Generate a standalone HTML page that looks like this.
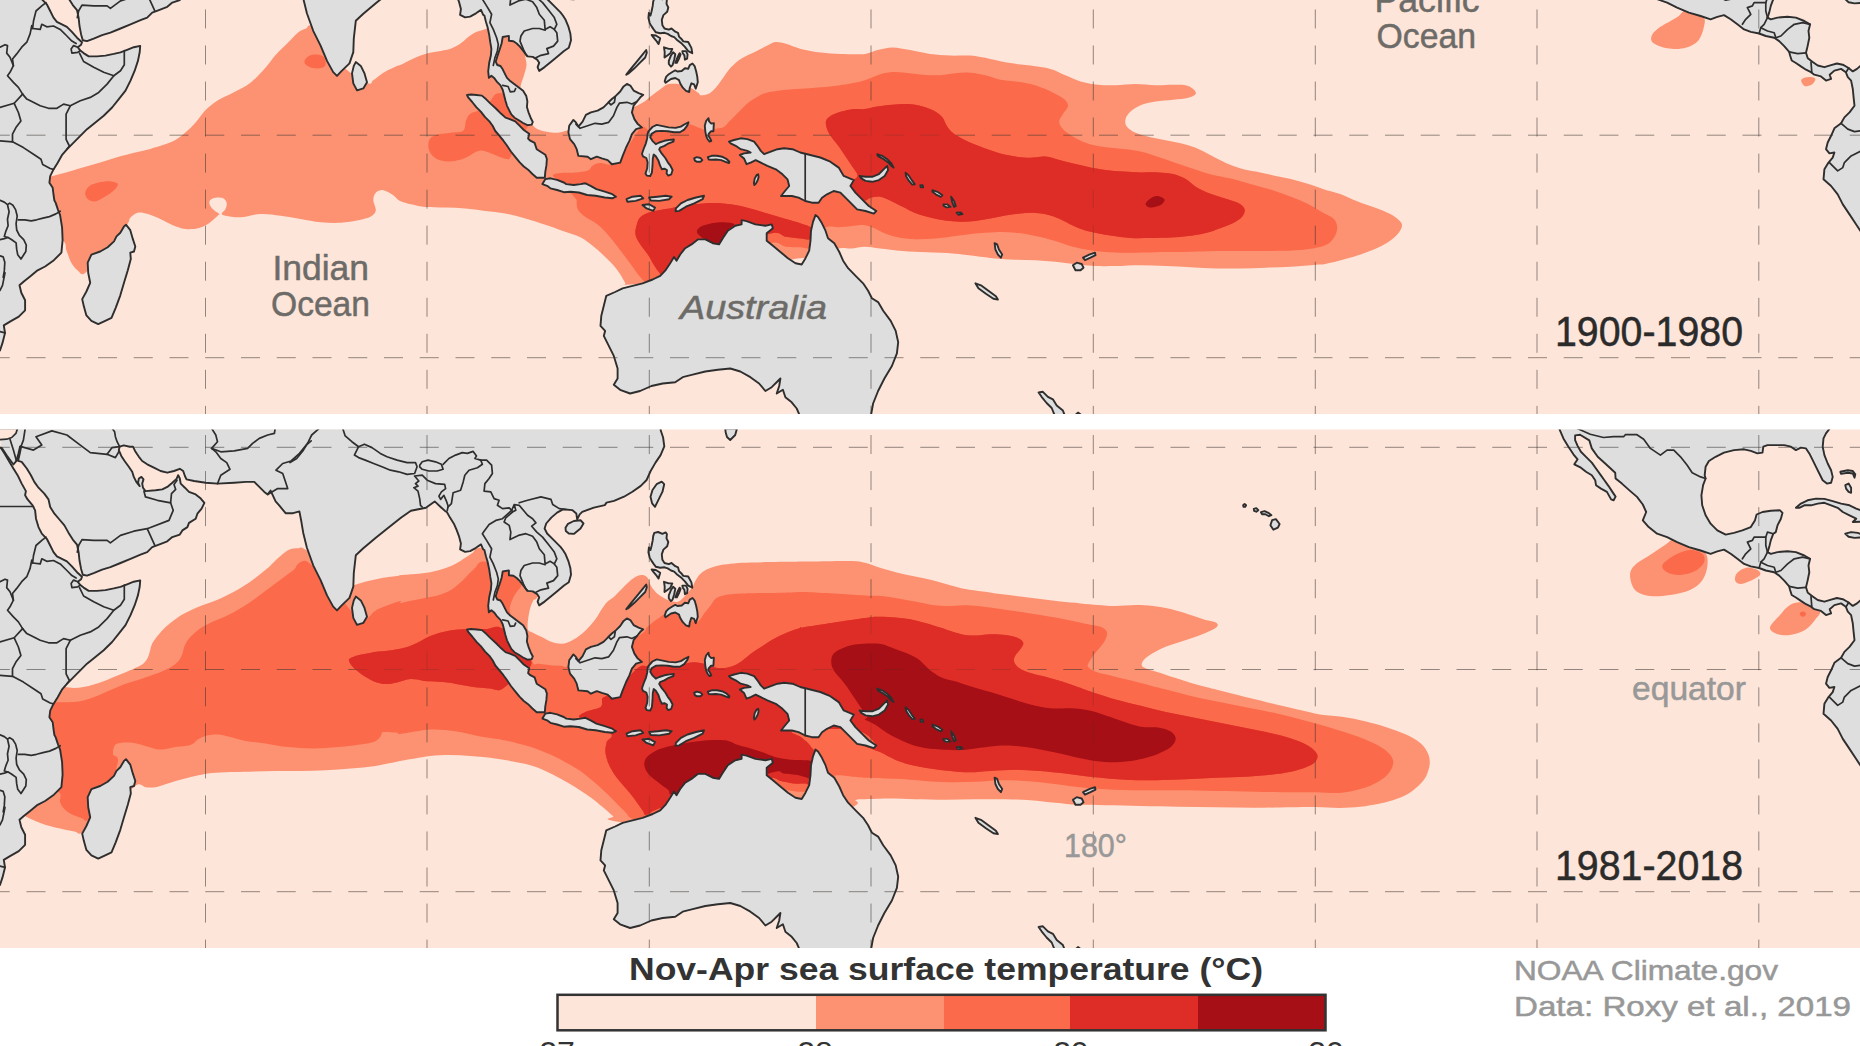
<!DOCTYPE html>
<html><head><meta charset="utf-8">
<style>
html,body{margin:0;padding:0;background:#fff;}
svg{display:block;font-family:"Liberation Sans",sans-serif;}
.lf polygon{fill:#dedede;stroke:#dedede;stroke-width:0.6;}
.sea polygon{fill:#fee5d9;stroke:#2e2e2e;stroke-width:1.7;stroke-linejoin:round;}
.ll polygon,.ll polyline{fill:none;stroke:#2e2e2e;stroke-width:1.9;stroke-linejoin:round;stroke-linecap:round;}
.bd polyline{fill:none;stroke:#2e2e2e;stroke-width:1.7;stroke-linejoin:round;stroke-linecap:round;}
.grid line{stroke:#3a3432;stroke-opacity:0.55;stroke-width:1.0;}
.gh line{stroke-dasharray:19 16.75;stroke-dashoffset:-26.5;}
.gv line{stroke-dasharray:19 17.04;}
.oc{fill:#6d6b68;font-size:35.5px;stroke:#6d6b68;stroke-width:0.5;}
.yr{fill:#2b2b2b;font-size:42px;stroke:#2b2b2b;stroke-width:0.5;}
.gl{fill:#989898;stroke:#989898;stroke-width:0.5;}
</style></head><body>
<svg width="1860" height="1046" viewBox="0 0 1860 1046">
<defs>
<clipPath id="ct"><rect x="0" y="0" width="1860" height="414"/></clipPath>
<clipPath id="cb"><rect x="0" y="429.5" width="1860" height="518.5"/></clipPath>
<clipPath id="lcb">
<polygon points="0.0,884.9 2.5,877.4 5.0,867.4 3.8,859.9 10.0,856.1 18.8,851.1 25.1,844.8 25.1,834.8 21.3,827.3 19.5,819.8 23.8,816.0 30.1,811.0 37.6,804.8 45.1,801.0 53.9,794.7 61.4,787.2 62.6,774.7 62.1,762.2 60.1,749.6 58.1,744.6 55.6,737.1 54.4,735.0 53.5,729.0 52.7,722.3 49.4,717.3 50.2,710.6 53.5,703.9 57.7,697.2 61.9,689.7 66.9,683.8 73.6,677.1 80.3,670.4 87.0,663.7 95.4,657.0 103.7,650.3 112.1,642.0 118.8,633.6 125.5,625.2 130.5,615.2 134.7,605.2 138.0,595.1 139.7,586.8 140.2,580.4 133.8,581.7 127.1,584.3 120.5,586.8 113.8,588.4 105.4,590.1 97.0,590.9 88.7,590.9 83.6,587.6 80.3,585.1 77.8,581.7 81.1,579.2 82.0,576.7 77.0,572.2 71.9,566.4 66.9,561.3 61.9,558.8 56.9,556.3 53.5,552.1 50.2,545.5 46.8,538.8 41.8,533.7 38.5,527.1 36.0,518.7 35.1,510.3 32.6,505.3 27.6,499.4 25.1,495.3 25.9,491.1 21.7,483.6 17.6,475.2 13.4,468.5 9.2,461.5 4.7,453.8 1.0,448.1 -2.0,446.4 -10.0,425.0 -10.0,960.0"/>
<polygon points="1.7,447.8 7.0,455.8 13.4,464.5 16.2,461.1 18.4,453.8 20.1,446.4 21.2,446.4 19.7,453.8 18.1,460.8 21.7,461.8 26.8,468.5 30.9,475.2 34.3,481.9 38.5,487.7 44.3,493.6 48.5,499.4 50.2,507.0 54.4,513.7 59.4,519.5 64.4,525.4 68.6,532.9 72.8,539.6 77.0,544.6 78.6,552.1 79.5,560.5 81.1,568.9 82.8,574.7 87.0,575.6 93.7,573.1 102.1,569.7 110.4,567.2 120.5,563.0 130.5,558.8 140.5,554.7 147.2,552.1 152.2,547.1 158.9,544.6 167.3,541.3 172.3,537.1 179.8,534.6 182.4,530.4 187.4,527.1 189.0,522.9 195.7,518.7 197.4,513.7 201.6,508.6 204.4,502.8 200.8,498.6 195.7,494.4 189.0,491.9 184.9,487.7 180.7,483.6 179.8,478.5 178.2,475.2 176.5,478.9 172.3,482.7 167.3,486.9 162.3,489.4 155.6,490.2 145.5,491.1 143.0,487.7 142.2,483.6 143.5,479.4 141.4,476.9 138.9,478.5 138.0,482.7 139.7,486.1 136.3,481.9 133.8,476.9 132.2,471.8 128.8,466.8 124.6,461.0 121.3,455.9 118.8,450.1 119.6,446.7 123.8,445.4 129.7,446.7 133.0,446.7 135.5,451.8 138.9,456.8 142.2,461.0 147.2,464.3 153.9,467.7 160.6,471.0 167.3,472.7 174.0,471.0 179.8,468.8 183.2,471.0 184.9,476.0 186.5,479.4 194.1,481.0 205.8,482.7 217.5,483.6 234.2,482.7 245.9,481.9 254.3,481.9 259.3,486.9 264.3,491.9 267.7,494.4 270.6,490.6 275.6,501.4 279.4,505.7 285.6,513.2 293.1,513.2 299.4,511.4 301.1,520.2 303.2,532.7 306.9,547.8 313.2,565.3 320.7,580.3 327.0,595.4 333.2,606.6 337.0,610.4 341.2,605.9 349.5,597.9 353.3,586.6 353.8,572.8 355.8,555.3 363.3,548.3 375.8,537.7 388.3,527.7 400.9,517.7 410.9,510.7 425.9,507.7 434.7,501.4 440.9,507.2 445.5,511.4 446.7,511.8 450.0,517.6 454.2,524.3 456.7,530.2 459.2,536.9 460.9,543.6 460.1,549.4 465.1,551.9 470.1,551.1 476.0,547.8 481.0,544.4 483.2,549.4 484.4,550.0 486.0,556.5 487.6,561.8 489.2,569.4 490.3,576.9 491.4,583.3 490.9,589.8 489.2,597.3 488.2,605.9 488.9,612.4 491.4,610.2 494.1,612.4 497.3,616.7 500.5,619.9 502.7,624.2 503.8,628.5 505.4,634.9 507.0,640.3 509.1,644.6 511.3,648.9 514.5,652.2 518.8,654.8 523.1,657.5 527.4,659.7 531.7,659.1 532.8,656.5 530.6,652.2 528.5,646.8 526.9,641.4 527.4,636.0 526.3,630.6 523.1,625.3 518.8,622.0 514.5,618.8 510.2,615.6 507.0,612.4 504.8,608.1 502.7,603.8 500.5,600.5 497.3,599.5 495.7,596.2 497.3,590.9 499.5,584.4 501.6,578.0 502.7,571.5 508.9,570.4 508.9,575.3 513.4,575.8 516.7,578.0 519.9,581.2 524.2,586.6 527.4,590.9 532.8,591.4 537.1,594.1 539.2,597.3 537.6,601.6 539.2,605.4 544.6,601.6 551.1,596.2 557.5,590.9 564.0,585.5 568.8,582.3 571.0,574.7 570.4,568.3 568.3,560.8 565.6,554.3 562.9,550.0 560.5,546.9 553.8,540.2 547.1,533.5 544.6,528.5 546.2,523.5 551.3,517.6 557.1,512.6 563.0,509.3 572.2,510.1 576.3,513.5 577.2,519.3 579.7,514.3 582.2,511.8 593.9,507.6 604.8,505.1 606.5,502.6 614.0,500.9 624.0,496.7 632.4,491.7 640.8,485.9 646.6,480.0 650.5,471.3 655.5,462.6 660.6,455.1 664.3,446.3 663.1,437.5 660.6,430.0 662.6,422.5 0.0,420.0"/>
<polygon points="355.8,596.6 360.8,600.4 364.5,607.9 367.0,616.7 363.3,622.9 357.0,624.9 353.3,617.9 352.0,607.9 353.8,600.4"/>
<polygon points="126.0,759.2 130.3,764.7 132.8,773.4 135.3,781.0 134.0,786.0 130.3,787.2 130.8,793.5 127.8,804.8 124.0,817.3 120.3,829.8 115.7,842.3 111.5,852.4 105.2,855.4 98.2,858.6 91.4,855.4 86.4,849.9 83.9,841.1 82.2,833.6 86.4,826.0 90.2,817.3 88.2,807.3 87.7,797.2 91.4,789.2 100.2,786.0 107.7,781.7 114.0,775.9 116.5,770.9 120.3,767.2 124.0,760.9"/>
<polygon points="565.5,527.7 568.0,523.8 573.8,521.0 580.5,520.2 583.5,523.5 580.5,528.5 573.8,533.9 568.8,533.5 565.8,531.0"/>
<polygon points="650.5,496.7 652.5,490.0 656.6,484.2 661.7,481.7 664.2,484.2 662.5,491.7 658.3,500.1 655.0,506.8 652.1,503.4"/>
<polygon points="654.3,532.9 658.1,532.0 662.4,533.8 665.6,532.4 666.9,534.0 666.5,538.3 668.3,542.0 667.2,546.3 663.4,549.6 661.8,554.4 662.4,559.8 664.5,563.0 668.8,564.1 671.5,563.0 675.3,566.2 678.0,567.3 679.0,571.1 681.2,573.2 683.3,575.9 688.2,576.5 691.4,582.4 692.3,587.7 688.2,585.6 684.9,581.3 681.7,578.1 677.4,574.8 674.2,571.6 671.0,570.5 667.7,568.4 664.5,567.3 660.2,567.8 655.9,566.8 653.8,564.1 651.6,560.9 649.7,557.6 648.4,552.3 648.9,547.4 650.5,550.1 651.6,545.8 652.7,540.4 653.2,536.1"/>
<polygon points="651.6,569.5 655.9,570.0 660.2,572.7 658.6,578.6 655.9,574.8 653.2,571.6"/>
<polygon points="664.0,581.8 668.8,583.4 672.3,583.4 670.4,587.7 666.7,590.4 664.5,592.0 664.7,586.7"/>
<polygon points="668.8,595.3 671.0,589.9 673.1,586.7 675.3,588.8 674.2,594.2 672.6,599.6 671.0,601.2 668.8,598.5"/>
<polygon points="675.3,597.4 677.4,592.0 679.6,587.7 680.6,588.8 679.0,593.1 676.9,597.4"/>
<polygon points="682.3,585.6 686.0,585.6 687.6,588.8 687.1,593.1 684.9,594.2 684.4,589.9 682.8,587.7"/>
<polygon points="664.7,615.7 666.1,611.4 668.8,608.7 673.1,606.0 675.3,604.9 677.4,606.0 681.7,605.5 684.9,602.8 688.2,603.3 689.8,599.6 692.5,598.0 694.6,600.6 696.2,606.0 697.3,611.4 697.8,616.8 695.7,623.2 694.1,618.9 691.4,617.8 689.8,622.2 689.2,626.5 686.0,625.4 682.8,622.2 680.1,617.8 679.0,614.6 675.3,612.5 671.0,613.5 667.7,615.7 665.6,617.3"/>
<polygon points="626.3,609.2 631.2,602.8 636.6,596.3 641.9,589.9 646.2,584.5 646.8,587.2 645.2,592.0 639.8,597.4 634.4,602.8 629.0,607.6"/>
<polygon points="542.4,718.6 545.4,713.6 550.4,712.8 557.1,714.4 563.8,717.0 566.3,718.6 573.8,719.5 580.5,718.6 585.5,717.8 590.6,720.3 596.4,723.6 604.8,726.2 612.3,728.7 616.0,731.2 612.3,732.8 604.8,732.0 595.6,730.3 587.2,729.5 578.9,727.0 570.5,726.2 563.8,726.7 557.1,724.5 550.4,722.8 547.1,720.3"/>
<polygon points="626.5,733.7 632.4,731.2 640.8,730.3 643.3,732.8 635.7,735.4 627.4,736.2"/>
<polygon points="649.1,732.0 657.5,731.2 665.8,730.3 671.7,731.2 669.2,733.7 659.2,735.4 650.8,735.0"/>
<polygon points="642.4,739.5 649.1,738.7 655.0,742.1 653.3,745.4 646.6,742.9"/>
<polygon points="675.9,742.9 680.9,737.9 687.6,734.5 696.0,732.0 704.0,730.3 702.7,733.7 694.3,737.9 685.9,741.2 679.2,745.4 675.6,745.7"/>
<polygon points="800.5,951.8 796.7,943.0 791.7,936.8 785.4,931.8 782.9,924.3 776.7,928.0 779.2,920.5 780.4,913.0 777.9,915.5 771.7,921.7 765.4,925.5 759.1,918.0 750.4,911.7 740.3,906.0 730.3,903.0 717.8,904.2 705.3,906.0 692.7,909.2 682.7,911.7 675.2,916.7 662.7,918.0 651.4,920.5 640.1,925.5 630.1,928.0 620.1,924.3 613.8,919.2 617.6,913.0 617.6,903.0 613.8,890.4 608.8,880.4 603.8,870.4 605.1,865.4 600.5,860.4 601.3,850.3 603.8,840.3 606.3,830.3 615.1,826.5 622.6,822.8 632.6,820.3 642.6,817.8 652.7,814.0 660.2,810.3 665.2,805.2 670.2,797.7 674.0,791.5 676.5,795.2 680.2,789.0 685.2,782.7 691.5,778.9 697.8,773.9 705.3,773.9 712.8,777.7 719.0,778.9 722.8,772.7 727.8,765.2 735.3,760.2 741.6,758.9 741.6,754.6 746.6,755.6 755.4,758.9 765.4,760.2 771.7,758.9 772.9,762.7 766.7,767.7 766.7,775.2 772.9,780.2 780.4,786.5 787.9,792.7 795.5,797.7 801.7,799.0 805.5,792.7 809.2,785.2 810.5,775.2 811.0,765.2 813.0,756.4 815.5,749.6 818.0,751.4 821.8,757.6 825.5,765.2 828.0,772.7 834.3,777.7 839.3,786.5 843.1,795.2 848.1,802.7 855.6,810.3 863.1,817.8 868.1,825.3 871.9,832.8 878.1,836.6 883.2,845.3 890.7,855.4 895.7,865.4 898.2,876.7 896.9,887.9 891.9,900.5 884.4,913.0 878.1,925.5 873.1,938.0 870.6,951.8"/>
<polygon points="975.4,817.8 980.9,819.8 988.4,825.3 995.9,830.8 997.9,834.1 993.4,833.3 985.9,828.3 978.4,822.8"/>
<polygon points="994.6,777.7 997.1,778.9 998.9,784.0 1002.2,789.0 1000.9,792.2 997.9,789.0 995.4,784.0"/>
<polygon points="859.6,710.4 865.5,711.3 872.2,711.3 878.9,708.7 883.9,703.7 887.2,700.4 888.1,704.6 884.7,710.4 878.9,714.6 872.2,716.3 865.5,715.4 861.3,712.9"/>
<polygon points="877.2,688.7 882.2,690.3 887.2,693.7 891.4,697.9 893.6,702.1 891.4,700.4 887.2,696.2 882.2,692.8 878.0,690.7"/>
<polygon points="905.6,707.1 909.0,710.4 912.3,715.4 914.8,718.8 912.3,719.1 909.0,715.4 906.0,710.4"/>
<polygon points="920.3,719.6 922.7,719.6 923.2,721.8 920.7,721.8"/>
<polygon points="932.4,724.6 937.4,726.3 942.4,729.7 940.8,731.3 935.7,728.8 932.4,726.3"/>
<polygon points="951.1,731.3 954.1,735.5 955.8,740.5 954.1,741.4 952.1,736.3"/>
<polygon points="943.3,738.9 947.4,738.9 950.5,741.4 946.6,741.9 943.8,740.5"/>
<polygon points="956.6,747.2 960.8,746.9 962.5,748.6 958.3,749.2"/>
<polygon points="467.0,629.5 471.1,629.0 476.5,629.5 481.9,630.1 486.2,633.8 490.5,638.1 495.9,643.0 501.2,648.3 505.5,652.1 509.8,653.7 515.2,655.9 519.5,660.2 523.8,664.5 529.2,668.2 528.1,673.1 530.3,675.2 534.6,677.4 536.7,683.8 541.0,686.5 545.3,689.2 546.9,693.5 546.4,699.9 545.3,706.4 544.8,712.3 536.7,712.3 532.4,708.5 528.1,704.2 523.8,701.0 519.5,696.7 515.2,691.3 510.9,686.0 506.6,679.5 503.4,675.2 499.1,669.8 495.3,665.5 492.6,660.2 489.4,655.9 485.1,651.6 480.8,646.2 476.5,641.9 472.2,636.5 468.4,632.2"/>
<polygon points="626.9,618.4 630.3,620.1 633.6,625.1 638.6,627.6 643.3,629.3 640.3,631.8 637.0,636.0 633.6,640.2 631.9,646.9 634.4,653.6 637.8,658.6 642.0,661.9 636.1,663.6 631.9,668.6 629.4,675.3 626.1,682.0 622.7,690.4 620.2,697.1 611.9,698.7 607.7,694.6 601.8,692.9 596.8,691.2 590.9,693.7 587.6,691.2 578.4,690.4 576.7,683.7 574.2,678.7 570.0,673.6 568.4,667.0 569.2,660.3 573.4,654.4 575.9,656.9 578.4,661.1 582.6,656.1 585.9,649.4 590.9,646.9 597.6,645.2 603.5,641.9 608.5,636.8 611.9,633.5 616.0,630.2 620.2,626.0 623.6,620.9"/>
<polygon points="729.0,676.2 734.0,674.5 740.7,672.8 747.4,673.6 754.1,676.2 757.4,680.3 760.8,685.4 764.1,688.7 770.8,686.2 777.5,683.7 784.2,682.8 792.5,683.7 800.2,687.0 810.3,689.5 820.3,692.0 830.3,696.2 838.7,702.1 843.7,710.4 853.8,714.6 850.4,720.5 855.4,727.1 862.1,733.8 868.8,740.5 876.3,745.5 873.8,748.1 865.5,745.5 857.1,743.9 850.4,737.2 845.4,732.2 840.4,727.1 833.7,725.5 827.0,728.8 822.0,732.2 818.6,737.2 811.9,737.2 805.2,735.5 798.6,732.2 791.9,730.5 785.2,730.5 781.0,730.5 785.0,725.5 789.2,720.5 787.5,713.8 782.5,708.8 775.8,703.8 767.4,700.4 760.8,697.1 755.7,694.6 750.7,697.1 746.5,698.7 744.0,692.9 739.8,689.5 744.0,687.9 750.7,687.0 747.4,685.4 740.7,683.7 735.7,680.3 730.6,677.8"/>
<polygon points="1558.4,426.7 1563.4,438.4 1568.4,446.7 1573.4,454.3 1577.6,459.3 1574.3,464.3 1580.9,467.7 1586.0,471.8 1591.8,475.2 1595.2,480.2 1596.0,485.2 1601.0,488.6 1606.9,491.9 1611.1,499.4 1613.6,500.3 1615.6,496.6 1611.9,491.1 1608.6,486.1 1604.4,480.2 1600.2,474.4 1596.0,468.5 1591.8,462.6 1586.0,456.8 1580.9,451.8 1577.6,445.9 1575.1,440.1 1575.1,435.4 1580.1,434.7 1589.3,440.4 1591.8,448.4 1597.7,456.8 1605.2,463.5 1615.2,472.7 1615.6,478.5 1621.9,483.6 1630.3,491.1 1637.0,496.9 1642.8,504.5 1646.2,512.0 1642.8,520.4 1648.7,527.1 1657.1,533.7 1667.1,537.1 1677.1,542.1 1688.9,547.1 1700.6,550.5 1710.6,553.8 1717.3,551.3 1724.0,549.6 1730.7,553.8 1737.4,558.8 1744.1,563.9 1750.8,566.4 1759.1,568.0 1765.8,570.5 1774.2,572.2 1779.2,575.6 1784.2,580.6 1789.2,586.4 1790.1,590.0 1791.7,595.0 1795.9,597.5 1800.9,600.9 1806.0,604.2 1811.0,606.7 1814.3,609.2 1821.0,610.9 1826.0,615.1 1831.1,613.4 1829.7,609.2 1834.4,605.1 1841.1,603.4 1845.8,606.7 1847.8,611.7 1851.1,615.1 1852.8,623.5 1853.6,631.8 1854.5,640.2 1849.5,646.9 1844.4,651.9 1841.1,657.8 1834.4,662.8 1831.1,670.3 1827.7,677.0 1826.0,683.7 1829.4,687.9 1834.4,687.0 1832.7,692.1 1828.5,697.1 1824.4,703.8 1823.5,713.8 1831.1,720.5 1837.7,728.9 1842.8,738.9 1849.5,748.9 1856.2,759.0 1861.2,766.7 1880.0,770.0 1862.8,598.4 1857.0,603.4 1852.8,605.9 1848.6,602.5 1842.8,599.2 1836.9,598.0 1831.1,599.7 1824.4,601.7 1817.7,600.0 1812.7,596.4 1808.5,593.3 1807.6,592.3 1806.0,587.3 1807.6,580.6 1809.3,572.2 1808.5,565.5 1810.1,558.8 1804.3,555.5 1795.9,552.1 1787.6,551.3 1777.5,552.1 1770.8,553.8 1767.5,552.1 1769.2,547.1 1770.8,540.4 1773.3,533.7 1775.8,532.1 1777.5,525.4 1780.9,518.7 1782.5,512.8 1780.0,510.3 1770.8,510.7 1762.5,512.0 1756.6,514.5 1754.9,520.4 1750.8,527.1 1742.4,530.4 1734.0,532.9 1725.7,534.6 1717.3,530.4 1710.6,523.7 1705.6,515.3 1702.2,505.3 1701.4,495.3 1703.1,485.2 1705.6,478.5 1704.7,475.2 1705.6,466.8 1708.9,461.0 1715.6,456.8 1724.0,452.6 1734.0,450.1 1744.1,449.3 1750.8,450.9 1757.4,453.4 1762.5,452.6 1763.3,446.7 1767.5,445.1 1775.8,445.1 1784.2,445.1 1790.9,446.7 1795.9,450.1 1800.9,447.6 1806.0,448.4 1809.3,453.4 1812.7,460.1 1816.0,466.8 1819.3,473.5 1822.7,480.2 1826.9,483.6 1831.1,482.7 1832.7,476.9 1831.1,470.2 1827.7,463.5 1824.4,455.1 1822.7,446.7 1823.5,438.4 1826.0,433.4 1831.1,426.7"/>
<polygon points="1795.9,507.8 1800.9,503.6 1807.6,500.3 1816.0,498.6 1824.4,498.9 1832.7,501.1 1841.1,503.6 1849.5,505.3 1856.2,508.6 1862.8,511.2 1862.8,521.7 1852.8,522.0 1856.2,518.7 1849.5,515.3 1842.8,512.0 1837.7,507.8 1831.1,505.3 1824.4,502.8 1817.7,503.6 1811.0,505.3 1804.3,505.3 1799.3,507.8"/>
<polygon points="1845.3,533.7 1851.1,532.1 1857.8,532.9 1862.8,534.6 1862.8,537.4 1854.5,537.9 1848.6,536.8"/>
<polygon points="1840.3,471.8 1847.8,470.2 1852.8,471.0 1855.3,474.4 1854.5,477.7 1852.8,473.5 1847.8,472.7 1841.1,473.9"/>
<polygon points="1845.3,485.2 1848.6,483.6 1851.1,487.7 1851.1,492.8 1848.6,491.9 1846.1,488.6"/>
<polygon points="725.2,428.5 737.0,428.5 735.2,435.0 730.2,440.0 727.0,437.0 725.7,432.5"/>
<polygon points="1243.1,505.2 1244.6,503.9 1246.1,505.2 1245.1,506.9 1243.6,506.9"/>
<polygon points="1253.8,508.9 1256.3,508.2 1258.3,510.2 1256.3,511.7 1254.1,510.9"/>
<polygon points="1260.9,512.2 1264.6,511.2 1268.9,513.2 1271.4,515.2 1268.9,516.2 1265.4,514.2 1262.1,514.2"/>
<polygon points="1270.4,525.2 1272.1,520.2 1275.9,519.2 1279.6,524.0 1277.9,527.7 1273.4,529.7"/>
<polygon points="1072.9,799.7 1076.7,797.2 1081.7,798.5 1083.5,802.2 1080.5,804.8 1075.5,804.8"/>
<polygon points="1083.0,792.2 1089.2,789.2 1095.0,787.2 1095.5,789.7 1090.5,792.2 1085.0,794.7"/>
<polygon points="1038.6,927.0 1042.9,926.3 1047.9,931.3 1052.9,933.8 1056.7,940.0 1062.9,945.1 1065.4,951.6 1055.4,951.6 1051.7,942.5 1046.6,937.5 1041.6,931.3"/>
<polygon points="1072.9,951.6 1078.0,947.1 1084.2,951.6"/>
<polygon points="648.5,665.8 652.4,661.5 656.7,659.4 662.7,660.6 668.7,661.9 675.6,662.4 680.8,661.1 685.1,658.5 688.5,656.8 687.2,660.2 684.2,664.1 679.9,666.7 673.9,666.7 667.8,665.8 661.8,665.4 655.8,665.8 651.5,668.4 650.2,671.8 652.4,675.3 655.8,678.7 659.2,677.0 664.4,675.3 669.6,674.4 673.9,674.0 673.4,676.1 668.7,677.8 664.4,680.4 660.1,682.2 659.2,683.9 661.8,688.2 665.3,692.5 667.8,696.8 670.4,700.2 672.6,704.5 671.3,708.8 668.3,710.1 666.6,708.0 667.0,704.5 664.4,703.2 661.8,703.7 660.1,700.2 658.4,695.1 655.8,690.8 653.7,689.0 652.8,693.3 652.5,700.2 651.9,707.1 650.2,710.5 646.8,710.1 645.5,708.0 647.2,702.8 647.6,696.8 646.3,692.5 642.9,690.8 642.0,688.2 643.8,683.0 645.9,677.8 647.2,672.7 647.6,668.4"/>
<polygon points="704.8,660.2 706.1,655.5 708.5,652.7 709.1,655.9 711.3,658.1 713.9,657.6 713.6,662.4 713.4,665.8 710.9,665.8 708.7,668.4 708.3,670.1 710.0,672.7 711.3,675.3 709.6,676.1 707.4,673.5 706.1,670.1 705.3,665.8"/>
<polygon points="694.1,692.9 696.7,691.6 700.5,692.5 702.3,694.6 700.5,696.3 697.1,696.3 694.9,695.1"/>
<polygon points="707.8,691.6 711.7,690.3 716.9,690.3 722.0,691.2 726.3,693.3 729.4,696.3 728.9,697.6 725.5,696.3 721.2,694.6 716.0,694.0 711.7,694.2 708.7,694.0"/>
<polygon points="753.9,717.4 754.7,713.1 756.5,709.7 758.2,708.8 758.6,711.4 757.7,714.8 756.0,717.8 754.3,719.6"/>
</clipPath>
<clipPath id="lct" transform="translate(0,-534.5)">
<polygon points="0.0,884.9 2.5,877.4 5.0,867.4 3.8,859.9 10.0,856.1 18.8,851.1 25.1,844.8 25.1,834.8 21.3,827.3 19.5,819.8 23.8,816.0 30.1,811.0 37.6,804.8 45.1,801.0 53.9,794.7 61.4,787.2 62.6,774.7 62.1,762.2 60.1,749.6 58.1,744.6 55.6,737.1 54.4,735.0 53.5,729.0 52.7,722.3 49.4,717.3 50.2,710.6 53.5,703.9 57.7,697.2 61.9,689.7 66.9,683.8 73.6,677.1 80.3,670.4 87.0,663.7 95.4,657.0 103.7,650.3 112.1,642.0 118.8,633.6 125.5,625.2 130.5,615.2 134.7,605.2 138.0,595.1 139.7,586.8 140.2,580.4 133.8,581.7 127.1,584.3 120.5,586.8 113.8,588.4 105.4,590.1 97.0,590.9 88.7,590.9 83.6,587.6 80.3,585.1 77.8,581.7 81.1,579.2 82.0,576.7 77.0,572.2 71.9,566.4 66.9,561.3 61.9,558.8 56.9,556.3 53.5,552.1 50.2,545.5 46.8,538.8 41.8,533.7 38.5,527.1 36.0,518.7 35.1,510.3 32.6,505.3 27.6,499.4 25.1,495.3 25.9,491.1 21.7,483.6 17.6,475.2 13.4,468.5 9.2,461.5 4.7,453.8 1.0,448.1 -2.0,446.4 -10.0,425.0 -10.0,960.0"/>
<polygon points="1.7,447.8 7.0,455.8 13.4,464.5 16.2,461.1 18.4,453.8 20.1,446.4 21.2,446.4 19.7,453.8 18.1,460.8 21.7,461.8 26.8,468.5 30.9,475.2 34.3,481.9 38.5,487.7 44.3,493.6 48.5,499.4 50.2,507.0 54.4,513.7 59.4,519.5 64.4,525.4 68.6,532.9 72.8,539.6 77.0,544.6 78.6,552.1 79.5,560.5 81.1,568.9 82.8,574.7 87.0,575.6 93.7,573.1 102.1,569.7 110.4,567.2 120.5,563.0 130.5,558.8 140.5,554.7 147.2,552.1 152.2,547.1 158.9,544.6 167.3,541.3 172.3,537.1 179.8,534.6 182.4,530.4 187.4,527.1 189.0,522.9 195.7,518.7 197.4,513.7 201.6,508.6 204.4,502.8 200.8,498.6 195.7,494.4 189.0,491.9 184.9,487.7 180.7,483.6 179.8,478.5 178.2,475.2 176.5,478.9 172.3,482.7 167.3,486.9 162.3,489.4 155.6,490.2 145.5,491.1 143.0,487.7 142.2,483.6 143.5,479.4 141.4,476.9 138.9,478.5 138.0,482.7 139.7,486.1 136.3,481.9 133.8,476.9 132.2,471.8 128.8,466.8 124.6,461.0 121.3,455.9 118.8,450.1 119.6,446.7 123.8,445.4 129.7,446.7 133.0,446.7 135.5,451.8 138.9,456.8 142.2,461.0 147.2,464.3 153.9,467.7 160.6,471.0 167.3,472.7 174.0,471.0 179.8,468.8 183.2,471.0 184.9,476.0 186.5,479.4 194.1,481.0 205.8,482.7 217.5,483.6 234.2,482.7 245.9,481.9 254.3,481.9 259.3,486.9 264.3,491.9 267.7,494.4 270.6,490.6 275.6,501.4 279.4,505.7 285.6,513.2 293.1,513.2 299.4,511.4 301.1,520.2 303.2,532.7 306.9,547.8 313.2,565.3 320.7,580.3 327.0,595.4 333.2,606.6 337.0,610.4 341.2,605.9 349.5,597.9 353.3,586.6 353.8,572.8 355.8,555.3 363.3,548.3 375.8,537.7 388.3,527.7 400.9,517.7 410.9,510.7 425.9,507.7 434.7,501.4 440.9,507.2 445.5,511.4 446.7,511.8 450.0,517.6 454.2,524.3 456.7,530.2 459.2,536.9 460.9,543.6 460.1,549.4 465.1,551.9 470.1,551.1 476.0,547.8 481.0,544.4 483.2,549.4 484.4,550.0 486.0,556.5 487.6,561.8 489.2,569.4 490.3,576.9 491.4,583.3 490.9,589.8 489.2,597.3 488.2,605.9 488.9,612.4 491.4,610.2 494.1,612.4 497.3,616.7 500.5,619.9 502.7,624.2 503.8,628.5 505.4,634.9 507.0,640.3 509.1,644.6 511.3,648.9 514.5,652.2 518.8,654.8 523.1,657.5 527.4,659.7 531.7,659.1 532.8,656.5 530.6,652.2 528.5,646.8 526.9,641.4 527.4,636.0 526.3,630.6 523.1,625.3 518.8,622.0 514.5,618.8 510.2,615.6 507.0,612.4 504.8,608.1 502.7,603.8 500.5,600.5 497.3,599.5 495.7,596.2 497.3,590.9 499.5,584.4 501.6,578.0 502.7,571.5 508.9,570.4 508.9,575.3 513.4,575.8 516.7,578.0 519.9,581.2 524.2,586.6 527.4,590.9 532.8,591.4 537.1,594.1 539.2,597.3 537.6,601.6 539.2,605.4 544.6,601.6 551.1,596.2 557.5,590.9 564.0,585.5 568.8,582.3 571.0,574.7 570.4,568.3 568.3,560.8 565.6,554.3 562.9,550.0 560.5,546.9 553.8,540.2 547.1,533.5 544.6,528.5 546.2,523.5 551.3,517.6 557.1,512.6 563.0,509.3 572.2,510.1 576.3,513.5 577.2,519.3 579.7,514.3 582.2,511.8 593.9,507.6 604.8,505.1 606.5,502.6 614.0,500.9 624.0,496.7 632.4,491.7 640.8,485.9 646.6,480.0 650.5,471.3 655.5,462.6 660.6,455.1 664.3,446.3 663.1,437.5 660.6,430.0 662.6,422.5 0.0,420.0"/>
<polygon points="355.8,596.6 360.8,600.4 364.5,607.9 367.0,616.7 363.3,622.9 357.0,624.9 353.3,617.9 352.0,607.9 353.8,600.4"/>
<polygon points="126.0,759.2 130.3,764.7 132.8,773.4 135.3,781.0 134.0,786.0 130.3,787.2 130.8,793.5 127.8,804.8 124.0,817.3 120.3,829.8 115.7,842.3 111.5,852.4 105.2,855.4 98.2,858.6 91.4,855.4 86.4,849.9 83.9,841.1 82.2,833.6 86.4,826.0 90.2,817.3 88.2,807.3 87.7,797.2 91.4,789.2 100.2,786.0 107.7,781.7 114.0,775.9 116.5,770.9 120.3,767.2 124.0,760.9"/>
<polygon points="565.5,527.7 568.0,523.8 573.8,521.0 580.5,520.2 583.5,523.5 580.5,528.5 573.8,533.9 568.8,533.5 565.8,531.0"/>
<polygon points="650.5,496.7 652.5,490.0 656.6,484.2 661.7,481.7 664.2,484.2 662.5,491.7 658.3,500.1 655.0,506.8 652.1,503.4"/>
<polygon points="654.3,532.9 658.1,532.0 662.4,533.8 665.6,532.4 666.9,534.0 666.5,538.3 668.3,542.0 667.2,546.3 663.4,549.6 661.8,554.4 662.4,559.8 664.5,563.0 668.8,564.1 671.5,563.0 675.3,566.2 678.0,567.3 679.0,571.1 681.2,573.2 683.3,575.9 688.2,576.5 691.4,582.4 692.3,587.7 688.2,585.6 684.9,581.3 681.7,578.1 677.4,574.8 674.2,571.6 671.0,570.5 667.7,568.4 664.5,567.3 660.2,567.8 655.9,566.8 653.8,564.1 651.6,560.9 649.7,557.6 648.4,552.3 648.9,547.4 650.5,550.1 651.6,545.8 652.7,540.4 653.2,536.1"/>
<polygon points="651.6,569.5 655.9,570.0 660.2,572.7 658.6,578.6 655.9,574.8 653.2,571.6"/>
<polygon points="664.0,581.8 668.8,583.4 672.3,583.4 670.4,587.7 666.7,590.4 664.5,592.0 664.7,586.7"/>
<polygon points="668.8,595.3 671.0,589.9 673.1,586.7 675.3,588.8 674.2,594.2 672.6,599.6 671.0,601.2 668.8,598.5"/>
<polygon points="675.3,597.4 677.4,592.0 679.6,587.7 680.6,588.8 679.0,593.1 676.9,597.4"/>
<polygon points="682.3,585.6 686.0,585.6 687.6,588.8 687.1,593.1 684.9,594.2 684.4,589.9 682.8,587.7"/>
<polygon points="664.7,615.7 666.1,611.4 668.8,608.7 673.1,606.0 675.3,604.9 677.4,606.0 681.7,605.5 684.9,602.8 688.2,603.3 689.8,599.6 692.5,598.0 694.6,600.6 696.2,606.0 697.3,611.4 697.8,616.8 695.7,623.2 694.1,618.9 691.4,617.8 689.8,622.2 689.2,626.5 686.0,625.4 682.8,622.2 680.1,617.8 679.0,614.6 675.3,612.5 671.0,613.5 667.7,615.7 665.6,617.3"/>
<polygon points="626.3,609.2 631.2,602.8 636.6,596.3 641.9,589.9 646.2,584.5 646.8,587.2 645.2,592.0 639.8,597.4 634.4,602.8 629.0,607.6"/>
<polygon points="542.4,718.6 545.4,713.6 550.4,712.8 557.1,714.4 563.8,717.0 566.3,718.6 573.8,719.5 580.5,718.6 585.5,717.8 590.6,720.3 596.4,723.6 604.8,726.2 612.3,728.7 616.0,731.2 612.3,732.8 604.8,732.0 595.6,730.3 587.2,729.5 578.9,727.0 570.5,726.2 563.8,726.7 557.1,724.5 550.4,722.8 547.1,720.3"/>
<polygon points="626.5,733.7 632.4,731.2 640.8,730.3 643.3,732.8 635.7,735.4 627.4,736.2"/>
<polygon points="649.1,732.0 657.5,731.2 665.8,730.3 671.7,731.2 669.2,733.7 659.2,735.4 650.8,735.0"/>
<polygon points="642.4,739.5 649.1,738.7 655.0,742.1 653.3,745.4 646.6,742.9"/>
<polygon points="675.9,742.9 680.9,737.9 687.6,734.5 696.0,732.0 704.0,730.3 702.7,733.7 694.3,737.9 685.9,741.2 679.2,745.4 675.6,745.7"/>
<polygon points="800.5,951.8 796.7,943.0 791.7,936.8 785.4,931.8 782.9,924.3 776.7,928.0 779.2,920.5 780.4,913.0 777.9,915.5 771.7,921.7 765.4,925.5 759.1,918.0 750.4,911.7 740.3,906.0 730.3,903.0 717.8,904.2 705.3,906.0 692.7,909.2 682.7,911.7 675.2,916.7 662.7,918.0 651.4,920.5 640.1,925.5 630.1,928.0 620.1,924.3 613.8,919.2 617.6,913.0 617.6,903.0 613.8,890.4 608.8,880.4 603.8,870.4 605.1,865.4 600.5,860.4 601.3,850.3 603.8,840.3 606.3,830.3 615.1,826.5 622.6,822.8 632.6,820.3 642.6,817.8 652.7,814.0 660.2,810.3 665.2,805.2 670.2,797.7 674.0,791.5 676.5,795.2 680.2,789.0 685.2,782.7 691.5,778.9 697.8,773.9 705.3,773.9 712.8,777.7 719.0,778.9 722.8,772.7 727.8,765.2 735.3,760.2 741.6,758.9 741.6,754.6 746.6,755.6 755.4,758.9 765.4,760.2 771.7,758.9 772.9,762.7 766.7,767.7 766.7,775.2 772.9,780.2 780.4,786.5 787.9,792.7 795.5,797.7 801.7,799.0 805.5,792.7 809.2,785.2 810.5,775.2 811.0,765.2 813.0,756.4 815.5,749.6 818.0,751.4 821.8,757.6 825.5,765.2 828.0,772.7 834.3,777.7 839.3,786.5 843.1,795.2 848.1,802.7 855.6,810.3 863.1,817.8 868.1,825.3 871.9,832.8 878.1,836.6 883.2,845.3 890.7,855.4 895.7,865.4 898.2,876.7 896.9,887.9 891.9,900.5 884.4,913.0 878.1,925.5 873.1,938.0 870.6,951.8"/>
<polygon points="975.4,817.8 980.9,819.8 988.4,825.3 995.9,830.8 997.9,834.1 993.4,833.3 985.9,828.3 978.4,822.8"/>
<polygon points="994.6,777.7 997.1,778.9 998.9,784.0 1002.2,789.0 1000.9,792.2 997.9,789.0 995.4,784.0"/>
<polygon points="859.6,710.4 865.5,711.3 872.2,711.3 878.9,708.7 883.9,703.7 887.2,700.4 888.1,704.6 884.7,710.4 878.9,714.6 872.2,716.3 865.5,715.4 861.3,712.9"/>
<polygon points="877.2,688.7 882.2,690.3 887.2,693.7 891.4,697.9 893.6,702.1 891.4,700.4 887.2,696.2 882.2,692.8 878.0,690.7"/>
<polygon points="905.6,707.1 909.0,710.4 912.3,715.4 914.8,718.8 912.3,719.1 909.0,715.4 906.0,710.4"/>
<polygon points="920.3,719.6 922.7,719.6 923.2,721.8 920.7,721.8"/>
<polygon points="932.4,724.6 937.4,726.3 942.4,729.7 940.8,731.3 935.7,728.8 932.4,726.3"/>
<polygon points="951.1,731.3 954.1,735.5 955.8,740.5 954.1,741.4 952.1,736.3"/>
<polygon points="943.3,738.9 947.4,738.9 950.5,741.4 946.6,741.9 943.8,740.5"/>
<polygon points="956.6,747.2 960.8,746.9 962.5,748.6 958.3,749.2"/>
<polygon points="467.0,629.5 471.1,629.0 476.5,629.5 481.9,630.1 486.2,633.8 490.5,638.1 495.9,643.0 501.2,648.3 505.5,652.1 509.8,653.7 515.2,655.9 519.5,660.2 523.8,664.5 529.2,668.2 528.1,673.1 530.3,675.2 534.6,677.4 536.7,683.8 541.0,686.5 545.3,689.2 546.9,693.5 546.4,699.9 545.3,706.4 544.8,712.3 536.7,712.3 532.4,708.5 528.1,704.2 523.8,701.0 519.5,696.7 515.2,691.3 510.9,686.0 506.6,679.5 503.4,675.2 499.1,669.8 495.3,665.5 492.6,660.2 489.4,655.9 485.1,651.6 480.8,646.2 476.5,641.9 472.2,636.5 468.4,632.2"/>
<polygon points="626.9,618.4 630.3,620.1 633.6,625.1 638.6,627.6 643.3,629.3 640.3,631.8 637.0,636.0 633.6,640.2 631.9,646.9 634.4,653.6 637.8,658.6 642.0,661.9 636.1,663.6 631.9,668.6 629.4,675.3 626.1,682.0 622.7,690.4 620.2,697.1 611.9,698.7 607.7,694.6 601.8,692.9 596.8,691.2 590.9,693.7 587.6,691.2 578.4,690.4 576.7,683.7 574.2,678.7 570.0,673.6 568.4,667.0 569.2,660.3 573.4,654.4 575.9,656.9 578.4,661.1 582.6,656.1 585.9,649.4 590.9,646.9 597.6,645.2 603.5,641.9 608.5,636.8 611.9,633.5 616.0,630.2 620.2,626.0 623.6,620.9"/>
<polygon points="729.0,676.2 734.0,674.5 740.7,672.8 747.4,673.6 754.1,676.2 757.4,680.3 760.8,685.4 764.1,688.7 770.8,686.2 777.5,683.7 784.2,682.8 792.5,683.7 800.2,687.0 810.3,689.5 820.3,692.0 830.3,696.2 838.7,702.1 843.7,710.4 853.8,714.6 850.4,720.5 855.4,727.1 862.1,733.8 868.8,740.5 876.3,745.5 873.8,748.1 865.5,745.5 857.1,743.9 850.4,737.2 845.4,732.2 840.4,727.1 833.7,725.5 827.0,728.8 822.0,732.2 818.6,737.2 811.9,737.2 805.2,735.5 798.6,732.2 791.9,730.5 785.2,730.5 781.0,730.5 785.0,725.5 789.2,720.5 787.5,713.8 782.5,708.8 775.8,703.8 767.4,700.4 760.8,697.1 755.7,694.6 750.7,697.1 746.5,698.7 744.0,692.9 739.8,689.5 744.0,687.9 750.7,687.0 747.4,685.4 740.7,683.7 735.7,680.3 730.6,677.8"/>
<polygon points="1558.4,426.7 1563.4,438.4 1568.4,446.7 1573.4,454.3 1577.6,459.3 1574.3,464.3 1580.9,467.7 1586.0,471.8 1591.8,475.2 1595.2,480.2 1596.0,485.2 1601.0,488.6 1606.9,491.9 1611.1,499.4 1613.6,500.3 1615.6,496.6 1611.9,491.1 1608.6,486.1 1604.4,480.2 1600.2,474.4 1596.0,468.5 1591.8,462.6 1586.0,456.8 1580.9,451.8 1577.6,445.9 1575.1,440.1 1575.1,435.4 1580.1,434.7 1589.3,440.4 1591.8,448.4 1597.7,456.8 1605.2,463.5 1615.2,472.7 1615.6,478.5 1621.9,483.6 1630.3,491.1 1637.0,496.9 1642.8,504.5 1646.2,512.0 1642.8,520.4 1648.7,527.1 1657.1,533.7 1667.1,537.1 1677.1,542.1 1688.9,547.1 1700.6,550.5 1710.6,553.8 1717.3,551.3 1724.0,549.6 1730.7,553.8 1737.4,558.8 1744.1,563.9 1750.8,566.4 1759.1,568.0 1765.8,570.5 1774.2,572.2 1779.2,575.6 1784.2,580.6 1789.2,586.4 1790.1,590.0 1791.7,595.0 1795.9,597.5 1800.9,600.9 1806.0,604.2 1811.0,606.7 1814.3,609.2 1821.0,610.9 1826.0,615.1 1831.1,613.4 1829.7,609.2 1834.4,605.1 1841.1,603.4 1845.8,606.7 1847.8,611.7 1851.1,615.1 1852.8,623.5 1853.6,631.8 1854.5,640.2 1849.5,646.9 1844.4,651.9 1841.1,657.8 1834.4,662.8 1831.1,670.3 1827.7,677.0 1826.0,683.7 1829.4,687.9 1834.4,687.0 1832.7,692.1 1828.5,697.1 1824.4,703.8 1823.5,713.8 1831.1,720.5 1837.7,728.9 1842.8,738.9 1849.5,748.9 1856.2,759.0 1861.2,766.7 1880.0,770.0 1862.8,598.4 1857.0,603.4 1852.8,605.9 1848.6,602.5 1842.8,599.2 1836.9,598.0 1831.1,599.7 1824.4,601.7 1817.7,600.0 1812.7,596.4 1808.5,593.3 1807.6,592.3 1806.0,587.3 1807.6,580.6 1809.3,572.2 1808.5,565.5 1810.1,558.8 1804.3,555.5 1795.9,552.1 1787.6,551.3 1777.5,552.1 1770.8,553.8 1767.5,552.1 1769.2,547.1 1770.8,540.4 1773.3,533.7 1775.8,532.1 1777.5,525.4 1780.9,518.7 1782.5,512.8 1780.0,510.3 1770.8,510.7 1762.5,512.0 1756.6,514.5 1754.9,520.4 1750.8,527.1 1742.4,530.4 1734.0,532.9 1725.7,534.6 1717.3,530.4 1710.6,523.7 1705.6,515.3 1702.2,505.3 1701.4,495.3 1703.1,485.2 1705.6,478.5 1704.7,475.2 1705.6,466.8 1708.9,461.0 1715.6,456.8 1724.0,452.6 1734.0,450.1 1744.1,449.3 1750.8,450.9 1757.4,453.4 1762.5,452.6 1763.3,446.7 1767.5,445.1 1775.8,445.1 1784.2,445.1 1790.9,446.7 1795.9,450.1 1800.9,447.6 1806.0,448.4 1809.3,453.4 1812.7,460.1 1816.0,466.8 1819.3,473.5 1822.7,480.2 1826.9,483.6 1831.1,482.7 1832.7,476.9 1831.1,470.2 1827.7,463.5 1824.4,455.1 1822.7,446.7 1823.5,438.4 1826.0,433.4 1831.1,426.7"/>
<polygon points="1795.9,507.8 1800.9,503.6 1807.6,500.3 1816.0,498.6 1824.4,498.9 1832.7,501.1 1841.1,503.6 1849.5,505.3 1856.2,508.6 1862.8,511.2 1862.8,521.7 1852.8,522.0 1856.2,518.7 1849.5,515.3 1842.8,512.0 1837.7,507.8 1831.1,505.3 1824.4,502.8 1817.7,503.6 1811.0,505.3 1804.3,505.3 1799.3,507.8"/>
<polygon points="1845.3,533.7 1851.1,532.1 1857.8,532.9 1862.8,534.6 1862.8,537.4 1854.5,537.9 1848.6,536.8"/>
<polygon points="1840.3,471.8 1847.8,470.2 1852.8,471.0 1855.3,474.4 1854.5,477.7 1852.8,473.5 1847.8,472.7 1841.1,473.9"/>
<polygon points="1845.3,485.2 1848.6,483.6 1851.1,487.7 1851.1,492.8 1848.6,491.9 1846.1,488.6"/>
<polygon points="725.2,428.5 737.0,428.5 735.2,435.0 730.2,440.0 727.0,437.0 725.7,432.5"/>
<polygon points="1243.1,505.2 1244.6,503.9 1246.1,505.2 1245.1,506.9 1243.6,506.9"/>
<polygon points="1253.8,508.9 1256.3,508.2 1258.3,510.2 1256.3,511.7 1254.1,510.9"/>
<polygon points="1260.9,512.2 1264.6,511.2 1268.9,513.2 1271.4,515.2 1268.9,516.2 1265.4,514.2 1262.1,514.2"/>
<polygon points="1270.4,525.2 1272.1,520.2 1275.9,519.2 1279.6,524.0 1277.9,527.7 1273.4,529.7"/>
<polygon points="1072.9,799.7 1076.7,797.2 1081.7,798.5 1083.5,802.2 1080.5,804.8 1075.5,804.8"/>
<polygon points="1083.0,792.2 1089.2,789.2 1095.0,787.2 1095.5,789.7 1090.5,792.2 1085.0,794.7"/>
<polygon points="1038.6,927.0 1042.9,926.3 1047.9,931.3 1052.9,933.8 1056.7,940.0 1062.9,945.1 1065.4,951.6 1055.4,951.6 1051.7,942.5 1046.6,937.5 1041.6,931.3"/>
<polygon points="1072.9,951.6 1078.0,947.1 1084.2,951.6"/>
<polygon points="648.5,665.8 652.4,661.5 656.7,659.4 662.7,660.6 668.7,661.9 675.6,662.4 680.8,661.1 685.1,658.5 688.5,656.8 687.2,660.2 684.2,664.1 679.9,666.7 673.9,666.7 667.8,665.8 661.8,665.4 655.8,665.8 651.5,668.4 650.2,671.8 652.4,675.3 655.8,678.7 659.2,677.0 664.4,675.3 669.6,674.4 673.9,674.0 673.4,676.1 668.7,677.8 664.4,680.4 660.1,682.2 659.2,683.9 661.8,688.2 665.3,692.5 667.8,696.8 670.4,700.2 672.6,704.5 671.3,708.8 668.3,710.1 666.6,708.0 667.0,704.5 664.4,703.2 661.8,703.7 660.1,700.2 658.4,695.1 655.8,690.8 653.7,689.0 652.8,693.3 652.5,700.2 651.9,707.1 650.2,710.5 646.8,710.1 645.5,708.0 647.2,702.8 647.6,696.8 646.3,692.5 642.9,690.8 642.0,688.2 643.8,683.0 645.9,677.8 647.2,672.7 647.6,668.4"/>
<polygon points="704.8,660.2 706.1,655.5 708.5,652.7 709.1,655.9 711.3,658.1 713.9,657.6 713.6,662.4 713.4,665.8 710.9,665.8 708.7,668.4 708.3,670.1 710.0,672.7 711.3,675.3 709.6,676.1 707.4,673.5 706.1,670.1 705.3,665.8"/>
<polygon points="694.1,692.9 696.7,691.6 700.5,692.5 702.3,694.6 700.5,696.3 697.1,696.3 694.9,695.1"/>
<polygon points="707.8,691.6 711.7,690.3 716.9,690.3 722.0,691.2 726.3,693.3 729.4,696.3 728.9,697.6 725.5,696.3 721.2,694.6 716.0,694.0 711.7,694.2 708.7,694.0"/>
<polygon points="753.9,717.4 754.7,713.1 756.5,709.7 758.2,708.8 758.6,711.4 757.7,714.8 756.0,717.8 754.3,719.6"/>
</clipPath>
<g id="land">
<g class="lf">
<polygon points="0.0,884.9 2.5,877.4 5.0,867.4 3.8,859.9 10.0,856.1 18.8,851.1 25.1,844.8 25.1,834.8 21.3,827.3 19.5,819.8 23.8,816.0 30.1,811.0 37.6,804.8 45.1,801.0 53.9,794.7 61.4,787.2 62.6,774.7 62.1,762.2 60.1,749.6 58.1,744.6 55.6,737.1 54.4,735.0 53.5,729.0 52.7,722.3 49.4,717.3 50.2,710.6 53.5,703.9 57.7,697.2 61.9,689.7 66.9,683.8 73.6,677.1 80.3,670.4 87.0,663.7 95.4,657.0 103.7,650.3 112.1,642.0 118.8,633.6 125.5,625.2 130.5,615.2 134.7,605.2 138.0,595.1 139.7,586.8 140.2,580.4 133.8,581.7 127.1,584.3 120.5,586.8 113.8,588.4 105.4,590.1 97.0,590.9 88.7,590.9 83.6,587.6 80.3,585.1 77.8,581.7 81.1,579.2 82.0,576.7 77.0,572.2 71.9,566.4 66.9,561.3 61.9,558.8 56.9,556.3 53.5,552.1 50.2,545.5 46.8,538.8 41.8,533.7 38.5,527.1 36.0,518.7 35.1,510.3 32.6,505.3 27.6,499.4 25.1,495.3 25.9,491.1 21.7,483.6 17.6,475.2 13.4,468.5 9.2,461.5 4.7,453.8 1.0,448.1 -2.0,446.4 -10.0,425.0 -10.0,960.0"/>
<polygon points="1.7,447.8 7.0,455.8 13.4,464.5 16.2,461.1 18.4,453.8 20.1,446.4 21.2,446.4 19.7,453.8 18.1,460.8 21.7,461.8 26.8,468.5 30.9,475.2 34.3,481.9 38.5,487.7 44.3,493.6 48.5,499.4 50.2,507.0 54.4,513.7 59.4,519.5 64.4,525.4 68.6,532.9 72.8,539.6 77.0,544.6 78.6,552.1 79.5,560.5 81.1,568.9 82.8,574.7 87.0,575.6 93.7,573.1 102.1,569.7 110.4,567.2 120.5,563.0 130.5,558.8 140.5,554.7 147.2,552.1 152.2,547.1 158.9,544.6 167.3,541.3 172.3,537.1 179.8,534.6 182.4,530.4 187.4,527.1 189.0,522.9 195.7,518.7 197.4,513.7 201.6,508.6 204.4,502.8 200.8,498.6 195.7,494.4 189.0,491.9 184.9,487.7 180.7,483.6 179.8,478.5 178.2,475.2 176.5,478.9 172.3,482.7 167.3,486.9 162.3,489.4 155.6,490.2 145.5,491.1 143.0,487.7 142.2,483.6 143.5,479.4 141.4,476.9 138.9,478.5 138.0,482.7 139.7,486.1 136.3,481.9 133.8,476.9 132.2,471.8 128.8,466.8 124.6,461.0 121.3,455.9 118.8,450.1 119.6,446.7 123.8,445.4 129.7,446.7 133.0,446.7 135.5,451.8 138.9,456.8 142.2,461.0 147.2,464.3 153.9,467.7 160.6,471.0 167.3,472.7 174.0,471.0 179.8,468.8 183.2,471.0 184.9,476.0 186.5,479.4 194.1,481.0 205.8,482.7 217.5,483.6 234.2,482.7 245.9,481.9 254.3,481.9 259.3,486.9 264.3,491.9 267.7,494.4 270.6,490.6 275.6,501.4 279.4,505.7 285.6,513.2 293.1,513.2 299.4,511.4 301.1,520.2 303.2,532.7 306.9,547.8 313.2,565.3 320.7,580.3 327.0,595.4 333.2,606.6 337.0,610.4 341.2,605.9 349.5,597.9 353.3,586.6 353.8,572.8 355.8,555.3 363.3,548.3 375.8,537.7 388.3,527.7 400.9,517.7 410.9,510.7 425.9,507.7 434.7,501.4 440.9,507.2 445.5,511.4 446.7,511.8 450.0,517.6 454.2,524.3 456.7,530.2 459.2,536.9 460.9,543.6 460.1,549.4 465.1,551.9 470.1,551.1 476.0,547.8 481.0,544.4 483.2,549.4 484.4,550.0 486.0,556.5 487.6,561.8 489.2,569.4 490.3,576.9 491.4,583.3 490.9,589.8 489.2,597.3 488.2,605.9 488.9,612.4 491.4,610.2 494.1,612.4 497.3,616.7 500.5,619.9 502.7,624.2 503.8,628.5 505.4,634.9 507.0,640.3 509.1,644.6 511.3,648.9 514.5,652.2 518.8,654.8 523.1,657.5 527.4,659.7 531.7,659.1 532.8,656.5 530.6,652.2 528.5,646.8 526.9,641.4 527.4,636.0 526.3,630.6 523.1,625.3 518.8,622.0 514.5,618.8 510.2,615.6 507.0,612.4 504.8,608.1 502.7,603.8 500.5,600.5 497.3,599.5 495.7,596.2 497.3,590.9 499.5,584.4 501.6,578.0 502.7,571.5 508.9,570.4 508.9,575.3 513.4,575.8 516.7,578.0 519.9,581.2 524.2,586.6 527.4,590.9 532.8,591.4 537.1,594.1 539.2,597.3 537.6,601.6 539.2,605.4 544.6,601.6 551.1,596.2 557.5,590.9 564.0,585.5 568.8,582.3 571.0,574.7 570.4,568.3 568.3,560.8 565.6,554.3 562.9,550.0 560.5,546.9 553.8,540.2 547.1,533.5 544.6,528.5 546.2,523.5 551.3,517.6 557.1,512.6 563.0,509.3 572.2,510.1 576.3,513.5 577.2,519.3 579.7,514.3 582.2,511.8 593.9,507.6 604.8,505.1 606.5,502.6 614.0,500.9 624.0,496.7 632.4,491.7 640.8,485.9 646.6,480.0 650.5,471.3 655.5,462.6 660.6,455.1 664.3,446.3 663.1,437.5 660.6,430.0 662.6,422.5 0.0,420.0"/>
<polygon points="355.8,596.6 360.8,600.4 364.5,607.9 367.0,616.7 363.3,622.9 357.0,624.9 353.3,617.9 352.0,607.9 353.8,600.4"/>
<polygon points="126.0,759.2 130.3,764.7 132.8,773.4 135.3,781.0 134.0,786.0 130.3,787.2 130.8,793.5 127.8,804.8 124.0,817.3 120.3,829.8 115.7,842.3 111.5,852.4 105.2,855.4 98.2,858.6 91.4,855.4 86.4,849.9 83.9,841.1 82.2,833.6 86.4,826.0 90.2,817.3 88.2,807.3 87.7,797.2 91.4,789.2 100.2,786.0 107.7,781.7 114.0,775.9 116.5,770.9 120.3,767.2 124.0,760.9"/>
<polygon points="565.5,527.7 568.0,523.8 573.8,521.0 580.5,520.2 583.5,523.5 580.5,528.5 573.8,533.9 568.8,533.5 565.8,531.0"/>
<polygon points="650.5,496.7 652.5,490.0 656.6,484.2 661.7,481.7 664.2,484.2 662.5,491.7 658.3,500.1 655.0,506.8 652.1,503.4"/>
<polygon points="654.3,532.9 658.1,532.0 662.4,533.8 665.6,532.4 666.9,534.0 666.5,538.3 668.3,542.0 667.2,546.3 663.4,549.6 661.8,554.4 662.4,559.8 664.5,563.0 668.8,564.1 671.5,563.0 675.3,566.2 678.0,567.3 679.0,571.1 681.2,573.2 683.3,575.9 688.2,576.5 691.4,582.4 692.3,587.7 688.2,585.6 684.9,581.3 681.7,578.1 677.4,574.8 674.2,571.6 671.0,570.5 667.7,568.4 664.5,567.3 660.2,567.8 655.9,566.8 653.8,564.1 651.6,560.9 649.7,557.6 648.4,552.3 648.9,547.4 650.5,550.1 651.6,545.8 652.7,540.4 653.2,536.1"/>
<polygon points="651.6,569.5 655.9,570.0 660.2,572.7 658.6,578.6 655.9,574.8 653.2,571.6"/>
<polygon points="664.0,581.8 668.8,583.4 672.3,583.4 670.4,587.7 666.7,590.4 664.5,592.0 664.7,586.7"/>
<polygon points="668.8,595.3 671.0,589.9 673.1,586.7 675.3,588.8 674.2,594.2 672.6,599.6 671.0,601.2 668.8,598.5"/>
<polygon points="675.3,597.4 677.4,592.0 679.6,587.7 680.6,588.8 679.0,593.1 676.9,597.4"/>
<polygon points="682.3,585.6 686.0,585.6 687.6,588.8 687.1,593.1 684.9,594.2 684.4,589.9 682.8,587.7"/>
<polygon points="664.7,615.7 666.1,611.4 668.8,608.7 673.1,606.0 675.3,604.9 677.4,606.0 681.7,605.5 684.9,602.8 688.2,603.3 689.8,599.6 692.5,598.0 694.6,600.6 696.2,606.0 697.3,611.4 697.8,616.8 695.7,623.2 694.1,618.9 691.4,617.8 689.8,622.2 689.2,626.5 686.0,625.4 682.8,622.2 680.1,617.8 679.0,614.6 675.3,612.5 671.0,613.5 667.7,615.7 665.6,617.3"/>
<polygon points="626.3,609.2 631.2,602.8 636.6,596.3 641.9,589.9 646.2,584.5 646.8,587.2 645.2,592.0 639.8,597.4 634.4,602.8 629.0,607.6"/>
<polygon points="542.4,718.6 545.4,713.6 550.4,712.8 557.1,714.4 563.8,717.0 566.3,718.6 573.8,719.5 580.5,718.6 585.5,717.8 590.6,720.3 596.4,723.6 604.8,726.2 612.3,728.7 616.0,731.2 612.3,732.8 604.8,732.0 595.6,730.3 587.2,729.5 578.9,727.0 570.5,726.2 563.8,726.7 557.1,724.5 550.4,722.8 547.1,720.3"/>
<polygon points="626.5,733.7 632.4,731.2 640.8,730.3 643.3,732.8 635.7,735.4 627.4,736.2"/>
<polygon points="649.1,732.0 657.5,731.2 665.8,730.3 671.7,731.2 669.2,733.7 659.2,735.4 650.8,735.0"/>
<polygon points="642.4,739.5 649.1,738.7 655.0,742.1 653.3,745.4 646.6,742.9"/>
<polygon points="675.9,742.9 680.9,737.9 687.6,734.5 696.0,732.0 704.0,730.3 702.7,733.7 694.3,737.9 685.9,741.2 679.2,745.4 675.6,745.7"/>
<polygon points="800.5,951.8 796.7,943.0 791.7,936.8 785.4,931.8 782.9,924.3 776.7,928.0 779.2,920.5 780.4,913.0 777.9,915.5 771.7,921.7 765.4,925.5 759.1,918.0 750.4,911.7 740.3,906.0 730.3,903.0 717.8,904.2 705.3,906.0 692.7,909.2 682.7,911.7 675.2,916.7 662.7,918.0 651.4,920.5 640.1,925.5 630.1,928.0 620.1,924.3 613.8,919.2 617.6,913.0 617.6,903.0 613.8,890.4 608.8,880.4 603.8,870.4 605.1,865.4 600.5,860.4 601.3,850.3 603.8,840.3 606.3,830.3 615.1,826.5 622.6,822.8 632.6,820.3 642.6,817.8 652.7,814.0 660.2,810.3 665.2,805.2 670.2,797.7 674.0,791.5 676.5,795.2 680.2,789.0 685.2,782.7 691.5,778.9 697.8,773.9 705.3,773.9 712.8,777.7 719.0,778.9 722.8,772.7 727.8,765.2 735.3,760.2 741.6,758.9 741.6,754.6 746.6,755.6 755.4,758.9 765.4,760.2 771.7,758.9 772.9,762.7 766.7,767.7 766.7,775.2 772.9,780.2 780.4,786.5 787.9,792.7 795.5,797.7 801.7,799.0 805.5,792.7 809.2,785.2 810.5,775.2 811.0,765.2 813.0,756.4 815.5,749.6 818.0,751.4 821.8,757.6 825.5,765.2 828.0,772.7 834.3,777.7 839.3,786.5 843.1,795.2 848.1,802.7 855.6,810.3 863.1,817.8 868.1,825.3 871.9,832.8 878.1,836.6 883.2,845.3 890.7,855.4 895.7,865.4 898.2,876.7 896.9,887.9 891.9,900.5 884.4,913.0 878.1,925.5 873.1,938.0 870.6,951.8"/>
<polygon points="975.4,817.8 980.9,819.8 988.4,825.3 995.9,830.8 997.9,834.1 993.4,833.3 985.9,828.3 978.4,822.8"/>
<polygon points="994.6,777.7 997.1,778.9 998.9,784.0 1002.2,789.0 1000.9,792.2 997.9,789.0 995.4,784.0"/>
<polygon points="859.6,710.4 865.5,711.3 872.2,711.3 878.9,708.7 883.9,703.7 887.2,700.4 888.1,704.6 884.7,710.4 878.9,714.6 872.2,716.3 865.5,715.4 861.3,712.9"/>
<polygon points="877.2,688.7 882.2,690.3 887.2,693.7 891.4,697.9 893.6,702.1 891.4,700.4 887.2,696.2 882.2,692.8 878.0,690.7"/>
<polygon points="905.6,707.1 909.0,710.4 912.3,715.4 914.8,718.8 912.3,719.1 909.0,715.4 906.0,710.4"/>
<polygon points="920.3,719.6 922.7,719.6 923.2,721.8 920.7,721.8"/>
<polygon points="932.4,724.6 937.4,726.3 942.4,729.7 940.8,731.3 935.7,728.8 932.4,726.3"/>
<polygon points="951.1,731.3 954.1,735.5 955.8,740.5 954.1,741.4 952.1,736.3"/>
<polygon points="943.3,738.9 947.4,738.9 950.5,741.4 946.6,741.9 943.8,740.5"/>
<polygon points="956.6,747.2 960.8,746.9 962.5,748.6 958.3,749.2"/>
<polygon points="467.0,629.5 471.1,629.0 476.5,629.5 481.9,630.1 486.2,633.8 490.5,638.1 495.9,643.0 501.2,648.3 505.5,652.1 509.8,653.7 515.2,655.9 519.5,660.2 523.8,664.5 529.2,668.2 528.1,673.1 530.3,675.2 534.6,677.4 536.7,683.8 541.0,686.5 545.3,689.2 546.9,693.5 546.4,699.9 545.3,706.4 544.8,712.3 536.7,712.3 532.4,708.5 528.1,704.2 523.8,701.0 519.5,696.7 515.2,691.3 510.9,686.0 506.6,679.5 503.4,675.2 499.1,669.8 495.3,665.5 492.6,660.2 489.4,655.9 485.1,651.6 480.8,646.2 476.5,641.9 472.2,636.5 468.4,632.2"/>
<polygon points="626.9,618.4 630.3,620.1 633.6,625.1 638.6,627.6 643.3,629.3 640.3,631.8 637.0,636.0 633.6,640.2 631.9,646.9 634.4,653.6 637.8,658.6 642.0,661.9 636.1,663.6 631.9,668.6 629.4,675.3 626.1,682.0 622.7,690.4 620.2,697.1 611.9,698.7 607.7,694.6 601.8,692.9 596.8,691.2 590.9,693.7 587.6,691.2 578.4,690.4 576.7,683.7 574.2,678.7 570.0,673.6 568.4,667.0 569.2,660.3 573.4,654.4 575.9,656.9 578.4,661.1 582.6,656.1 585.9,649.4 590.9,646.9 597.6,645.2 603.5,641.9 608.5,636.8 611.9,633.5 616.0,630.2 620.2,626.0 623.6,620.9"/>
<polygon points="729.0,676.2 734.0,674.5 740.7,672.8 747.4,673.6 754.1,676.2 757.4,680.3 760.8,685.4 764.1,688.7 770.8,686.2 777.5,683.7 784.2,682.8 792.5,683.7 800.2,687.0 810.3,689.5 820.3,692.0 830.3,696.2 838.7,702.1 843.7,710.4 853.8,714.6 850.4,720.5 855.4,727.1 862.1,733.8 868.8,740.5 876.3,745.5 873.8,748.1 865.5,745.5 857.1,743.9 850.4,737.2 845.4,732.2 840.4,727.1 833.7,725.5 827.0,728.8 822.0,732.2 818.6,737.2 811.9,737.2 805.2,735.5 798.6,732.2 791.9,730.5 785.2,730.5 781.0,730.5 785.0,725.5 789.2,720.5 787.5,713.8 782.5,708.8 775.8,703.8 767.4,700.4 760.8,697.1 755.7,694.6 750.7,697.1 746.5,698.7 744.0,692.9 739.8,689.5 744.0,687.9 750.7,687.0 747.4,685.4 740.7,683.7 735.7,680.3 730.6,677.8"/>
<polygon points="1558.4,426.7 1563.4,438.4 1568.4,446.7 1573.4,454.3 1577.6,459.3 1574.3,464.3 1580.9,467.7 1586.0,471.8 1591.8,475.2 1595.2,480.2 1596.0,485.2 1601.0,488.6 1606.9,491.9 1611.1,499.4 1613.6,500.3 1615.6,496.6 1611.9,491.1 1608.6,486.1 1604.4,480.2 1600.2,474.4 1596.0,468.5 1591.8,462.6 1586.0,456.8 1580.9,451.8 1577.6,445.9 1575.1,440.1 1575.1,435.4 1580.1,434.7 1589.3,440.4 1591.8,448.4 1597.7,456.8 1605.2,463.5 1615.2,472.7 1615.6,478.5 1621.9,483.6 1630.3,491.1 1637.0,496.9 1642.8,504.5 1646.2,512.0 1642.8,520.4 1648.7,527.1 1657.1,533.7 1667.1,537.1 1677.1,542.1 1688.9,547.1 1700.6,550.5 1710.6,553.8 1717.3,551.3 1724.0,549.6 1730.7,553.8 1737.4,558.8 1744.1,563.9 1750.8,566.4 1759.1,568.0 1765.8,570.5 1774.2,572.2 1779.2,575.6 1784.2,580.6 1789.2,586.4 1790.1,590.0 1791.7,595.0 1795.9,597.5 1800.9,600.9 1806.0,604.2 1811.0,606.7 1814.3,609.2 1821.0,610.9 1826.0,615.1 1831.1,613.4 1829.7,609.2 1834.4,605.1 1841.1,603.4 1845.8,606.7 1847.8,611.7 1851.1,615.1 1852.8,623.5 1853.6,631.8 1854.5,640.2 1849.5,646.9 1844.4,651.9 1841.1,657.8 1834.4,662.8 1831.1,670.3 1827.7,677.0 1826.0,683.7 1829.4,687.9 1834.4,687.0 1832.7,692.1 1828.5,697.1 1824.4,703.8 1823.5,713.8 1831.1,720.5 1837.7,728.9 1842.8,738.9 1849.5,748.9 1856.2,759.0 1861.2,766.7 1880.0,770.0 1862.8,598.4 1857.0,603.4 1852.8,605.9 1848.6,602.5 1842.8,599.2 1836.9,598.0 1831.1,599.7 1824.4,601.7 1817.7,600.0 1812.7,596.4 1808.5,593.3 1807.6,592.3 1806.0,587.3 1807.6,580.6 1809.3,572.2 1808.5,565.5 1810.1,558.8 1804.3,555.5 1795.9,552.1 1787.6,551.3 1777.5,552.1 1770.8,553.8 1767.5,552.1 1769.2,547.1 1770.8,540.4 1773.3,533.7 1775.8,532.1 1777.5,525.4 1780.9,518.7 1782.5,512.8 1780.0,510.3 1770.8,510.7 1762.5,512.0 1756.6,514.5 1754.9,520.4 1750.8,527.1 1742.4,530.4 1734.0,532.9 1725.7,534.6 1717.3,530.4 1710.6,523.7 1705.6,515.3 1702.2,505.3 1701.4,495.3 1703.1,485.2 1705.6,478.5 1704.7,475.2 1705.6,466.8 1708.9,461.0 1715.6,456.8 1724.0,452.6 1734.0,450.1 1744.1,449.3 1750.8,450.9 1757.4,453.4 1762.5,452.6 1763.3,446.7 1767.5,445.1 1775.8,445.1 1784.2,445.1 1790.9,446.7 1795.9,450.1 1800.9,447.6 1806.0,448.4 1809.3,453.4 1812.7,460.1 1816.0,466.8 1819.3,473.5 1822.7,480.2 1826.9,483.6 1831.1,482.7 1832.7,476.9 1831.1,470.2 1827.7,463.5 1824.4,455.1 1822.7,446.7 1823.5,438.4 1826.0,433.4 1831.1,426.7"/>
<polygon points="1795.9,507.8 1800.9,503.6 1807.6,500.3 1816.0,498.6 1824.4,498.9 1832.7,501.1 1841.1,503.6 1849.5,505.3 1856.2,508.6 1862.8,511.2 1862.8,521.7 1852.8,522.0 1856.2,518.7 1849.5,515.3 1842.8,512.0 1837.7,507.8 1831.1,505.3 1824.4,502.8 1817.7,503.6 1811.0,505.3 1804.3,505.3 1799.3,507.8"/>
<polygon points="1845.3,533.7 1851.1,532.1 1857.8,532.9 1862.8,534.6 1862.8,537.4 1854.5,537.9 1848.6,536.8"/>
<polygon points="1840.3,471.8 1847.8,470.2 1852.8,471.0 1855.3,474.4 1854.5,477.7 1852.8,473.5 1847.8,472.7 1841.1,473.9"/>
<polygon points="1845.3,485.2 1848.6,483.6 1851.1,487.7 1851.1,492.8 1848.6,491.9 1846.1,488.6"/>
<polygon points="725.2,428.5 737.0,428.5 735.2,435.0 730.2,440.0 727.0,437.0 725.7,432.5"/>
<polygon points="1243.1,505.2 1244.6,503.9 1246.1,505.2 1245.1,506.9 1243.6,506.9"/>
<polygon points="1253.8,508.9 1256.3,508.2 1258.3,510.2 1256.3,511.7 1254.1,510.9"/>
<polygon points="1260.9,512.2 1264.6,511.2 1268.9,513.2 1271.4,515.2 1268.9,516.2 1265.4,514.2 1262.1,514.2"/>
<polygon points="1270.4,525.2 1272.1,520.2 1275.9,519.2 1279.6,524.0 1277.9,527.7 1273.4,529.7"/>
<polygon points="1072.9,799.7 1076.7,797.2 1081.7,798.5 1083.5,802.2 1080.5,804.8 1075.5,804.8"/>
<polygon points="1083.0,792.2 1089.2,789.2 1095.0,787.2 1095.5,789.7 1090.5,792.2 1085.0,794.7"/>
<polygon points="1038.6,927.0 1042.9,926.3 1047.9,931.3 1052.9,933.8 1056.7,940.0 1062.9,945.1 1065.4,951.6 1055.4,951.6 1051.7,942.5 1046.6,937.5 1041.6,931.3"/>
<polygon points="1072.9,951.6 1078.0,947.1 1084.2,951.6"/>
<polygon points="648.5,665.8 652.4,661.5 656.7,659.4 662.7,660.6 668.7,661.9 675.6,662.4 680.8,661.1 685.1,658.5 688.5,656.8 687.2,660.2 684.2,664.1 679.9,666.7 673.9,666.7 667.8,665.8 661.8,665.4 655.8,665.8 651.5,668.4 650.2,671.8 652.4,675.3 655.8,678.7 659.2,677.0 664.4,675.3 669.6,674.4 673.9,674.0 673.4,676.1 668.7,677.8 664.4,680.4 660.1,682.2 659.2,683.9 661.8,688.2 665.3,692.5 667.8,696.8 670.4,700.2 672.6,704.5 671.3,708.8 668.3,710.1 666.6,708.0 667.0,704.5 664.4,703.2 661.8,703.7 660.1,700.2 658.4,695.1 655.8,690.8 653.7,689.0 652.8,693.3 652.5,700.2 651.9,707.1 650.2,710.5 646.8,710.1 645.5,708.0 647.2,702.8 647.6,696.8 646.3,692.5 642.9,690.8 642.0,688.2 643.8,683.0 645.9,677.8 647.2,672.7 647.6,668.4"/>
<polygon points="704.8,660.2 706.1,655.5 708.5,652.7 709.1,655.9 711.3,658.1 713.9,657.6 713.6,662.4 713.4,665.8 710.9,665.8 708.7,668.4 708.3,670.1 710.0,672.7 711.3,675.3 709.6,676.1 707.4,673.5 706.1,670.1 705.3,665.8"/>
<polygon points="694.1,692.9 696.7,691.6 700.5,692.5 702.3,694.6 700.5,696.3 697.1,696.3 694.9,695.1"/>
<polygon points="707.8,691.6 711.7,690.3 716.9,690.3 722.0,691.2 726.3,693.3 729.4,696.3 728.9,697.6 725.5,696.3 721.2,694.6 716.0,694.0 711.7,694.2 708.7,694.0"/>
<polygon points="753.9,717.4 754.7,713.1 756.5,709.7 758.2,708.8 758.6,711.4 757.7,714.8 756.0,717.8 754.3,719.6"/>

</g>
<g class="sea">
<polygon points="-1.7,428.3 17.6,428.3 15.9,433.4 11.7,437.5 6.7,439.2 -1.7,439.7"/>

</g>
<g class="ll">
<polyline points="0.0,884.9 2.5,877.4 5.0,867.4 3.8,859.9 10.0,856.1 18.8,851.1 25.1,844.8 25.1,834.8 21.3,827.3 19.5,819.8 23.8,816.0 30.1,811.0 37.6,804.8 45.1,801.0 53.9,794.7 61.4,787.2 62.6,774.7 62.1,762.2 60.1,749.6 58.1,744.6 55.6,737.1 54.4,735.0 53.5,729.0 52.7,722.3 49.4,717.3 50.2,710.6 53.5,703.9 57.7,697.2 61.9,689.7 66.9,683.8 73.6,677.1 80.3,670.4 87.0,663.7 95.4,657.0 103.7,650.3 112.1,642.0 118.8,633.6 125.5,625.2 130.5,615.2 134.7,605.2 138.0,595.1 139.7,586.8 140.2,580.4 133.8,581.7 127.1,584.3 120.5,586.8 113.8,588.4 105.4,590.1 97.0,590.9 88.7,590.9 83.6,587.6 80.3,585.1 77.8,581.7 81.1,579.2 82.0,576.7 77.0,572.2 71.9,566.4 66.9,561.3 61.9,558.8 56.9,556.3 53.5,552.1 50.2,545.5 46.8,538.8 41.8,533.7 38.5,527.1 36.0,518.7 35.1,510.3 32.6,505.3 27.6,499.4 25.1,495.3 25.9,491.1 21.7,483.6 17.6,475.2 13.4,468.5 9.2,461.5 4.7,453.8 1.0,448.1 -2.0,446.4"/>
<polyline points="1.7,447.8 7.0,455.8 13.4,464.5 16.2,461.1 18.4,453.8 20.1,446.4 21.2,446.4 19.7,453.8 18.1,460.8 21.7,461.8 26.8,468.5 30.9,475.2 34.3,481.9 38.5,487.7 44.3,493.6 48.5,499.4 50.2,507.0 54.4,513.7 59.4,519.5 64.4,525.4 68.6,532.9 72.8,539.6 77.0,544.6 78.6,552.1 79.5,560.5 81.1,568.9 82.8,574.7 87.0,575.6 93.7,573.1 102.1,569.7 110.4,567.2 120.5,563.0 130.5,558.8 140.5,554.7 147.2,552.1 152.2,547.1 158.9,544.6 167.3,541.3 172.3,537.1 179.8,534.6 182.4,530.4 187.4,527.1 189.0,522.9 195.7,518.7 197.4,513.7 201.6,508.6 204.4,502.8 200.8,498.6 195.7,494.4 189.0,491.9 184.9,487.7 180.7,483.6 179.8,478.5 178.2,475.2 176.5,478.9 172.3,482.7 167.3,486.9 162.3,489.4 155.6,490.2 145.5,491.1 143.0,487.7 142.2,483.6 143.5,479.4 141.4,476.9 138.9,478.5 138.0,482.7 139.7,486.1 136.3,481.9 133.8,476.9 132.2,471.8 128.8,466.8 124.6,461.0 121.3,455.9 118.8,450.1 119.6,446.7 123.8,445.4 129.7,446.7 133.0,446.7 135.5,451.8 138.9,456.8 142.2,461.0 147.2,464.3 153.9,467.7 160.6,471.0 167.3,472.7 174.0,471.0 179.8,468.8 183.2,471.0 184.9,476.0 186.5,479.4 194.1,481.0 205.8,482.7 217.5,483.6 234.2,482.7 245.9,481.9 254.3,481.9 259.3,486.9 264.3,491.9 267.7,494.4 270.6,490.6 275.6,501.4 279.4,505.7 285.6,513.2 293.1,513.2 299.4,511.4 301.1,520.2 303.2,532.7 306.9,547.8 313.2,565.3 320.7,580.3 327.0,595.4 333.2,606.6 337.0,610.4 341.2,605.9 349.5,597.9 353.3,586.6 353.8,572.8 355.8,555.3 363.3,548.3 375.8,537.7 388.3,527.7 400.9,517.7 410.9,510.7 425.9,507.7 434.7,501.4 440.9,507.2 445.5,511.4 446.7,511.8 450.0,517.6 454.2,524.3 456.7,530.2 459.2,536.9 460.9,543.6 460.1,549.4 465.1,551.9 470.1,551.1 476.0,547.8 481.0,544.4 483.2,549.4 484.4,550.0 486.0,556.5 487.6,561.8 489.2,569.4 490.3,576.9 491.4,583.3 490.9,589.8 489.2,597.3 488.2,605.9 488.9,612.4 491.4,610.2 494.1,612.4 497.3,616.7 500.5,619.9 502.7,624.2 503.8,628.5 505.4,634.9 507.0,640.3 509.1,644.6 511.3,648.9 514.5,652.2 518.8,654.8 523.1,657.5 527.4,659.7 531.7,659.1 532.8,656.5 530.6,652.2 528.5,646.8 526.9,641.4 527.4,636.0 526.3,630.6 523.1,625.3 518.8,622.0 514.5,618.8 510.2,615.6 507.0,612.4 504.8,608.1 502.7,603.8 500.5,600.5 497.3,599.5 495.7,596.2 497.3,590.9 499.5,584.4 501.6,578.0 502.7,571.5 508.9,570.4 508.9,575.3 513.4,575.8 516.7,578.0 519.9,581.2 524.2,586.6 527.4,590.9 532.8,591.4 537.1,594.1 539.2,597.3 537.6,601.6 539.2,605.4 544.6,601.6 551.1,596.2 557.5,590.9 564.0,585.5 568.8,582.3 571.0,574.7 570.4,568.3 568.3,560.8 565.6,554.3 562.9,550.0 560.5,546.9 553.8,540.2 547.1,533.5 544.6,528.5 546.2,523.5 551.3,517.6 557.1,512.6 563.0,509.3 572.2,510.1 576.3,513.5 577.2,519.3 579.7,514.3 582.2,511.8 593.9,507.6 604.8,505.1 606.5,502.6 614.0,500.9 624.0,496.7 632.4,491.7 640.8,485.9 646.6,480.0 650.5,471.3 655.5,462.6 660.6,455.1 664.3,446.3 663.1,437.5 660.6,430.0 662.6,422.5"/>
<polygon points="355.8,596.6 360.8,600.4 364.5,607.9 367.0,616.7 363.3,622.9 357.0,624.9 353.3,617.9 352.0,607.9 353.8,600.4"/>
<polygon points="126.0,759.2 130.3,764.7 132.8,773.4 135.3,781.0 134.0,786.0 130.3,787.2 130.8,793.5 127.8,804.8 124.0,817.3 120.3,829.8 115.7,842.3 111.5,852.4 105.2,855.4 98.2,858.6 91.4,855.4 86.4,849.9 83.9,841.1 82.2,833.6 86.4,826.0 90.2,817.3 88.2,807.3 87.7,797.2 91.4,789.2 100.2,786.0 107.7,781.7 114.0,775.9 116.5,770.9 120.3,767.2 124.0,760.9"/>
<polygon points="565.5,527.7 568.0,523.8 573.8,521.0 580.5,520.2 583.5,523.5 580.5,528.5 573.8,533.9 568.8,533.5 565.8,531.0"/>
<polygon points="650.5,496.7 652.5,490.0 656.6,484.2 661.7,481.7 664.2,484.2 662.5,491.7 658.3,500.1 655.0,506.8 652.1,503.4"/>
<polygon points="654.3,532.9 658.1,532.0 662.4,533.8 665.6,532.4 666.9,534.0 666.5,538.3 668.3,542.0 667.2,546.3 663.4,549.6 661.8,554.4 662.4,559.8 664.5,563.0 668.8,564.1 671.5,563.0 675.3,566.2 678.0,567.3 679.0,571.1 681.2,573.2 683.3,575.9 688.2,576.5 691.4,582.4 692.3,587.7 688.2,585.6 684.9,581.3 681.7,578.1 677.4,574.8 674.2,571.6 671.0,570.5 667.7,568.4 664.5,567.3 660.2,567.8 655.9,566.8 653.8,564.1 651.6,560.9 649.7,557.6 648.4,552.3 648.9,547.4 650.5,550.1 651.6,545.8 652.7,540.4 653.2,536.1"/>
<polygon points="651.6,569.5 655.9,570.0 660.2,572.7 658.6,578.6 655.9,574.8 653.2,571.6"/>
<polygon points="664.0,581.8 668.8,583.4 672.3,583.4 670.4,587.7 666.7,590.4 664.5,592.0 664.7,586.7"/>
<polygon points="668.8,595.3 671.0,589.9 673.1,586.7 675.3,588.8 674.2,594.2 672.6,599.6 671.0,601.2 668.8,598.5"/>
<polygon points="675.3,597.4 677.4,592.0 679.6,587.7 680.6,588.8 679.0,593.1 676.9,597.4"/>
<polygon points="682.3,585.6 686.0,585.6 687.6,588.8 687.1,593.1 684.9,594.2 684.4,589.9 682.8,587.7"/>
<polygon points="664.7,615.7 666.1,611.4 668.8,608.7 673.1,606.0 675.3,604.9 677.4,606.0 681.7,605.5 684.9,602.8 688.2,603.3 689.8,599.6 692.5,598.0 694.6,600.6 696.2,606.0 697.3,611.4 697.8,616.8 695.7,623.2 694.1,618.9 691.4,617.8 689.8,622.2 689.2,626.5 686.0,625.4 682.8,622.2 680.1,617.8 679.0,614.6 675.3,612.5 671.0,613.5 667.7,615.7 665.6,617.3"/>
<polygon points="626.3,609.2 631.2,602.8 636.6,596.3 641.9,589.9 646.2,584.5 646.8,587.2 645.2,592.0 639.8,597.4 634.4,602.8 629.0,607.6"/>
<polygon points="542.4,718.6 545.4,713.6 550.4,712.8 557.1,714.4 563.8,717.0 566.3,718.6 573.8,719.5 580.5,718.6 585.5,717.8 590.6,720.3 596.4,723.6 604.8,726.2 612.3,728.7 616.0,731.2 612.3,732.8 604.8,732.0 595.6,730.3 587.2,729.5 578.9,727.0 570.5,726.2 563.8,726.7 557.1,724.5 550.4,722.8 547.1,720.3"/>
<polygon points="626.5,733.7 632.4,731.2 640.8,730.3 643.3,732.8 635.7,735.4 627.4,736.2"/>
<polygon points="649.1,732.0 657.5,731.2 665.8,730.3 671.7,731.2 669.2,733.7 659.2,735.4 650.8,735.0"/>
<polygon points="642.4,739.5 649.1,738.7 655.0,742.1 653.3,745.4 646.6,742.9"/>
<polygon points="675.9,742.9 680.9,737.9 687.6,734.5 696.0,732.0 704.0,730.3 702.7,733.7 694.3,737.9 685.9,741.2 679.2,745.4 675.6,745.7"/>
<polyline points="800.5,951.8 796.7,943.0 791.7,936.8 785.4,931.8 782.9,924.3 776.7,928.0 779.2,920.5 780.4,913.0 777.9,915.5 771.7,921.7 765.4,925.5 759.1,918.0 750.4,911.7 740.3,906.0 730.3,903.0 717.8,904.2 705.3,906.0 692.7,909.2 682.7,911.7 675.2,916.7 662.7,918.0 651.4,920.5 640.1,925.5 630.1,928.0 620.1,924.3 613.8,919.2 617.6,913.0 617.6,903.0 613.8,890.4 608.8,880.4 603.8,870.4 605.1,865.4 600.5,860.4 601.3,850.3 603.8,840.3 606.3,830.3 615.1,826.5 622.6,822.8 632.6,820.3 642.6,817.8 652.7,814.0 660.2,810.3 665.2,805.2 670.2,797.7 674.0,791.5 676.5,795.2 680.2,789.0 685.2,782.7 691.5,778.9 697.8,773.9 705.3,773.9 712.8,777.7 719.0,778.9 722.8,772.7 727.8,765.2 735.3,760.2 741.6,758.9 741.6,754.6 746.6,755.6 755.4,758.9 765.4,760.2 771.7,758.9 772.9,762.7 766.7,767.7 766.7,775.2 772.9,780.2 780.4,786.5 787.9,792.7 795.5,797.7 801.7,799.0 805.5,792.7 809.2,785.2 810.5,775.2 811.0,765.2 813.0,756.4 815.5,749.6 818.0,751.4 821.8,757.6 825.5,765.2 828.0,772.7 834.3,777.7 839.3,786.5 843.1,795.2 848.1,802.7 855.6,810.3 863.1,817.8 868.1,825.3 871.9,832.8 878.1,836.6 883.2,845.3 890.7,855.4 895.7,865.4 898.2,876.7 896.9,887.9 891.9,900.5 884.4,913.0 878.1,925.5 873.1,938.0 870.6,951.8"/>
<polygon points="975.4,817.8 980.9,819.8 988.4,825.3 995.9,830.8 997.9,834.1 993.4,833.3 985.9,828.3 978.4,822.8"/>
<polygon points="994.6,777.7 997.1,778.9 998.9,784.0 1002.2,789.0 1000.9,792.2 997.9,789.0 995.4,784.0"/>
<polygon points="859.6,710.4 865.5,711.3 872.2,711.3 878.9,708.7 883.9,703.7 887.2,700.4 888.1,704.6 884.7,710.4 878.9,714.6 872.2,716.3 865.5,715.4 861.3,712.9"/>
<polygon points="877.2,688.7 882.2,690.3 887.2,693.7 891.4,697.9 893.6,702.1 891.4,700.4 887.2,696.2 882.2,692.8 878.0,690.7"/>
<polygon points="905.6,707.1 909.0,710.4 912.3,715.4 914.8,718.8 912.3,719.1 909.0,715.4 906.0,710.4"/>
<polygon points="920.3,719.6 922.7,719.6 923.2,721.8 920.7,721.8"/>
<polygon points="932.4,724.6 937.4,726.3 942.4,729.7 940.8,731.3 935.7,728.8 932.4,726.3"/>
<polygon points="951.1,731.3 954.1,735.5 955.8,740.5 954.1,741.4 952.1,736.3"/>
<polygon points="943.3,738.9 947.4,738.9 950.5,741.4 946.6,741.9 943.8,740.5"/>
<polygon points="956.6,747.2 960.8,746.9 962.5,748.6 958.3,749.2"/>
<polygon points="467.0,629.5 471.1,629.0 476.5,629.5 481.9,630.1 486.2,633.8 490.5,638.1 495.9,643.0 501.2,648.3 505.5,652.1 509.8,653.7 515.2,655.9 519.5,660.2 523.8,664.5 529.2,668.2 528.1,673.1 530.3,675.2 534.6,677.4 536.7,683.8 541.0,686.5 545.3,689.2 546.9,693.5 546.4,699.9 545.3,706.4 544.8,712.3 536.7,712.3 532.4,708.5 528.1,704.2 523.8,701.0 519.5,696.7 515.2,691.3 510.9,686.0 506.6,679.5 503.4,675.2 499.1,669.8 495.3,665.5 492.6,660.2 489.4,655.9 485.1,651.6 480.8,646.2 476.5,641.9 472.2,636.5 468.4,632.2"/>
<polygon points="626.9,618.4 630.3,620.1 633.6,625.1 638.6,627.6 643.3,629.3 640.3,631.8 637.0,636.0 633.6,640.2 631.9,646.9 634.4,653.6 637.8,658.6 642.0,661.9 636.1,663.6 631.9,668.6 629.4,675.3 626.1,682.0 622.7,690.4 620.2,697.1 611.9,698.7 607.7,694.6 601.8,692.9 596.8,691.2 590.9,693.7 587.6,691.2 578.4,690.4 576.7,683.7 574.2,678.7 570.0,673.6 568.4,667.0 569.2,660.3 573.4,654.4 575.9,656.9 578.4,661.1 582.6,656.1 585.9,649.4 590.9,646.9 597.6,645.2 603.5,641.9 608.5,636.8 611.9,633.5 616.0,630.2 620.2,626.0 623.6,620.9"/>
<polygon points="729.0,676.2 734.0,674.5 740.7,672.8 747.4,673.6 754.1,676.2 757.4,680.3 760.8,685.4 764.1,688.7 770.8,686.2 777.5,683.7 784.2,682.8 792.5,683.7 800.2,687.0 810.3,689.5 820.3,692.0 830.3,696.2 838.7,702.1 843.7,710.4 853.8,714.6 850.4,720.5 855.4,727.1 862.1,733.8 868.8,740.5 876.3,745.5 873.8,748.1 865.5,745.5 857.1,743.9 850.4,737.2 845.4,732.2 840.4,727.1 833.7,725.5 827.0,728.8 822.0,732.2 818.6,737.2 811.9,737.2 805.2,735.5 798.6,732.2 791.9,730.5 785.2,730.5 781.0,730.5 785.0,725.5 789.2,720.5 787.5,713.8 782.5,708.8 775.8,703.8 767.4,700.4 760.8,697.1 755.7,694.6 750.7,697.1 746.5,698.7 744.0,692.9 739.8,689.5 744.0,687.9 750.7,687.0 747.4,685.4 740.7,683.7 735.7,680.3 730.6,677.8"/>
<polyline points="1558.4,426.7 1563.4,438.4 1568.4,446.7 1573.4,454.3 1577.6,459.3 1574.3,464.3 1580.9,467.7 1586.0,471.8 1591.8,475.2 1595.2,480.2 1596.0,485.2 1601.0,488.6 1606.9,491.9 1611.1,499.4 1613.6,500.3 1615.6,496.6 1611.9,491.1 1608.6,486.1 1604.4,480.2 1600.2,474.4 1596.0,468.5 1591.8,462.6 1586.0,456.8 1580.9,451.8 1577.6,445.9 1575.1,440.1 1575.1,435.4 1580.1,434.7 1589.3,440.4 1591.8,448.4 1597.7,456.8 1605.2,463.5 1615.2,472.7 1615.6,478.5 1621.9,483.6 1630.3,491.1 1637.0,496.9 1642.8,504.5 1646.2,512.0 1642.8,520.4 1648.7,527.1 1657.1,533.7 1667.1,537.1 1677.1,542.1 1688.9,547.1 1700.6,550.5 1710.6,553.8 1717.3,551.3 1724.0,549.6 1730.7,553.8 1737.4,558.8 1744.1,563.9 1750.8,566.4 1759.1,568.0 1765.8,570.5 1774.2,572.2 1779.2,575.6 1784.2,580.6 1789.2,586.4 1790.1,590.0 1791.7,595.0 1795.9,597.5 1800.9,600.9 1806.0,604.2 1811.0,606.7 1814.3,609.2 1821.0,610.9 1826.0,615.1 1831.1,613.4 1829.7,609.2 1834.4,605.1 1841.1,603.4 1845.8,606.7 1847.8,611.7 1851.1,615.1 1852.8,623.5 1853.6,631.8 1854.5,640.2 1849.5,646.9 1844.4,651.9 1841.1,657.8 1834.4,662.8 1831.1,670.3 1827.7,677.0 1826.0,683.7 1829.4,687.9 1834.4,687.0 1832.7,692.1 1828.5,697.1 1824.4,703.8 1823.5,713.8 1831.1,720.5 1837.7,728.9 1842.8,738.9 1849.5,748.9 1856.2,759.0 1861.2,766.7"/>
<polyline points="1831.1,426.7 1826.0,433.4 1823.5,438.4 1822.7,446.7 1824.4,455.1 1827.7,463.5 1831.1,470.2 1832.7,476.9 1831.1,482.7 1826.9,483.6 1822.7,480.2 1819.3,473.5 1816.0,466.8 1812.7,460.1 1809.3,453.4 1806.0,448.4 1800.9,447.6 1795.9,450.1 1790.9,446.7 1784.2,445.1 1775.8,445.1 1767.5,445.1 1763.3,446.7 1762.5,452.6 1757.4,453.4 1750.8,450.9 1744.1,449.3 1734.0,450.1 1724.0,452.6 1715.6,456.8 1708.9,461.0 1705.6,466.8 1704.7,475.2 1705.6,478.5 1703.1,485.2 1701.4,495.3 1702.2,505.3 1705.6,515.3 1710.6,523.7 1717.3,530.4 1725.7,534.6 1734.0,532.9 1742.4,530.4 1750.8,527.1 1754.9,520.4 1756.6,514.5 1762.5,512.0 1770.8,510.7 1780.0,510.3 1782.5,512.8 1780.9,518.7 1777.5,525.4 1775.8,532.1 1773.3,533.7 1770.8,540.4 1769.2,547.1 1767.5,552.1 1770.8,553.8 1777.5,552.1 1787.6,551.3 1795.9,552.1 1804.3,555.5 1810.1,558.8 1808.5,565.5 1809.3,572.2 1807.6,580.6 1806.0,587.3 1807.6,592.3 1808.5,593.3 1812.7,596.4 1817.7,600.0 1824.4,601.7 1831.1,599.7 1836.9,598.0 1842.8,599.2 1848.6,602.5 1852.8,605.9 1857.0,603.4 1862.8,598.4"/>
<polygon points="1795.9,507.8 1800.9,503.6 1807.6,500.3 1816.0,498.6 1824.4,498.9 1832.7,501.1 1841.1,503.6 1849.5,505.3 1856.2,508.6 1862.8,511.2 1862.8,521.7 1852.8,522.0 1856.2,518.7 1849.5,515.3 1842.8,512.0 1837.7,507.8 1831.1,505.3 1824.4,502.8 1817.7,503.6 1811.0,505.3 1804.3,505.3 1799.3,507.8"/>
<polygon points="1845.3,533.7 1851.1,532.1 1857.8,532.9 1862.8,534.6 1862.8,537.4 1854.5,537.9 1848.6,536.8"/>
<polygon points="1840.3,471.8 1847.8,470.2 1852.8,471.0 1855.3,474.4 1854.5,477.7 1852.8,473.5 1847.8,472.7 1841.1,473.9"/>
<polygon points="1845.3,485.2 1848.6,483.6 1851.1,487.7 1851.1,492.8 1848.6,491.9 1846.1,488.6"/>
<polygon points="725.2,428.5 737.0,428.5 735.2,435.0 730.2,440.0 727.0,437.0 725.7,432.5"/>
<polygon points="1243.1,505.2 1244.6,503.9 1246.1,505.2 1245.1,506.9 1243.6,506.9"/>
<polygon points="1253.8,508.9 1256.3,508.2 1258.3,510.2 1256.3,511.7 1254.1,510.9"/>
<polygon points="1260.9,512.2 1264.6,511.2 1268.9,513.2 1271.4,515.2 1268.9,516.2 1265.4,514.2 1262.1,514.2"/>
<polygon points="1270.4,525.2 1272.1,520.2 1275.9,519.2 1279.6,524.0 1277.9,527.7 1273.4,529.7"/>
<polygon points="1072.9,799.7 1076.7,797.2 1081.7,798.5 1083.5,802.2 1080.5,804.8 1075.5,804.8"/>
<polygon points="1083.0,792.2 1089.2,789.2 1095.0,787.2 1095.5,789.7 1090.5,792.2 1085.0,794.7"/>
<polygon points="1038.6,927.0 1042.9,926.3 1047.9,931.3 1052.9,933.8 1056.7,940.0 1062.9,945.1 1065.4,951.6 1055.4,951.6 1051.7,942.5 1046.6,937.5 1041.6,931.3"/>
<polygon points="1072.9,951.6 1078.0,947.1 1084.2,951.6"/>
<polygon points="648.5,665.8 652.4,661.5 656.7,659.4 662.7,660.6 668.7,661.9 675.6,662.4 680.8,661.1 685.1,658.5 688.5,656.8 687.2,660.2 684.2,664.1 679.9,666.7 673.9,666.7 667.8,665.8 661.8,665.4 655.8,665.8 651.5,668.4 650.2,671.8 652.4,675.3 655.8,678.7 659.2,677.0 664.4,675.3 669.6,674.4 673.9,674.0 673.4,676.1 668.7,677.8 664.4,680.4 660.1,682.2 659.2,683.9 661.8,688.2 665.3,692.5 667.8,696.8 670.4,700.2 672.6,704.5 671.3,708.8 668.3,710.1 666.6,708.0 667.0,704.5 664.4,703.2 661.8,703.7 660.1,700.2 658.4,695.1 655.8,690.8 653.7,689.0 652.8,693.3 652.5,700.2 651.9,707.1 650.2,710.5 646.8,710.1 645.5,708.0 647.2,702.8 647.6,696.8 646.3,692.5 642.9,690.8 642.0,688.2 643.8,683.0 645.9,677.8 647.2,672.7 647.6,668.4"/>
<polygon points="704.8,660.2 706.1,655.5 708.5,652.7 709.1,655.9 711.3,658.1 713.9,657.6 713.6,662.4 713.4,665.8 710.9,665.8 708.7,668.4 708.3,670.1 710.0,672.7 711.3,675.3 709.6,676.1 707.4,673.5 706.1,670.1 705.3,665.8"/>
<polygon points="694.1,692.9 696.7,691.6 700.5,692.5 702.3,694.6 700.5,696.3 697.1,696.3 694.9,695.1"/>
<polygon points="707.8,691.6 711.7,690.3 716.9,690.3 722.0,691.2 726.3,693.3 729.4,696.3 728.9,697.6 725.5,696.3 721.2,694.6 716.0,694.0 711.7,694.2 708.7,694.0"/>
<polygon points="753.9,717.4 754.7,713.1 756.5,709.7 758.2,708.8 758.6,711.4 757.7,714.8 756.0,717.8 754.3,719.6"/>

</g>
<g class="bd">
<polyline points="575.9,658.6 580.1,662.8 587.6,660.3 595.1,657.8 601.8,658.6 608.5,656.9 613.5,650.2 616.9,641.9 619.4,637.7 626.9,636.8 631.9,638.5 637.0,636.0"/>
<polyline points="608.5,636.8 611.0,639.4 614.4,636.8 615.2,631.8"/>
<polyline points="805.2,688.7 805.2,735.5"/>
<polyline points="1576.8,428.3 1590.2,434.2 1603.5,437.5 1613.6,436.7 1623.6,436.7 1625.3,434.7 1637.0,434.7 1643.7,439.2 1650.4,448.4 1660.4,455.1 1667.1,450.1 1673.8,450.1 1680.5,456.8 1687.2,465.2 1692.2,472.7 1700.6,476.9 1705.6,478.5"/>
<polyline points="1742.4,558.8 1745.7,553.8 1750.8,548.8 1747.4,542.1 1752.4,540.4 1754.1,537.1 1765.8,537.1 1767.5,532.1 1773.3,533.7"/>
<polyline points="1765.8,537.1 1765.8,545.5 1767.5,552.1"/>
<polyline points="1767.5,552.1 1764.1,558.8 1760.8,562.2 1759.1,568.0"/>
<polyline points="1760.8,562.2 1767.5,565.5 1774.2,567.2 1775.8,572.2"/>
<polyline points="1775.8,572.2 1780.9,570.5 1787.6,563.9 1794.3,558.8 1802.6,557.2 1810.1,558.8"/>
<polyline points="1789.2,586.4 1797.6,588.1 1806.0,587.3"/>
<polyline points="1811.0,596.7 1811.8,606.7"/>
<polyline points="1848.6,602.5 1846.1,606.7"/>
<polyline points="1841.1,657.8 1847.8,663.6 1854.5,666.1 1861.2,665.3"/>
<polyline points="1829.4,697.1 1837.7,705.4 1842.8,702.1 1844.4,697.1 1851.1,690.4 1861.2,685.4"/>
<polyline points="0.0,506.5 33.5,506.5"/>
<polyline points="46.0,537.1 41.8,540.4 36.0,545.5 33.5,555.5 32.6,563.0"/>
<polyline points="32.6,563.0 40.2,563.9 41.8,558.8 46.8,561.3 53.5,560.5 60.2,563.9 66.9,570.5 71.9,575.6 76.1,578.1"/>
<polyline points="25.1,429.2 23.4,440.1 20.9,446.7"/>
<polyline points="10.0,439.2 13.4,450.1 16.4,460.8"/>
<polyline points="20.4,446.4 33.5,450.1 41.8,445.1 36.0,436.7 51.9,430.9 66.9,435.0 80.3,445.1 90.3,452.6 107.1,454.3"/>
<polyline points="107.1,454.3 112.1,447.6 119.6,446.7"/>
<polyline points="107.1,454.3 115.4,457.6 118.8,451.8"/>
<polyline points="119.6,446.7 117.1,441.7 115.4,436.7 114.6,431.7 112.1,428.3"/>
<polyline points="143.9,491.1 145.5,496.9 157.3,500.3 170.6,502.8 171.5,493.6 175.7,489.4 174.0,484.4 177.0,480.2"/>
<polyline points="170.6,502.8 173.2,510.3 169.0,520.4 147.2,528.7 154.7,545.1"/>
<polyline points="147.2,528.7 133.8,531.2 120.5,535.4 110.4,542.9 107.1,540.4 93.7,540.4 82.0,539.6 78.6,545.5 77.3,552.1"/>
<polyline points="217.5,483.6 220.8,475.2 230.0,469.3 226.7,462.6 220.8,458.5 215.8,451.8 211.6,448.4 217.5,441.7 215.8,435.0 211.6,428.3"/>
<polyline points="211.6,448.4 220.8,451.8 234.2,450.9 247.6,448.4 252.6,443.4 259.3,438.4 267.7,435.0 274.4,433.4 275.2,428.3"/>
<polyline points="267.7,494.4 277.7,488.6 287.7,488.6 284.4,478.5 282.7,473.5 276.0,470.2 282.7,463.5 291.1,461.0 299.5,453.4 306.2,445.1 311.2,440.9"/>
<polyline points="290.0,462.6 296.7,458.5 303.4,450.1 308.4,441.7 311.7,435.0 319.3,428.3"/>
<polyline points="342.7,428.3 345.2,435.9 351.9,441.7 358.6,446.7"/>
<polyline points="354.4,455.1 358.6,446.7 364.4,444.2 372.0,447.6 380.3,453.4 387.0,456.8 397.1,460.1 407.1,462.6 415.5,462.6 417.1,466.8 414.6,473.5 407.1,474.4 398.7,471.8 390.4,470.2 382.0,466.8 373.6,463.5 365.3,460.1 358.6,457.6 354.4,455.1"/>
<polyline points="419.7,465.2 422.2,461.8 428.0,460.1 435.5,461.8 441.4,464.3 443.1,469.3 437.2,471.0 428.9,471.0 422.2,469.3 419.7,466.8 419.7,465.2"/>
<polyline points="443.1,464.3 448.9,458.5 455.6,455.1 462.3,452.6 467.3,453.4 473.2,451.4 476.5,455.9 474.9,458.5 480.7,460.1"/>
<polyline points="422.2,507.0 420.5,505.3 419.7,498.6 418.0,491.1 413.8,487.7 418.0,486.1 415.5,483.6 418.8,481.0 414.6,476.0 422.2,475.2 427.2,480.2 435.5,483.6 444.7,484.4 445.6,488.6 441.4,491.9 438.9,496.1 440.6,499.4 443.9,495.3 446.4,501.1 448.1,506.1 447.3,510.3"/>
<polyline points="480.7,460.1 482.4,464.3 477.4,467.7 469.0,470.2 464.8,475.2 463.2,481.9 460.6,490.2 453.1,492.8 451.4,503.6 448.1,507.0"/>
<polyline points="480.7,460.1 486.6,460.1 491.6,465.2 492.4,473.5 489.1,478.5 484.9,483.6 484.1,491.1 490.8,491.9 494.1,498.6 499.1,500.3 497.4,505.3 502.5,508.6 509.2,507.8 511.7,510.3"/>
<polyline points="511.7,510.3 502.5,518.7 495.8,520.4 489.1,524.5 484.1,531.2 482.4,533.7 486.6,540.4 491.6,548.8 489.9,557.2 493.3,563.9 496.6,572.2 498.3,578.9 497.4,585.6 494.9,592.3 493.3,600.0"/>
<polyline points="514.2,504.5 515.8,510.3 512.5,512.0 505.8,517.8 504.1,522.0 509.2,525.4 510.8,532.1 510.0,539.6 518.4,535.4 525.9,533.7 532.6,536.3 536.8,542.1 539.3,548.8 544.3,554.7 545.1,563.9 550.1,561.3 554.3,563.9 556.8,558.8 554.3,552.1 548.5,544.6 542.6,537.1 536.8,532.1 531.7,526.2 535.9,522.9 532.6,518.7 527.6,515.3 523.4,510.3 519.2,505.3 514.2,504.5 511.7,510.3"/>
<polyline points="519.2,502.8 527.6,500.3 540.9,496.9 551.0,499.4 552.7,504.5 559.3,508.6 566.0,509.5"/>
<polyline points="527.6,590.6 525.9,589.0 523.4,583.9 520.0,575.6 520.9,570.5 524.2,565.5 532.6,563.0 539.3,563.0 545.1,564.7"/>
<polyline points="554.3,563.9 556.8,567.2 557.7,575.6 553.5,580.6 546.8,583.1 548.5,588.1 540.9,589.8 535.9,592.3"/>
<polyline points="77.8,581.7 73.6,580.1 71.1,583.4 71.9,587.6 77.8,586.8 80.3,585.1"/>
<polyline points="79.5,587.6 83.6,596.0 93.7,601.8 103.7,606.8 113.8,610.2 107.1,618.6 98.7,626.9 90.3,631.9 80.3,635.3 70.3,640.3"/>
<polyline points="124.3,585.1 124.3,599.3 120.5,605.2 113.8,610.2"/>
<polyline points="70.3,640.3 63.6,638.6 56.9,642.8 48.5,642.8 40.2,640.3 31.8,636.1 26.8,633.6 22.6,628.6"/>
<polyline points="70.3,640.3 66.1,648.7 66.1,660.4 66.1,673.8 69.4,680.5 66.9,683.8"/>
<polyline points="22.6,628.6 18.4,621.9 13.4,616.9 7.5,610.2 10.0,606.8 13.4,600.2 12.5,593.5 16.7,588.4 21.7,581.7 26.8,576.7 30.1,568.4 31.8,560.0"/>
<polyline points="22.6,628.6 14.2,637.8 0.0,642.0"/>
<polyline points="14.2,637.8 18.4,647.0 20.9,655.4 15.9,662.1 12.5,668.7 12.5,676.3 0.0,675.4"/>
<polyline points="12.5,676.3 23.4,682.1 33.5,688.8 41.0,693.8 42.7,698.9 50.2,703.0 53.5,703.9"/>
<polyline points="0.0,581.7 5.0,579.2 7.5,580.1 6.7,587.6 10.0,591.8 13.4,600.2"/>
<polyline points="60.2,745.7 55.9,748.4 49.5,751.1 43.0,752.7 36.6,754.3 31.2,755.4 24.7,754.3 18.3,754.3"/>
<polyline points="0.0,734.9 4.3,736.6 7.5,739.2 9.7,737.6 12.9,739.8 15.6,744.1 17.2,750.5 16.1,758.1 16.7,764.5 19.4,769.9 23.7,774.2 26.3,779.6 25.8,786.0 23.1,790.3 21.0,793.5 17.7,789.2 16.7,783.9 16.1,777.4 11.8,774.2 8.1,772.0 4.3,771.0 5.9,765.6 8.1,760.2 7.5,753.8 9.1,746.2 7.5,739.2"/>
<polyline points="0.0,774.2 4.3,773.1 8.1,772.0"/>
<polyline points="0.0,790.3 3.2,791.4 4.8,796.8 4.3,805.4 3.2,812.0"/>
<polyline points="0.0,866.1 5.0,867.4"/>
<polyline points="5.0,807.3 2.5,819.8 0.0,824.8"/>
<polyline points="502.7,619.9 508.1,621.0 510.2,626.3 514.5,625.8 515.6,623.1"/>

</g>
</g>
</defs>
<rect width="1860" height="1046" fill="#fff"/>
<!-- top panel -->
<g clip-path="url(#ct)">
<rect x="0" y="0" width="1860" height="414" fill="#fee5d9"/>
<path d="M37.6 177.7 C39.7 169.5 45.5 177.2 50.1 176.4 C54.7 175.6 59.7 174.1 65.1 172.7 C70.6 171.2 76.8 169.3 82.7 167.6 C88.5 166.0 94.4 164.4 100.2 162.6 C106.1 160.9 111.9 158.8 117.8 157.1 C123.6 155.5 129.9 154.0 135.3 152.6 C140.7 151.2 145.7 150.1 150.3 148.9 C154.9 147.6 158.7 146.6 162.9 145.1 C167.0 143.6 171.6 142.2 175.4 140.1 C179.1 138.0 182.1 135.5 185.4 132.6 C188.7 129.7 192.1 126.5 195.4 122.8 C198.8 119.0 201.7 114.0 205.4 110.2 C209.2 106.5 213.4 103.1 218.0 100.2 C222.6 97.3 227.6 95.6 233.0 92.7 C238.4 89.8 245.1 86.9 250.5 82.7 C256.0 78.5 261.4 72.2 265.6 67.6 C269.7 63.1 271.8 59.3 275.6 55.1 C279.4 50.9 284.4 46.3 288.1 42.6 C291.9 38.8 295.2 34.9 298.1 32.6 C301.1 30.3 303.2 29.6 305.7 28.8 C308.2 28.0 307.7 21.9 313.2 27.6 C318.6 33.2 329.2 53.4 338.2 62.6 C347.2 71.8 361.2 79.8 367.0 82.7 C372.9 85.6 370.6 81.8 373.3 80.2 C376.0 78.5 379.6 75.0 383.3 72.7 C387.1 70.4 393.1 67.6 395.9 66.4 C398.6 65.1 397.2 66.4 400.0 65.1 C402.8 63.9 408.4 60.8 412.5 58.9 C416.7 57.0 420.9 55.1 425.1 53.9 C429.2 52.6 433.4 52.2 437.6 51.4 C441.8 50.5 446.3 50.1 450.1 48.9 C453.9 47.6 457.2 45.7 460.1 43.8 C463.1 42.0 465.1 39.5 467.6 37.6 C470.2 35.7 472.7 33.8 475.2 32.6 C477.7 31.3 478.5 31.3 482.7 30.1 C486.9 28.8 495.8 24.4 500.2 25.1 C504.6 25.7 504.8 30.5 509.0 33.8 C513.2 37.2 522.6 41.3 525.3 45.1 C528.0 48.9 525.1 53.0 525.3 56.4 C525.5 59.7 526.7 62.0 526.5 65.1 C526.3 68.3 525.0 71.8 524.0 75.2 C523.1 78.5 521.4 81.8 520.8 85.2 C520.1 88.5 519.9 92.3 520.3 95.2 C520.6 98.1 521.5 100.2 522.8 102.7 C524.0 105.2 526.3 107.7 527.8 110.2 C529.2 112.7 530.7 115.2 531.5 117.8 C532.4 120.3 531.3 123.2 532.8 125.3 C534.2 127.4 536.5 129.0 540.3 130.3 C544.1 131.5 550.7 132.8 555.3 132.8 C559.9 132.8 560.3 132.4 567.9 130.3 C575.4 128.2 588.7 124.4 600.4 120.3 C612.1 116.1 629.7 109.2 638.0 105.2 C646.4 101.3 646.8 99.2 650.5 96.5 C654.3 93.7 657.4 91.0 660.6 88.9 C663.7 86.9 665.2 84.6 669.3 83.9 C673.5 83.3 680.8 83.7 685.6 85.2 C690.4 86.6 695.6 91.0 698.1 92.7 C700.6 94.4 699.0 95.0 700.6 95.2 C702.3 95.4 705.7 95.2 708.2 94.0 C710.7 92.7 713.2 90.4 715.7 87.7 C718.2 85.0 720.7 81.0 723.2 77.7 C725.7 74.3 727.8 70.8 730.7 67.6 C733.6 64.5 736.6 61.6 740.7 58.9 C744.9 56.2 751.2 53.7 755.8 51.4 C760.4 49.1 765.0 46.6 768.3 45.1 C771.6 43.6 772.9 42.3 775.8 42.1 C778.7 41.9 781.7 42.7 785.8 43.8 C790.0 45.0 795.0 47.4 800.9 48.9 C806.7 50.3 814.2 51.8 820.9 52.6 C827.6 53.4 833.6 53.7 840.9 53.9 C848.3 54.1 858.9 54.5 865.0 53.9 C871.1 53.2 872.9 51.2 877.5 50.1 C882.1 49.1 887.1 47.6 892.6 47.6 C898.0 47.6 903.8 49.1 910.1 50.1 C916.4 51.2 923.5 52.9 930.1 53.9 C936.8 54.8 943.5 55.3 950.2 55.6 C956.9 55.9 963.5 55.1 970.2 55.6 C976.9 56.2 983.6 57.6 990.3 58.9 C997.0 60.1 1003.6 62.0 1010.3 63.1 C1017.0 64.3 1023.7 64.7 1030.4 65.6 C1037.0 66.6 1044.6 67.3 1050.4 68.9 C1056.2 70.5 1060.4 73.1 1065.4 75.2 C1070.4 77.2 1075.0 79.8 1080.5 81.4 C1085.9 83.0 1092.2 84.1 1098.0 84.7 C1103.8 85.3 1109.3 85.3 1115.5 85.2 C1121.8 85.1 1128.9 83.9 1135.6 83.9 C1142.3 83.9 1149.4 85.1 1155.6 85.2 C1161.9 85.3 1168.2 84.7 1173.2 84.7 C1178.2 84.7 1182.3 84.5 1185.7 85.2 C1189.0 85.9 1191.5 87.5 1193.2 88.9 C1194.9 90.4 1196.5 92.5 1195.7 94.0 C1194.9 95.4 1192.0 96.7 1188.2 97.7 C1184.4 98.7 1178.6 99.1 1173.2 99.7 C1167.7 100.3 1161.1 100.5 1155.6 101.5 C1150.2 102.4 1144.8 103.6 1140.6 105.2 C1136.4 106.9 1133.1 109.2 1130.6 111.5 C1128.1 113.8 1126.2 116.5 1125.6 119.0 C1124.9 121.5 1125.1 124.2 1126.8 126.5 C1128.5 128.8 1131.6 131.0 1135.6 132.8 C1139.5 134.6 1145.6 136.0 1150.6 137.3 C1155.6 138.5 1160.6 139.3 1165.6 140.3 C1170.7 141.3 1175.7 142.1 1180.7 143.3 C1185.7 144.6 1190.7 145.8 1195.7 147.8 C1200.7 149.8 1205.7 152.8 1210.7 155.3 C1215.8 157.8 1220.8 160.7 1225.8 162.9 C1230.8 165.0 1235.8 166.9 1240.8 168.4 C1245.8 169.8 1250.4 170.4 1255.8 171.6 C1261.3 172.8 1267.5 174.1 1273.4 175.4 C1279.2 176.6 1285.1 177.7 1290.9 179.1 C1296.8 180.6 1303.0 182.5 1308.5 184.1 C1313.9 185.8 1318.2 187.5 1323.5 189.2 C1328.8 190.8 1334.5 191.9 1340.2 194.0 C1345.9 196.0 1351.9 199.2 1357.7 201.5 C1363.6 203.8 1369.8 205.6 1375.3 207.7 C1380.7 209.8 1386.1 211.7 1390.3 214.0 C1394.5 216.3 1398.4 219.2 1400.3 221.5 C1402.2 223.8 1402.4 225.3 1401.6 227.8 C1400.7 230.3 1398.4 233.6 1395.3 236.5 C1392.2 239.5 1387.8 242.6 1382.8 245.3 C1377.8 248.0 1371.5 250.5 1365.2 252.8 C1359.0 255.1 1351.9 257.2 1345.2 259.1 C1338.5 261.0 1330.0 263.2 1325.2 264.1 C1320.3 265.0 1321.7 264.3 1316.0 264.7 C1310.3 265.2 1299.3 266.2 1290.9 266.7 C1282.6 267.2 1274.2 267.5 1265.9 267.7 C1257.5 268.0 1249.2 268.4 1240.8 268.5 C1232.5 268.6 1224.1 268.7 1215.8 268.5 C1207.4 268.3 1199.1 267.7 1190.7 267.2 C1182.3 266.8 1174.0 266.3 1165.6 266.0 C1157.3 265.7 1148.9 265.2 1140.6 265.2 C1132.2 265.2 1123.1 265.9 1115.5 266.0 C1108.0 266.1 1102.2 266.3 1095.5 266.0 C1088.8 265.7 1082.1 265.0 1075.5 264.2 C1068.8 263.5 1062.1 262.4 1055.4 261.7 C1048.7 261.1 1042.0 260.6 1035.4 260.2 C1028.7 259.9 1022.0 260.0 1015.3 259.7 C1008.6 259.4 1002.0 259.1 995.3 258.5 C988.6 257.9 982.3 256.8 975.2 256.0 C968.1 255.1 960.6 254.1 952.7 253.5 C944.8 252.8 936.0 252.6 927.6 252.2 C919.3 251.8 910.5 251.6 902.6 251.0 C894.6 250.3 886.3 249.2 880.0 248.5 C873.8 247.7 869.8 246.7 865.0 246.7 C860.2 246.7 855.6 248.2 851.0 248.5 C846.3 248.7 843.5 247.0 837.2 248.5 C830.9 249.9 821.1 255.3 813.4 257.2 C805.7 259.1 805.5 256.4 790.8 259.7 C776.2 263.1 753.1 273.1 725.7 277.3 C698.3 281.4 643.4 283.7 626.7 284.8 C610.0 285.8 626.5 285.2 625.5 283.5 C624.4 281.9 622.6 277.9 620.5 274.8 C618.4 271.6 615.9 268.1 613.0 264.7 C610.0 261.4 606.3 257.9 602.9 254.7 C599.6 251.6 596.7 248.9 592.9 246.0 C589.2 243.0 585.4 239.7 580.4 237.2 C575.4 234.7 568.7 233.0 562.9 230.9 C557.0 228.8 551.6 226.7 545.3 224.7 C539.0 222.6 532.0 220.3 525.3 218.4 C518.6 216.5 511.9 214.6 505.2 213.4 C498.5 212.1 491.9 211.7 485.2 210.9 C478.5 210.0 471.8 208.9 465.1 208.4 C458.5 207.8 451.8 207.8 445.1 207.6 C438.4 207.4 430.5 207.6 425.1 207.1 C419.6 206.6 416.7 205.7 412.5 204.6 C408.4 203.6 403.2 202.4 400.0 200.9 C396.8 199.3 396.1 197.0 393.3 195.2 C390.6 193.4 386.2 190.6 383.3 190.2 C380.4 189.8 377.5 191.0 375.8 192.7 C374.1 194.4 373.3 197.3 373.3 200.2 C373.3 203.1 376.2 207.5 375.8 210.2 C375.4 213.0 373.7 214.8 370.8 216.5 C367.9 218.2 363.3 219.2 358.3 220.3 C353.3 221.3 347.0 222.4 340.7 222.8 C334.5 223.1 327.4 222.9 320.7 222.3 C314.0 221.6 307.3 220.1 300.6 219.0 C294.0 217.9 287.3 216.6 280.6 215.7 C273.9 214.9 267.2 213.7 260.6 214.0 C253.9 214.2 246.4 217.0 240.5 217.3 C234.7 217.5 228.8 216.3 225.5 215.7 C222.1 215.2 222.1 213.7 220.5 214.0 C218.8 214.3 217.6 216.1 215.5 217.8 C213.4 219.4 210.9 222.3 207.9 224.0 C205.0 225.8 201.7 227.4 197.9 228.3 C194.2 229.1 189.6 229.5 185.4 229.0 C181.2 228.5 177.0 226.9 172.9 225.3 C168.7 223.6 164.5 220.9 160.3 219.0 C156.2 217.1 151.6 215.0 147.8 214.0 C144.1 213.0 140.7 212.1 137.8 212.7 C134.9 213.4 132.2 215.7 130.3 217.8 C128.4 219.8 130.7 219.8 126.5 225.3 C122.3 230.7 112.1 242.4 105.2 250.3 C98.3 258.3 89.8 269.5 85.2 272.9 C80.6 276.2 80.0 272.0 77.7 270.4 C75.4 268.7 73.3 266.2 71.4 262.9 C69.5 259.5 67.9 254.1 66.4 250.3 C64.9 246.6 67.4 244.5 62.6 240.3 C57.8 236.1 41.8 235.7 37.6 225.3 C33.4 214.8 35.5 185.8 37.6 177.7Z" fill="#fc9272"/>
<path d="M1651.2 37.6 C1651.5 36.1 1652.2 34.4 1653.7 32.6 C1655.3 30.8 1657.6 28.7 1660.4 26.8 C1663.2 24.8 1667.4 22.7 1670.5 20.9 C1673.5 19.1 1676.6 17.6 1678.8 15.9 C1681.0 14.2 1681.6 12.1 1683.8 10.9 C1686.1 9.6 1689.4 7.5 1692.2 8.4 C1695.0 9.2 1698.5 14.1 1700.6 15.9 C1702.7 17.7 1704.2 17.4 1704.7 19.2 C1705.3 21.1 1704.5 24.1 1703.9 26.8 C1703.4 29.4 1702.5 32.6 1701.4 35.1 C1700.3 37.6 1699.3 39.9 1697.2 41.8 C1695.1 43.8 1691.9 45.7 1688.9 46.8 C1685.8 48.0 1682.4 48.6 1678.8 48.9 C1675.2 49.1 1670.7 48.8 1667.1 48.2 C1663.5 47.6 1659.6 46.2 1657.1 45.2 C1654.6 44.1 1653.0 43.1 1652.1 41.8 C1651.1 40.6 1650.9 39.2 1651.2 37.6Z" fill="#fc9272"/>
<path d="M1801.3 80.0 C1801.6 79.0 1802.7 78.3 1804.3 77.8 C1805.9 77.3 1809.2 76.8 1811.0 77.0 C1812.8 77.1 1814.6 77.8 1815.2 78.6 C1815.7 79.5 1815.0 80.9 1814.3 82.0 C1813.6 83.0 1812.5 84.3 1811.0 85.0 C1809.4 85.7 1806.6 86.4 1805.1 86.2 C1803.7 85.9 1802.9 84.7 1802.3 83.6 C1801.6 82.6 1800.9 80.9 1801.3 80.0Z" fill="#fc9272"/>
<path d="M210.0 200.2 C210.9 199.0 213.3 198.0 215.5 197.7 C217.6 197.4 221.1 197.4 223.0 198.2 C224.9 199.0 226.3 200.9 226.7 202.7 C227.2 204.5 226.2 207.3 225.5 209.0 C224.7 210.7 223.0 211.6 222.2 212.7 C221.5 213.9 221.6 215.7 221.0 215.7 C220.3 215.8 219.6 214.2 218.5 213.2 C217.3 212.3 215.6 211.6 214.2 210.2 C212.8 208.9 210.7 206.9 210.0 205.2 C209.2 203.6 209.0 201.5 210.0 200.2Z" fill="#fee5d9"/>
<path d="M85.2 192.7 C85.4 190.6 86.9 188.1 88.9 186.4 C91.0 184.8 94.2 183.5 97.7 182.7 C101.3 181.8 106.9 181.2 110.2 181.4 C113.6 181.6 117.1 182.5 117.8 183.9 C118.4 185.4 116.1 188.1 114.0 190.2 C111.9 192.3 108.4 194.6 105.2 196.5 C102.1 198.3 98.1 201.1 95.2 201.5 C92.3 201.9 89.4 200.4 87.7 199.0 C86.0 197.5 85.0 194.8 85.2 192.7Z" fill="#fb6a4a"/>
<path d="M304.4 61.4 C304.6 59.8 306.3 57.5 308.2 56.4 C310.0 55.2 313.2 54.6 315.7 54.6 C318.2 54.6 321.5 55.0 323.2 56.4 C324.9 57.7 325.7 60.8 325.7 62.6 C325.7 64.5 325.3 66.7 323.2 67.6 C321.1 68.6 315.9 68.5 313.2 68.1 C310.5 67.8 308.4 66.8 306.9 65.6 C305.4 64.5 304.2 62.9 304.4 61.4Z" fill="#fb6a4a"/>
<path d="M428.4 143.8 C428.6 141.3 429.5 138.8 431.7 137.1 C433.9 135.4 438.1 134.5 441.7 133.8 C445.4 133.0 449.8 133.0 453.5 132.4 C457.1 131.9 461.4 132.4 463.5 130.4 C465.6 128.4 464.9 123.2 466.0 120.4 C467.1 117.6 468.4 115.2 470.2 113.7 C472.0 112.2 474.1 112.3 476.9 111.2 C479.7 110.1 484.4 109.1 486.9 107.0 C489.4 104.9 490.3 100.9 491.9 98.6 C493.6 96.4 494.4 94.2 497.0 93.6 C499.5 93.1 504.2 93.1 507.0 95.3 C509.8 97.5 511.5 102.8 513.7 107.0 C515.9 111.2 518.1 117.0 520.4 120.4 C522.6 123.7 527.1 124.3 527.1 127.1 C527.1 129.9 523.2 132.1 520.4 137.1 C517.6 142.1 512.6 153.6 510.3 157.2 C508.1 160.8 508.7 158.9 507.0 158.9 C505.3 158.9 502.8 158.0 500.3 157.2 C497.8 156.3 495.0 155.0 491.9 153.8 C488.9 152.7 484.7 150.8 481.9 150.5 C479.1 150.2 477.4 151.2 475.2 152.2 C473.0 153.1 471.0 155.1 468.5 156.3 C466.0 157.6 463.5 158.9 460.2 159.7 C456.8 160.5 452.3 161.5 448.4 161.4 C444.5 161.2 439.8 160.4 436.7 158.9 C433.7 157.3 431.4 154.7 430.0 152.2 C428.6 149.7 428.1 146.3 428.4 143.8Z" fill="#fb6a4a"/>
<path d="M552.8 175.4 C552.8 173.8 556.6 173.4 560.3 172.9 C564.1 172.4 570.8 172.8 575.4 172.4 C580.0 172.0 585.0 171.5 587.9 170.4 C590.8 169.2 590.8 166.6 592.9 165.4 C595.0 164.1 597.1 163.1 600.4 162.9 C603.8 162.6 608.8 166.2 613.0 164.1 C617.1 162.0 620.8 156.4 625.5 150.3 C630.2 144.3 636.9 131.1 641.0 127.8 C645.1 124.4 645.9 130.1 650.2 130.3 C654.5 130.4 660.8 129.6 666.9 128.6 C673.1 127.6 682.0 124.7 687.0 124.4 C692.0 124.1 693.7 125.9 697.0 126.9 C700.4 127.9 703.7 130.0 707.1 130.3 C710.4 130.5 714.3 129.1 717.1 128.6 C719.9 128.0 721.8 128.0 723.8 126.9 C725.8 125.8 727.1 123.6 728.8 121.9 C730.5 120.2 732.2 118.6 733.8 116.9 C735.5 115.2 736.9 113.8 738.9 111.9 C740.8 109.9 743.6 107.0 745.5 105.2 C747.5 103.4 748.3 102.5 750.6 101.0 C752.8 99.5 756.1 97.4 758.9 96.0 C761.7 94.6 763.1 93.6 767.3 92.6 C771.5 91.6 778.4 90.8 784.0 90.1 C789.6 89.5 795.2 89.2 800.8 88.8 C806.3 88.4 811.9 88.1 817.5 87.6 C823.1 87.1 828.6 86.6 834.2 85.9 C839.8 85.2 845.8 84.4 850.9 83.4 C856.1 82.5 860.6 81.5 865.0 80.2 C869.4 78.8 873.4 76.5 877.5 75.2 C881.7 73.8 885.5 72.6 890.1 72.2 C894.6 71.7 899.7 72.2 905.1 72.7 C910.5 73.1 916.8 74.2 922.6 74.7 C928.5 75.1 934.7 75.4 940.2 75.2 C945.6 74.9 950.2 73.6 955.2 73.2 C960.2 72.7 965.2 72.3 970.2 72.7 C975.2 73.0 980.2 74.0 985.3 75.2 C990.3 76.3 995.3 78.6 1000.3 79.7 C1005.3 80.7 1010.3 80.7 1015.3 81.4 C1020.3 82.1 1025.3 82.7 1030.4 83.9 C1035.4 85.2 1040.8 87.1 1045.4 88.9 C1050.0 90.8 1054.6 93.3 1057.9 95.2 C1061.3 97.1 1063.8 98.3 1065.4 100.2 C1067.1 102.1 1068.4 104.2 1067.9 106.5 C1067.5 108.8 1064.4 111.5 1062.9 114.0 C1061.5 116.5 1059.2 119.0 1059.2 121.5 C1059.2 124.0 1060.6 126.5 1062.9 129.0 C1065.2 131.5 1069.2 134.2 1072.9 136.5 C1076.7 138.8 1080.9 141.1 1085.5 142.8 C1090.1 144.5 1095.5 145.6 1100.5 146.6 C1105.5 147.5 1110.5 147.8 1115.5 148.3 C1120.5 148.9 1125.6 149.1 1130.6 149.8 C1135.6 150.6 1140.6 151.5 1145.6 152.8 C1150.6 154.2 1155.6 156.2 1160.6 157.8 C1165.6 159.5 1170.7 161.2 1175.7 162.9 C1180.7 164.5 1185.7 166.2 1190.7 167.9 C1195.7 169.5 1200.7 171.4 1205.7 172.9 C1210.7 174.3 1215.3 175.4 1220.8 176.6 C1226.2 177.9 1232.5 178.9 1238.3 180.4 C1244.1 181.8 1250.0 183.7 1255.8 185.4 C1261.7 187.1 1267.5 188.5 1273.4 190.4 C1279.2 192.3 1285.1 194.4 1290.9 196.7 C1296.8 199.0 1303.0 201.5 1308.5 204.2 C1313.9 206.9 1319.2 210.5 1323.5 213.0 C1327.7 215.4 1331.6 216.5 1333.9 219.0 C1336.2 221.5 1337.2 224.6 1337.2 227.8 C1337.2 230.9 1335.9 234.9 1333.9 237.8 C1331.9 240.7 1330.2 243.3 1325.2 245.3 C1320.1 247.3 1313.3 248.8 1303.4 249.7 C1293.6 250.7 1278.4 250.8 1265.9 251.0 C1253.3 251.2 1240.8 250.8 1228.3 251.0 C1215.8 251.1 1202.8 251.5 1190.7 251.7 C1178.6 251.9 1165.6 252.0 1155.6 252.2 C1145.6 252.4 1138.1 252.7 1130.6 252.7 C1123.1 252.7 1117.2 252.6 1110.5 252.2 C1103.8 251.8 1096.7 251.1 1090.5 250.2 C1084.2 249.3 1078.8 248.2 1072.9 246.7 C1067.1 245.2 1061.7 242.7 1055.4 240.9 C1049.1 239.1 1042.0 237.3 1035.4 235.9 C1028.7 234.6 1022.0 233.3 1015.3 232.7 C1008.6 232.0 1002.0 232.0 995.3 232.2 C988.6 232.3 981.9 232.8 975.2 233.4 C968.6 234.1 961.9 235.1 955.2 235.9 C948.5 236.8 941.8 237.9 935.2 238.4 C928.5 239.0 921.4 239.4 915.1 239.2 C908.8 239.0 902.6 238.1 897.6 237.2 C892.6 236.2 888.8 234.9 885.0 233.4 C881.3 232.0 878.4 229.8 875.0 228.4 C871.7 227.0 869.0 225.5 865.0 225.2 C861.0 224.8 855.4 225.8 851.0 226.2 C846.5 226.5 842.6 227.0 838.4 227.2 C834.3 227.3 829.7 225.5 825.9 227.2 C822.2 228.8 818.6 233.8 815.9 237.2 C813.2 240.6 812.1 246.0 809.6 247.7 C807.1 249.4 804.8 247.4 800.9 247.2 C796.9 247.0 791.0 247.3 785.8 246.7 C780.6 246.1 779.6 240.4 769.5 243.4 C759.5 246.5 743.4 258.3 725.7 264.7 C708.0 271.2 676.2 279.4 663.1 282.3 C649.9 285.2 650.5 283.1 646.8 282.3 C643.0 281.4 642.8 279.8 640.5 277.3 C638.2 274.8 635.5 270.6 633.0 267.2 C630.5 263.9 628.0 260.6 625.5 257.2 C623.0 253.9 620.9 251.0 618.0 247.2 C615.0 243.4 611.3 238.4 607.9 234.7 C604.6 230.9 601.7 227.6 597.9 224.7 C594.2 221.7 588.7 219.6 585.4 217.1 C582.1 214.6 579.3 212.1 577.9 209.6 C576.4 207.1 577.0 204.0 576.6 202.1 C576.2 200.2 578.1 201.7 575.4 198.3 C572.7 195.0 564.1 185.9 560.3 182.1 C556.6 178.2 552.8 176.9 552.8 175.4Z" fill="#fb6a4a"/>
<path d="M636.8 224.7 C637.6 221.7 638.2 219.2 640.5 217.1 C642.8 215.1 646.4 213.5 650.5 212.1 C654.7 210.8 660.1 210.2 665.6 209.1 C671.0 208.1 676.8 206.8 683.1 205.9 C689.4 204.9 696.5 203.8 703.2 203.4 C709.8 202.9 716.9 202.9 723.2 203.4 C729.5 203.8 735.3 204.7 740.7 205.9 C746.2 207.0 750.8 208.7 755.8 210.1 C760.8 211.6 765.8 213.1 770.8 214.6 C775.8 216.1 780.8 217.7 785.8 219.1 C790.8 220.6 796.7 222.1 800.9 223.4 C805.0 224.7 808.4 225.7 810.9 227.2 C813.4 228.6 815.9 230.2 815.9 232.2 C815.9 234.2 813.4 238.1 810.9 239.2 C808.4 240.2 805.0 238.9 800.9 238.4 C796.7 238.0 790.8 237.5 785.8 236.7 C780.8 235.8 780.8 230.8 770.8 233.4 C760.8 236.0 741.6 247.0 725.7 252.2 C709.8 257.4 686.0 261.0 675.6 264.7 C665.2 268.5 666.0 273.7 663.1 274.8 C660.1 275.8 659.7 272.9 658.1 271.0 C656.4 269.1 654.7 266.2 653.0 263.5 C651.4 260.8 650.1 257.9 648.0 254.7 C645.9 251.6 642.6 248.0 640.5 244.7 C638.4 241.4 636.1 238.0 635.5 234.7 C634.9 231.3 635.9 227.6 636.8 224.7Z" fill="#de2d26"/>
<path d="M850.9 184.6 C851.7 182.6 853.2 181.2 854.3 179.6 C855.4 178.1 857.9 177.5 857.6 175.4 C857.4 173.3 854.6 170.1 852.6 167.1 C850.7 164.0 848.2 160.4 845.9 157.0 C843.7 153.7 841.5 150.1 839.2 147.0 C837.0 143.9 834.5 141.4 832.5 138.6 C830.6 135.8 828.6 133.1 827.5 130.3 C826.4 127.5 825.6 124.1 825.8 121.9 C826.1 119.7 827.2 118.4 829.2 116.9 C831.1 115.3 833.9 114.0 837.6 112.7 C841.2 111.4 846.4 110.0 850.9 109.4 C855.5 108.7 860.6 109.5 865.0 109.0 C869.4 108.5 872.9 107.2 877.5 106.5 C882.1 105.8 887.5 105.1 892.6 104.7 C897.6 104.3 902.6 103.7 907.6 104.0 C912.6 104.3 918.0 105.2 922.6 106.5 C927.2 107.7 931.8 109.6 935.2 111.5 C938.5 113.4 940.8 115.5 942.7 117.8 C944.5 120.0 944.8 122.8 946.4 125.3 C948.1 127.8 949.6 130.3 952.7 132.8 C955.8 135.3 960.6 138.0 965.2 140.3 C969.8 142.6 974.8 144.5 980.2 146.6 C985.7 148.7 991.9 151.2 997.8 152.8 C1003.6 154.5 1009.9 155.8 1015.3 156.6 C1020.8 157.4 1025.3 157.8 1030.4 157.8 C1035.4 157.8 1040.4 156.2 1045.4 156.6 C1050.4 157.0 1055.4 159.1 1060.4 160.3 C1065.4 161.6 1070.4 162.9 1075.5 164.1 C1080.5 165.3 1085.5 166.4 1090.5 167.4 C1095.5 168.3 1100.1 169.2 1105.5 169.9 C1110.9 170.6 1117.2 171.2 1123.1 171.6 C1128.9 172.0 1134.7 172.2 1140.6 172.4 C1146.4 172.5 1152.7 172.1 1158.1 172.4 C1163.6 172.7 1168.6 173.0 1173.2 174.1 C1177.8 175.3 1181.9 177.0 1185.7 179.1 C1189.4 181.2 1192.0 184.4 1195.7 186.7 C1199.5 188.9 1203.6 191.0 1208.2 192.9 C1212.8 194.8 1218.3 196.3 1223.3 197.9 C1228.3 199.6 1234.8 201.1 1238.3 202.9 C1241.9 204.8 1243.9 206.9 1244.6 209.2 C1245.2 211.5 1243.9 214.4 1242.1 216.7 C1240.2 219.0 1236.8 221.1 1233.3 223.0 C1229.7 224.9 1225.4 226.3 1220.8 228.0 C1216.2 229.7 1211.2 231.7 1205.7 233.0 C1200.3 234.3 1194.0 235.3 1188.2 236.0 C1182.3 236.8 1176.9 237.2 1170.7 237.5 C1164.4 237.8 1157.3 237.9 1150.6 238.0 C1143.9 238.1 1137.3 238.4 1130.6 238.0 C1123.9 237.6 1117.2 236.6 1110.5 235.5 C1103.8 234.5 1096.3 233.2 1090.5 231.7 C1084.6 230.3 1080.0 228.6 1075.5 226.7 C1070.9 224.9 1067.1 222.4 1062.9 220.5 C1058.8 218.6 1055.0 216.7 1050.4 215.5 C1045.8 214.2 1040.4 213.3 1035.4 213.0 C1030.4 212.6 1025.3 213.0 1020.3 213.5 C1015.3 213.9 1010.3 214.6 1005.3 215.5 C1000.3 216.3 995.3 217.6 990.3 218.5 C985.3 219.4 980.2 220.4 975.2 221.0 C970.2 221.5 965.2 221.8 960.2 221.7 C955.2 221.6 950.2 221.2 945.2 220.5 C940.2 219.8 935.2 218.7 930.1 217.5 C925.1 216.2 919.7 214.8 915.1 213.0 C910.5 211.2 906.8 208.8 902.6 206.7 C898.4 204.6 893.8 202.1 890.1 200.4 C886.3 198.8 883.4 197.1 880.0 196.7 C876.7 196.3 872.5 197.3 870.0 197.9 C867.5 198.6 867.3 200.4 865.0 200.4 C862.7 200.5 858.5 199.8 856.0 198.4 C853.5 196.9 850.8 194.3 849.9 192.0 C849.1 189.7 850.2 186.7 850.9 184.6Z" fill="#de2d26"/>
<path d="M696.9 232.2 C696.5 230.2 698.3 228.1 700.6 226.7 C702.9 225.2 706.9 224.2 710.7 223.4 C714.4 222.7 719.2 222.0 723.2 222.2 C727.2 222.3 733.6 222.9 734.5 224.2 C735.3 225.4 730.1 227.3 728.2 229.7 C726.3 232.0 724.4 235.8 723.2 238.4 C721.9 241.0 722.6 244.2 720.7 245.2 C718.8 246.2 714.8 245.3 711.9 244.2 C709.0 243.1 705.7 240.4 703.2 238.4 C700.6 236.4 697.3 234.1 696.9 232.2Z" fill="#a50f15"/>
<path d="M1145.6 204.2 C1145.6 202.8 1147.5 200.6 1149.4 199.2 C1151.2 197.8 1154.4 195.9 1156.9 195.9 C1159.4 195.9 1163.6 197.8 1164.4 199.2 C1165.2 200.6 1163.3 202.9 1161.9 204.2 C1160.4 205.4 1157.7 206.2 1155.6 206.7 C1153.5 207.2 1151.0 207.9 1149.4 207.4 C1147.7 207.0 1145.6 205.6 1145.6 204.2Z" fill="#a50f15"/>

<g id="gridt">
<g class="grid gh">
<line x1="0" x2="1860" y1="135.2" y2="135.2"/>
<line x1="0" x2="1860" y1="357.7" y2="357.7"/>
</g>
<g class="grid gv">
<line y1="-26.6" y2="414" x1="205.5" x2="205.5"/>
<line y1="-26.6" y2="414" x1="427" x2="427"/>
<line y1="-26.6" y2="414" x1="649.3" x2="649.3"/>
<line y1="-26.6" y2="414" x1="871" x2="871"/>
<line y1="-26.6" y2="414" x1="1093.3" x2="1093.3"/>
<line y1="-26.6" y2="414" x1="1315.3" x2="1315.3"/>
<line y1="-26.6" y2="414" x1="1537" x2="1537"/>
<line y1="-26.6" y2="414" x1="1758.8" x2="1758.8"/>
</g>
</g>
<g opacity="0.62">
<path d="M636.8 224.7 C637.6 221.7 638.2 219.2 640.5 217.1 C642.8 215.1 646.4 213.5 650.5 212.1 C654.7 210.8 660.1 210.2 665.6 209.1 C671.0 208.1 676.8 206.8 683.1 205.9 C689.4 204.9 696.5 203.8 703.2 203.4 C709.8 202.9 716.9 202.9 723.2 203.4 C729.5 203.8 735.3 204.7 740.7 205.9 C746.2 207.0 750.8 208.7 755.8 210.1 C760.8 211.6 765.8 213.1 770.8 214.6 C775.8 216.1 780.8 217.7 785.8 219.1 C790.8 220.6 796.7 222.1 800.9 223.4 C805.0 224.7 808.4 225.7 810.9 227.2 C813.4 228.6 815.9 230.2 815.9 232.2 C815.9 234.2 813.4 238.1 810.9 239.2 C808.4 240.2 805.0 238.9 800.9 238.4 C796.7 238.0 790.8 237.5 785.8 236.7 C780.8 235.8 780.8 230.8 770.8 233.4 C760.8 236.0 741.6 247.0 725.7 252.2 C709.8 257.4 686.0 261.0 675.6 264.7 C665.2 268.5 666.0 273.7 663.1 274.8 C660.1 275.8 659.7 272.9 658.1 271.0 C656.4 269.1 654.7 266.2 653.0 263.5 C651.4 260.8 650.1 257.9 648.0 254.7 C645.9 251.6 642.6 248.0 640.5 244.7 C638.4 241.4 636.1 238.0 635.5 234.7 C634.9 231.3 635.9 227.6 636.8 224.7Z" fill="#de2d26"/>
<path d="M850.9 184.6 C851.7 182.6 853.2 181.2 854.3 179.6 C855.4 178.1 857.9 177.5 857.6 175.4 C857.4 173.3 854.6 170.1 852.6 167.1 C850.7 164.0 848.2 160.4 845.9 157.0 C843.7 153.7 841.5 150.1 839.2 147.0 C837.0 143.9 834.5 141.4 832.5 138.6 C830.6 135.8 828.6 133.1 827.5 130.3 C826.4 127.5 825.6 124.1 825.8 121.9 C826.1 119.7 827.2 118.4 829.2 116.9 C831.1 115.3 833.9 114.0 837.6 112.7 C841.2 111.4 846.4 110.0 850.9 109.4 C855.5 108.7 860.6 109.5 865.0 109.0 C869.4 108.5 872.9 107.2 877.5 106.5 C882.1 105.8 887.5 105.1 892.6 104.7 C897.6 104.3 902.6 103.7 907.6 104.0 C912.6 104.3 918.0 105.2 922.6 106.5 C927.2 107.7 931.8 109.6 935.2 111.5 C938.5 113.4 940.8 115.5 942.7 117.8 C944.5 120.0 944.8 122.8 946.4 125.3 C948.1 127.8 949.6 130.3 952.7 132.8 C955.8 135.3 960.6 138.0 965.2 140.3 C969.8 142.6 974.8 144.5 980.2 146.6 C985.7 148.7 991.9 151.2 997.8 152.8 C1003.6 154.5 1009.9 155.8 1015.3 156.6 C1020.8 157.4 1025.3 157.8 1030.4 157.8 C1035.4 157.8 1040.4 156.2 1045.4 156.6 C1050.4 157.0 1055.4 159.1 1060.4 160.3 C1065.4 161.6 1070.4 162.9 1075.5 164.1 C1080.5 165.3 1085.5 166.4 1090.5 167.4 C1095.5 168.3 1100.1 169.2 1105.5 169.9 C1110.9 170.6 1117.2 171.2 1123.1 171.6 C1128.9 172.0 1134.7 172.2 1140.6 172.4 C1146.4 172.5 1152.7 172.1 1158.1 172.4 C1163.6 172.7 1168.6 173.0 1173.2 174.1 C1177.8 175.3 1181.9 177.0 1185.7 179.1 C1189.4 181.2 1192.0 184.4 1195.7 186.7 C1199.5 188.9 1203.6 191.0 1208.2 192.9 C1212.8 194.8 1218.3 196.3 1223.3 197.9 C1228.3 199.6 1234.8 201.1 1238.3 202.9 C1241.9 204.8 1243.9 206.9 1244.6 209.2 C1245.2 211.5 1243.9 214.4 1242.1 216.7 C1240.2 219.0 1236.8 221.1 1233.3 223.0 C1229.7 224.9 1225.4 226.3 1220.8 228.0 C1216.2 229.7 1211.2 231.7 1205.7 233.0 C1200.3 234.3 1194.0 235.3 1188.2 236.0 C1182.3 236.8 1176.9 237.2 1170.7 237.5 C1164.4 237.8 1157.3 237.9 1150.6 238.0 C1143.9 238.1 1137.3 238.4 1130.6 238.0 C1123.9 237.6 1117.2 236.6 1110.5 235.5 C1103.8 234.5 1096.3 233.2 1090.5 231.7 C1084.6 230.3 1080.0 228.6 1075.5 226.7 C1070.9 224.9 1067.1 222.4 1062.9 220.5 C1058.8 218.6 1055.0 216.7 1050.4 215.5 C1045.8 214.2 1040.4 213.3 1035.4 213.0 C1030.4 212.6 1025.3 213.0 1020.3 213.5 C1015.3 213.9 1010.3 214.6 1005.3 215.5 C1000.3 216.3 995.3 217.6 990.3 218.5 C985.3 219.4 980.2 220.4 975.2 221.0 C970.2 221.5 965.2 221.8 960.2 221.7 C955.2 221.6 950.2 221.2 945.2 220.5 C940.2 219.8 935.2 218.7 930.1 217.5 C925.1 216.2 919.7 214.8 915.1 213.0 C910.5 211.2 906.8 208.8 902.6 206.7 C898.4 204.6 893.8 202.1 890.1 200.4 C886.3 198.8 883.4 197.1 880.0 196.7 C876.7 196.3 872.5 197.3 870.0 197.9 C867.5 198.6 867.3 200.4 865.0 200.4 C862.7 200.5 858.5 199.8 856.0 198.4 C853.5 196.9 850.8 194.3 849.9 192.0 C849.1 189.7 850.2 186.7 850.9 184.6Z" fill="#de2d26"/>
<path d="M696.9 232.2 C696.5 230.2 698.3 228.1 700.6 226.7 C702.9 225.2 706.9 224.2 710.7 223.4 C714.4 222.7 719.2 222.0 723.2 222.2 C727.2 222.3 733.6 222.9 734.5 224.2 C735.3 225.4 730.1 227.3 728.2 229.7 C726.3 232.0 724.4 235.8 723.2 238.4 C721.9 241.0 722.6 244.2 720.7 245.2 C718.8 246.2 714.8 245.3 711.9 244.2 C709.0 243.1 705.7 240.4 703.2 238.4 C700.6 236.4 697.3 234.1 696.9 232.2Z" fill="#a50f15"/>
<path d="M1145.6 204.2 C1145.6 202.8 1147.5 200.6 1149.4 199.2 C1151.2 197.8 1154.4 195.9 1156.9 195.9 C1159.4 195.9 1163.6 197.8 1164.4 199.2 C1165.2 200.6 1163.3 202.9 1161.9 204.2 C1160.4 205.4 1157.7 206.2 1155.6 206.7 C1153.5 207.2 1151.0 207.9 1149.4 207.4 C1147.7 207.0 1145.6 205.6 1145.6 204.2Z" fill="#a50f15"/>
</g>
<use href="#land" transform="translate(0,-534.5)"/>
<g clip-path="url(#lct)"><use href="#gridt"/></g>
<text class="oc" x="1374.5" y="12" textLength="105" lengthAdjust="spacingAndGlyphs">Pacific</text>
<text class="oc" x="1376.5" y="48.3" textLength="99.5" lengthAdjust="spacingAndGlyphs">Ocean</text>
<text class="oc" x="272.5" y="280" textLength="96.5" lengthAdjust="spacingAndGlyphs">Indian</text>
<text class="oc" x="271" y="316" textLength="99" lengthAdjust="spacingAndGlyphs">Ocean</text>
<text class="oc" x="680" y="319.4" font-style="italic" style="font-size:34px" textLength="147" lengthAdjust="spacingAndGlyphs">Australia</text>
<text class="yr" x="1555" y="346" textLength="188" lengthAdjust="spacingAndGlyphs">1900-1980</text>
</g>
<!-- bottom panel -->
<g clip-path="url(#cb)">
<rect x="0" y="429" width="1860" height="520" fill="#fee5d9"/>
<path d="M55.2 687.1 C58.4 683.0 61.3 687.0 64.4 687.1 C67.5 687.3 70.4 688.0 73.6 688.0 C76.8 688.0 80.3 687.7 83.6 687.1 C87.0 686.6 90.3 685.6 93.7 684.6 C97.0 683.7 100.4 682.5 103.7 681.3 C107.1 680.0 110.4 678.5 113.8 677.1 C117.1 675.7 120.5 674.3 123.8 672.9 C127.1 671.5 130.8 670.1 133.8 668.7 C136.9 667.3 140.0 666.2 142.2 664.6 C144.4 662.9 146.0 660.8 147.2 658.7 C148.5 656.6 148.9 654.5 149.7 652.0 C150.6 649.5 150.8 646.4 152.2 643.6 C153.6 640.9 155.9 638.1 158.1 635.3 C160.3 632.5 163.0 629.4 165.6 626.9 C168.3 624.4 171.2 622.3 174.0 620.2 C176.8 618.1 179.3 616.2 182.4 614.4 C185.4 612.6 189.0 610.9 192.4 609.4 C195.7 607.8 199.1 606.4 202.4 605.2 C205.8 603.9 209.1 603.1 212.5 601.8 C215.8 600.6 219.2 599.2 222.5 597.6 C225.8 596.1 229.2 594.4 232.5 592.6 C235.9 590.8 239.2 588.9 242.6 586.8 C245.9 584.7 249.6 582.3 252.6 580.1 C255.7 577.8 258.2 575.6 261.0 573.4 C263.8 571.2 266.8 568.9 269.3 566.7 C271.9 564.5 272.9 562.7 276.0 560.0 C279.2 557.3 284.4 552.2 288.1 550.3 C291.8 548.3 295.4 548.5 298.1 548.3 C300.9 548.1 299.8 546.2 304.4 549.0 C309.0 551.9 318.8 559.2 325.7 565.3 C332.6 571.4 341.2 582.0 345.7 585.3 C350.3 588.7 350.3 585.8 353.3 585.3 C356.2 584.8 358.7 583.5 363.3 582.3 C367.9 581.2 375.0 579.4 380.8 578.3 C386.7 577.2 395.2 576.3 398.4 575.8 C401.6 575.3 397.2 575.6 400.0 575.3 C402.8 575.0 410.0 574.6 415.0 574.1 C420.0 573.6 425.5 573.2 430.1 572.3 C434.7 571.5 438.4 570.4 442.6 569.1 C446.8 567.7 451.4 565.9 455.1 564.0 C458.9 562.2 462.2 559.7 465.1 557.8 C468.1 555.9 470.2 554.4 472.7 552.8 C475.2 551.1 473.5 548.2 480.2 547.8 C486.9 547.3 501.1 545.7 512.7 550.3 C524.4 554.9 546.2 567.5 550.3 575.3 C554.5 583.1 540.5 592.8 537.6 596.9 C534.8 601.1 534.7 598.3 533.5 600.3 C532.2 602.2 530.9 605.8 530.1 608.6 C529.3 611.4 528.9 614.2 528.4 617.0 C528.0 619.8 527.6 623.1 527.6 625.4 C527.6 627.6 527.5 629.1 528.4 630.4 C529.4 631.6 531.2 631.8 533.5 632.9 C535.7 634.0 538.8 635.5 541.8 637.1 C544.9 638.6 548.5 641.0 551.9 642.1 C555.2 643.2 558.6 644.0 561.9 643.8 C565.2 643.5 568.6 642.1 571.9 640.4 C575.3 638.7 578.9 636.2 582.0 633.7 C585.0 631.2 587.8 628.1 590.3 625.4 C592.8 622.6 595.1 619.8 597.0 617.0 C599.0 614.2 600.4 611.1 602.1 608.6 C603.7 606.1 605.1 603.9 607.1 601.9 C609.0 600.0 611.5 598.9 613.8 596.9 C616.0 595.0 617.9 592.7 620.5 590.2 C623.0 587.7 626.0 584.2 628.8 581.9 C631.6 579.5 634.7 577.1 637.2 576.0 C639.7 574.9 642.1 574.8 643.9 575.2 C645.7 575.6 646.9 576.8 648.1 578.5 C649.2 580.2 649.3 583.0 650.6 585.2 C651.8 587.4 653.6 589.9 655.6 591.9 C657.5 593.9 660.0 595.5 662.3 596.9 C664.5 598.3 666.5 599.4 669.0 600.3 C671.5 601.1 674.8 602.5 677.3 601.9 C679.8 601.4 681.5 599.4 684.0 596.9 C686.5 594.4 690.4 589.7 692.4 586.9 C694.3 584.1 694.3 582.4 695.7 580.2 C697.1 578.0 698.5 575.4 700.8 573.5 C703.0 571.5 705.8 569.9 709.1 568.5 C712.5 567.1 716.6 566.0 720.8 565.1 C725.0 564.3 729.2 563.9 734.2 563.5 C739.2 563.0 745.4 562.8 750.9 562.6 C756.5 562.4 762.1 562.3 767.7 562.1 C773.3 562.0 777.3 561.9 784.4 561.8 C791.5 561.7 799.1 561.6 810.0 561.5 C820.9 561.3 840.8 560.8 850.0 561.0 C859.2 561.2 860.0 561.7 865.0 562.8 C870.0 563.9 874.6 566.1 880.0 567.8 C885.5 569.5 891.7 571.4 897.6 572.8 C903.4 574.3 909.3 575.3 915.1 576.6 C921.0 577.8 926.8 578.9 932.6 580.3 C938.5 581.8 944.8 583.9 950.2 585.3 C955.6 586.8 959.8 588.1 965.2 589.1 C970.6 590.1 976.9 590.8 982.8 591.6 C988.6 592.4 994.0 593.3 1000.3 594.1 C1006.6 594.9 1013.7 595.8 1020.3 596.6 C1027.0 597.5 1033.7 598.3 1040.4 599.1 C1047.1 600.0 1053.7 600.9 1060.4 601.6 C1067.1 602.3 1074.2 602.8 1080.5 603.4 C1086.7 603.9 1092.2 604.5 1098.0 604.9 C1103.8 605.3 1109.3 605.9 1115.5 605.9 C1121.8 605.9 1129.3 604.9 1135.6 604.9 C1141.8 604.9 1147.3 605.2 1153.1 605.9 C1159.0 606.6 1164.8 607.8 1170.7 609.1 C1176.5 610.5 1182.8 612.5 1188.2 614.2 C1193.6 615.8 1198.6 617.8 1203.2 619.2 C1207.8 620.5 1213.5 621.2 1215.8 622.4 C1218.1 623.7 1218.3 625.1 1217.0 626.7 C1215.8 628.2 1211.8 630.0 1208.2 631.7 C1204.7 633.4 1200.3 635.0 1195.7 636.7 C1191.1 638.4 1185.7 640.0 1180.7 641.7 C1175.7 643.4 1170.2 644.8 1165.6 646.7 C1161.1 648.6 1156.7 650.9 1153.1 653.0 C1149.6 655.1 1146.2 657.2 1144.4 659.3 C1142.5 661.3 1141.2 663.8 1141.8 665.5 C1142.5 667.2 1145.0 668.0 1148.1 669.3 C1151.2 670.5 1156.0 671.6 1160.6 673.0 C1165.2 674.5 1169.8 676.2 1175.7 678.0 C1181.5 679.9 1190.7 682.8 1195.7 684.3 C1200.7 685.8 1204.1 686.6 1205.7 687.1 C1207.4 687.5 1202.4 686.2 1205.7 687.0 C1209.1 687.8 1218.3 690.1 1225.8 692.0 C1233.3 693.9 1242.1 696.1 1250.8 698.3 C1259.6 700.4 1269.6 703.0 1278.4 705.0 C1287.2 707.1 1295.9 709.1 1303.4 710.8 C1311.0 712.5 1316.6 714.0 1323.5 715.1 C1330.4 716.1 1338.5 716.3 1345.0 717.3 C1351.5 718.2 1356.7 719.4 1362.6 720.8 C1368.4 722.1 1374.7 723.7 1380.1 725.3 C1385.5 726.9 1390.1 728.4 1395.1 730.3 C1400.2 732.2 1405.8 734.2 1410.2 736.5 C1414.6 738.8 1418.4 741.1 1421.4 744.1 C1424.5 747.0 1426.8 750.7 1428.2 754.1 C1429.6 757.4 1430.0 760.6 1429.7 764.1 C1429.4 767.7 1428.0 772.0 1426.5 775.4 C1424.9 778.7 1422.9 781.3 1420.2 784.1 C1417.5 787.0 1413.9 790.0 1410.2 792.4 C1406.4 794.8 1402.7 796.6 1397.6 798.4 C1392.6 800.3 1386.4 802.1 1380.1 803.4 C1373.8 804.8 1366.7 805.9 1360.1 806.7 C1353.4 807.4 1347.4 807.9 1340.0 807.9 C1332.7 808.0 1324.2 807.1 1316.0 807.0 C1307.8 806.9 1301.4 807.1 1290.9 807.3 C1280.5 807.4 1265.9 807.8 1253.3 807.8 C1240.8 807.8 1228.3 807.4 1215.8 807.3 C1203.2 807.1 1190.7 807.0 1178.2 806.8 C1165.6 806.5 1152.7 806.3 1140.6 806.0 C1128.5 805.8 1116.0 805.5 1105.5 805.3 C1095.1 805.0 1086.3 805.2 1078.0 804.8 C1069.6 804.3 1063.3 803.5 1055.4 802.7 C1047.5 802.0 1038.7 800.8 1030.4 800.2 C1022.0 799.7 1014.5 799.4 1005.3 799.2 C996.1 799.1 985.3 799.2 975.2 799.2 C965.2 799.3 955.2 799.7 945.2 799.7 C935.2 799.7 924.3 799.5 915.1 799.2 C905.9 799.0 898.4 798.5 890.1 798.5 C881.7 798.5 870.7 799.0 865.0 799.2 C859.3 799.5 857.8 798.8 855.6 800.2 C853.4 801.7 864.4 801.1 851.8 807.8 C839.3 814.4 818.8 837.9 780.4 840.3 C742.1 842.7 649.6 826.3 621.7 822.3 C593.8 818.2 616.1 818.5 613.0 816.0 C609.8 813.5 606.7 810.4 602.9 807.3 C599.2 804.1 595.0 800.6 590.4 797.2 C585.8 793.9 580.4 790.3 575.4 787.2 C570.4 784.1 565.4 781.2 560.3 778.4 C555.3 775.7 550.3 773.1 545.3 770.9 C540.3 768.7 536.1 766.8 530.3 765.2 C524.4 763.5 516.9 762.2 510.2 760.9 C503.6 759.7 496.9 758.5 490.2 757.7 C483.5 756.8 476.8 756.3 470.2 755.9 C463.5 755.5 456.8 755.1 450.1 755.1 C443.4 755.1 435.9 755.4 430.1 755.9 C424.2 756.4 420.0 757.6 415.0 758.4 C410.0 759.2 406.5 759.7 400.0 760.9 C393.5 762.2 384.0 764.7 375.8 765.9 C367.6 767.2 359.1 767.7 350.8 768.4 C342.4 769.1 334.1 769.8 325.7 770.2 C317.3 770.6 309.0 770.8 300.6 770.9 C292.3 771.1 283.9 770.8 275.6 770.9 C267.2 771.1 258.9 771.5 250.5 771.7 C242.2 771.9 232.6 771.9 225.5 772.2 C218.4 772.5 213.0 772.8 207.9 773.4 C202.9 774.1 200.0 774.9 195.4 775.9 C190.8 777.0 185.4 778.3 180.4 779.7 C175.4 781.1 169.5 783.0 165.4 784.2 C161.2 785.5 158.7 786.7 155.3 787.2 C152.0 787.7 148.7 787.4 145.3 787.2 C142.0 787.0 141.6 781.8 135.3 786.0 C129.0 790.1 116.5 804.5 107.7 812.3 C99.0 820.0 88.1 829.1 82.7 832.3 C77.2 835.6 78.9 832.4 75.2 831.8 C71.4 831.2 65.1 829.7 60.1 828.6 C55.1 827.4 49.7 826.3 45.1 824.8 C40.5 823.3 35.9 821.2 32.6 819.8 C29.2 818.3 28.8 818.1 25.1 816.0 C21.3 813.9 10.0 816.2 10.0 807.3 C10.0 798.3 19.2 778.0 25.1 762.2 C30.9 746.3 40.1 724.6 45.1 712.1 C50.1 699.6 52.0 691.3 55.2 687.1Z" fill="#fc9272"/>
<path d="M1630.0 575.0 C1630.0 570.8 1631.7 568.3 1635.0 565.0 C1638.3 561.7 1645.0 558.3 1650.0 555.0 C1655.0 551.7 1660.8 547.7 1665.0 545.0 C1669.2 542.3 1670.8 539.0 1675.0 539.0 C1679.2 539.0 1685.0 542.8 1690.0 545.0 C1695.0 547.2 1702.1 549.2 1705.0 552.5 C1707.9 555.8 1707.9 560.4 1707.5 565.0 C1707.1 569.6 1705.4 575.8 1702.5 580.0 C1699.6 584.2 1695.4 587.5 1690.0 590.0 C1684.6 592.5 1676.7 594.0 1670.0 595.0 C1663.3 596.0 1655.8 596.8 1650.0 596.0 C1644.2 595.2 1638.3 593.5 1635.0 590.0 C1631.7 586.5 1630.0 579.2 1630.0 575.0Z" fill="#fc9272"/>
<path d="M1735.0 580.0 C1734.6 578.1 1735.4 574.6 1737.5 572.5 C1739.6 570.4 1744.2 567.9 1747.5 567.5 C1750.8 567.1 1755.4 568.8 1757.5 570.0 C1759.6 571.2 1761.2 573.2 1760.0 575.0 C1758.8 576.8 1753.3 579.5 1750.0 581.0 C1746.7 582.5 1742.5 584.2 1740.0 584.0 C1737.5 583.8 1735.4 581.9 1735.0 580.0Z" fill="#fc9272"/>
<path d="M1770.0 627.5 C1770.4 624.3 1776.7 618.8 1780.0 615.0 C1783.3 611.2 1786.2 607.1 1790.0 605.0 C1793.8 602.9 1797.5 601.7 1802.5 602.5 C1807.5 603.3 1817.9 607.1 1820.0 610.0 C1822.1 612.9 1817.5 616.7 1815.0 620.0 C1812.5 623.3 1809.2 627.5 1805.0 630.0 C1800.8 632.5 1794.6 634.3 1790.0 635.0 C1785.4 635.7 1780.8 635.2 1777.5 634.0 C1774.2 632.8 1769.6 630.7 1770.0 627.5Z" fill="#fc9272"/>
<path d="M46.8 702.2 C49.8 688.0 52.4 702.2 55.2 702.2 C58.0 702.2 60.5 702.3 63.6 702.2 C66.6 702.1 70.3 702.1 73.6 701.9 C77.0 701.6 80.3 701.3 83.6 700.5 C87.0 699.7 90.3 698.4 93.7 697.2 C97.0 695.9 100.4 694.4 103.7 693.0 C107.1 691.6 110.4 690.2 113.8 688.8 C117.1 687.4 120.5 685.9 123.8 684.6 C127.1 683.4 130.5 682.4 133.8 681.3 C137.2 680.2 140.5 679.1 143.9 677.9 C147.2 676.8 150.6 675.9 153.9 674.6 C157.3 673.3 160.9 671.8 164.0 670.4 C167.0 669.0 169.8 667.9 172.3 666.2 C174.8 664.6 177.3 662.5 179.0 660.4 C180.7 658.3 181.4 656.2 182.4 653.7 C183.3 651.2 183.7 647.8 184.9 645.3 C186.0 642.8 187.2 640.9 189.0 638.6 C190.9 636.4 193.2 634.0 195.7 631.9 C198.2 629.8 201.0 627.9 204.1 626.1 C207.2 624.3 210.8 622.6 214.1 621.1 C217.5 619.5 220.8 618.4 224.2 616.9 C227.5 615.3 230.9 613.7 234.2 611.9 C237.6 610.0 240.9 608.1 244.3 606.0 C247.6 603.9 250.9 601.7 254.3 599.3 C257.6 596.9 261.0 594.3 264.3 591.8 C267.7 589.3 271.0 586.8 274.4 584.3 C277.7 581.7 281.1 579.2 284.4 576.7 C287.7 574.2 292.2 571.3 294.4 569.2 C296.7 567.1 295.9 565.2 298.1 564.0 C300.4 562.9 302.7 558.7 308.2 562.3 C313.6 565.8 323.6 577.3 330.7 585.3 C337.8 593.4 345.3 604.6 350.8 610.4 C356.2 616.2 359.9 619.2 363.3 619.9 C366.6 620.7 368.7 616.5 370.8 614.9 C372.9 613.3 372.5 612.2 375.8 610.4 C379.1 608.6 386.7 605.7 390.8 604.1 C395.0 602.6 399.3 601.3 400.9 601.1 C402.4 600.9 398.1 603.0 400.0 602.9 C401.9 602.8 408.4 601.2 412.5 600.4 C416.7 599.5 420.9 598.7 425.1 597.9 C429.2 597.0 433.4 596.6 437.6 595.4 C441.8 594.1 446.3 592.4 450.1 590.4 C453.9 588.3 457.2 585.3 460.1 582.8 C463.1 580.3 465.1 577.8 467.6 575.3 C470.2 572.8 472.7 570.1 475.2 567.8 C477.7 565.5 477.9 561.8 482.7 561.5 C487.4 561.3 499.4 564.6 503.8 566.1 C508.1 567.6 507.3 568.8 508.9 570.4 C510.5 572.0 511.6 573.8 513.4 575.8 C515.3 577.8 518.6 580.5 519.9 582.3 C521.1 584.1 521.5 584.9 521.0 586.6 C520.4 588.2 517.9 590.1 516.7 591.9 C515.4 593.7 514.4 595.3 513.4 597.3 C512.5 599.3 511.4 601.6 510.8 603.8 C510.1 605.9 509.5 608.1 509.7 610.2 C509.9 612.4 511.0 615.2 511.8 616.7 C512.6 618.1 513.2 617.0 514.5 618.8 C515.9 620.6 518.1 624.2 519.9 627.4 C521.7 630.6 523.1 632.4 525.3 638.2 C527.4 644.0 530.4 657.9 532.6 662.2 C534.8 666.4 535.6 663.3 538.5 663.8 C541.4 664.3 546.3 664.8 550.2 665.2 C554.1 665.5 558.8 665.6 561.9 665.8 C565.0 666.0 562.2 668.1 568.6 666.3 C575.0 664.6 588.5 660.7 600.4 655.5 C612.3 650.2 632.2 639.6 640.0 634.9 C647.8 630.2 644.6 629.5 647.2 627.0 C649.8 624.6 652.8 622.4 655.6 620.3 C658.4 618.2 661.5 615.9 664.0 614.5 C666.4 613.0 666.8 611.2 670.1 611.6 C673.5 612.1 679.6 615.3 684.0 617.0 C688.5 618.7 693.4 622.6 696.7 622.0 C700.1 621.5 701.8 616.4 704.1 613.6 C706.4 610.9 708.8 607.8 710.8 605.3 C712.7 602.8 713.6 600.3 715.8 598.6 C718.0 596.9 721.1 596.0 724.2 595.2 C727.2 594.5 729.8 594.2 734.2 593.9 C738.7 593.6 742.6 593.4 750.9 593.2 C759.3 593.0 774.6 592.9 784.4 592.7 C794.2 592.6 796.6 591.8 810.0 592.2 C823.4 592.7 853.3 594.8 865.0 595.4 C876.7 596.0 875.0 595.4 880.0 595.9 C885.0 596.3 889.2 596.9 895.1 597.9 C900.9 598.8 908.8 600.5 915.1 601.6 C921.4 602.8 926.8 604.2 932.6 604.9 C938.5 605.6 943.9 605.8 950.2 605.9 C956.4 606.0 963.5 605.1 970.2 605.4 C976.9 605.6 983.6 606.6 990.3 607.4 C997.0 608.2 1003.6 609.4 1010.3 610.4 C1017.0 611.4 1023.7 612.4 1030.4 613.4 C1037.0 614.4 1043.7 615.5 1050.4 616.7 C1057.1 617.8 1064.2 619.2 1070.4 620.4 C1076.7 621.7 1083.0 623.1 1088.0 624.2 C1093.0 625.2 1097.4 625.4 1100.5 626.7 C1103.6 627.9 1105.9 629.6 1106.8 631.7 C1107.6 633.8 1106.6 636.7 1105.5 639.2 C1104.5 641.7 1102.4 644.2 1100.5 646.7 C1098.6 649.2 1096.1 651.7 1094.2 654.2 C1092.4 656.7 1090.3 659.7 1089.2 661.8 C1088.2 663.8 1086.9 665.1 1088.0 666.8 C1089.0 668.4 1091.7 670.3 1095.5 671.8 C1099.3 673.2 1105.5 674.3 1110.5 675.5 C1115.5 676.8 1120.5 678.0 1125.6 679.3 C1130.6 680.5 1135.6 681.8 1140.6 683.1 C1145.6 684.3 1153.1 686.4 1155.6 687.1 C1158.1 687.7 1152.3 686.2 1155.6 687.0 C1159.0 687.8 1168.2 690.1 1175.7 692.0 C1183.2 693.9 1192.4 696.4 1200.7 698.3 C1209.1 700.2 1217.4 701.6 1225.8 703.3 C1234.1 705.0 1242.5 706.6 1250.8 708.3 C1259.2 710.0 1267.5 711.4 1275.9 713.3 C1284.2 715.2 1293.4 717.6 1300.9 719.6 C1308.5 721.5 1314.0 723.1 1321.0 725.1 C1327.9 727.1 1336.4 729.6 1342.5 731.5 C1348.6 733.4 1352.5 734.7 1357.6 736.5 C1362.6 738.4 1368.2 740.7 1372.6 742.8 C1377.0 744.9 1380.7 746.8 1383.9 749.1 C1387.0 751.4 1389.8 754.1 1391.4 756.6 C1392.9 759.1 1393.6 761.4 1393.1 764.1 C1392.7 766.8 1391.0 770.2 1388.9 772.9 C1386.7 775.6 1383.7 778.1 1380.1 780.4 C1376.6 782.7 1372.2 784.9 1367.6 786.7 C1363.0 788.4 1357.6 789.9 1352.5 790.9 C1347.5 792.0 1343.6 792.7 1337.5 792.9 C1331.4 793.1 1323.7 792.3 1316.0 792.2 C1308.2 792.1 1300.9 792.3 1290.9 792.2 C1280.9 792.1 1268.4 791.9 1255.8 791.7 C1243.3 791.5 1228.7 791.2 1215.8 791.0 C1202.8 790.7 1190.7 790.3 1178.2 790.2 C1165.6 790.1 1152.7 790.4 1140.6 790.2 C1128.5 790.1 1116.4 789.8 1105.5 789.2 C1094.7 788.6 1084.6 787.7 1075.5 786.7 C1066.3 785.8 1058.8 784.4 1050.4 783.5 C1042.0 782.5 1033.7 781.5 1025.3 781.0 C1017.0 780.4 1008.6 780.1 1000.3 780.2 C991.9 780.3 983.6 781.4 975.2 781.7 C966.9 782.0 958.5 782.3 950.2 782.2 C941.8 782.1 932.6 781.5 925.1 781.0 C917.6 780.5 911.8 779.6 905.1 779.2 C898.4 778.8 891.7 778.7 885.0 778.4 C878.4 778.2 868.4 777.8 865.0 777.7 C861.6 777.6 867.3 777.9 864.9 777.7 C862.5 777.5 854.6 776.9 850.6 776.4 C846.5 776.0 843.5 775.2 840.6 775.2 C837.6 775.2 836.4 774.8 833.0 776.4 C829.7 778.1 824.8 782.8 820.5 785.2 C816.2 787.6 810.8 789.9 807.1 791.0 C803.4 792.1 801.9 791.9 798.4 791.7 C794.8 791.5 790.0 790.7 785.8 789.7 C781.7 788.8 783.3 783.0 773.3 786.0 C763.3 788.9 746.2 801.2 725.7 807.3 C705.2 813.3 666.2 820.4 650.5 822.3 C634.9 824.2 635.9 820.2 631.7 818.5 C627.6 816.9 628.2 815.0 625.5 812.3 C622.8 809.6 618.8 805.6 615.5 802.2 C612.1 798.9 609.2 795.8 605.4 792.2 C601.7 788.7 597.1 784.5 592.9 781.0 C588.7 777.4 585.0 774.1 580.4 770.9 C575.8 767.8 570.4 764.9 565.4 762.2 C560.3 759.4 555.3 756.9 550.3 754.6 C545.3 752.3 540.7 750.3 535.3 748.4 C529.9 746.5 523.6 744.8 517.8 743.4 C511.9 741.9 506.5 740.7 500.2 739.6 C494.0 738.5 486.4 737.8 480.2 736.6 C473.9 735.4 468.5 733.7 462.6 732.6 C456.8 731.5 450.5 730.6 445.1 730.1 C439.7 729.6 435.1 729.3 430.1 729.6 C425.1 729.8 420.0 730.8 415.0 731.6 C410.0 732.3 403.2 733.9 400.0 734.1 C396.8 734.3 398.6 732.9 395.9 732.6 C393.1 732.3 385.8 731.6 383.3 732.1 C380.8 732.6 382.1 734.4 380.8 735.9 C379.6 737.3 378.7 739.5 375.8 740.9 C372.9 742.2 369.5 743.1 363.3 744.1 C357.0 745.2 346.6 746.4 338.2 747.1 C329.9 747.8 321.5 748.4 313.2 748.4 C304.8 748.4 296.1 748.0 288.1 747.1 C280.2 746.3 272.7 744.4 265.6 743.4 C258.5 742.3 251.4 741.9 245.5 740.9 C239.7 739.8 235.1 738.2 230.5 737.1 C225.9 736.1 222.1 734.8 218.0 734.6 C213.8 734.4 208.8 735.0 205.4 735.9 C202.1 736.7 200.4 738.1 197.9 739.6 C195.4 741.2 194.2 743.9 190.4 745.1 C186.7 746.4 180.4 746.4 175.4 747.1 C170.4 747.9 165.4 749.8 160.3 749.6 C155.3 749.4 150.3 747.0 145.3 745.9 C140.3 744.7 134.9 743.0 130.3 742.6 C125.7 742.2 120.5 742.6 117.8 743.4 C115.0 744.1 114.7 745.3 114.0 747.1 C113.2 749.0 112.6 752.1 113.2 754.6 C113.9 757.2 119.1 754.6 117.8 762.2 C116.4 769.7 110.2 790.1 105.2 799.7 C100.2 809.3 91.4 816.7 87.7 819.8 C83.9 822.9 85.2 819.4 82.7 818.5 C80.2 817.7 75.6 816.2 72.7 814.8 C69.7 813.3 67.2 811.9 65.1 809.8 C63.1 807.7 61.2 805.2 60.1 802.2 C59.1 799.3 62.6 794.7 58.9 792.2 C55.1 789.7 39.6 802.2 37.6 787.2 C35.6 772.2 43.9 716.4 46.8 702.2Z" fill="#fb6a4a"/>
<path d="M1662.5 565.0 C1663.8 562.1 1670.4 557.5 1675.0 555.0 C1679.6 552.5 1685.4 550.2 1690.0 550.0 C1694.6 549.8 1700.2 551.9 1702.5 554.0 C1704.8 556.1 1705.2 559.7 1704.0 562.5 C1702.8 565.3 1699.0 568.9 1695.0 571.0 C1691.0 573.1 1684.6 574.8 1680.0 575.0 C1675.4 575.2 1670.4 574.2 1667.5 572.5 C1664.6 570.8 1661.2 567.9 1662.5 565.0Z" fill="#fb6a4a"/>
<path d="M1800.0 613.0 C1800.3 612.2 1802.0 611.4 1803.0 611.5 C1804.0 611.6 1805.8 612.7 1806.0 613.5 C1806.2 614.3 1804.8 616.1 1804.0 616.5 C1803.2 616.9 1801.7 616.6 1801.0 616.0 C1800.3 615.4 1799.7 613.8 1800.0 613.0Z" fill="#fb6a4a"/>
<path d="M349.0 659.4 C349.6 658.2 351.7 657.6 353.8 656.8 C355.8 656.0 358.8 655.3 361.5 654.6 C364.2 654.0 367.2 653.4 370.1 652.9 C373.0 652.4 375.8 652.0 378.7 651.6 C381.6 651.3 384.4 651.1 387.3 650.8 C390.2 650.4 393.0 650.0 395.9 649.5 C398.8 649.0 401.6 648.5 404.5 647.7 C407.4 647.0 410.3 645.9 413.1 644.7 C416.0 643.5 418.9 641.9 421.7 640.4 C424.6 639.0 427.5 637.3 430.3 636.1 C433.2 634.9 436.1 634.0 438.9 633.1 C441.8 632.3 444.7 631.5 447.5 631.0 C450.4 630.4 453.3 630.0 456.1 629.7 C459.0 629.4 461.3 629.4 464.7 629.2 C468.1 629.1 472.8 628.8 476.5 628.8 C480.3 628.7 484.0 629.3 487.3 629.0 C490.5 628.7 493.5 627.0 495.9 626.8 C498.2 626.6 498.0 626.3 501.2 627.9 C504.5 629.5 510.4 631.5 515.2 636.5 C520.1 641.5 527.9 652.7 530.3 658.0 C532.6 663.3 531.0 665.4 529.2 668.2 C527.4 671.1 522.9 672.6 519.5 675.2 C516.1 677.8 512.0 681.4 508.8 683.8 C505.5 686.3 503.0 689.2 500.0 690.0 C497.0 690.8 493.5 689.0 490.5 688.6 C487.5 688.2 484.8 688.0 481.9 687.7 C479.1 687.5 476.2 687.2 473.3 686.9 C470.5 686.5 467.6 686.1 464.7 685.6 C461.9 685.1 459.0 684.4 456.1 683.9 C453.3 683.4 450.4 682.9 447.5 682.6 C444.7 682.2 441.6 681.9 438.9 681.7 C436.2 681.5 433.6 681.4 431.2 681.3 C428.7 681.1 426.6 681.1 424.3 680.9 C422.0 680.6 419.7 679.9 417.4 679.6 C415.1 679.3 412.8 679.0 410.5 679.1 C408.2 679.3 405.9 679.9 403.7 680.4 C401.4 681.0 399.1 682.0 396.8 682.6 C394.5 683.2 392.2 683.7 389.9 683.9 C387.6 684.1 385.2 684.1 383.0 683.9 C380.9 683.7 379.0 683.2 377.0 682.6 C375.0 681.9 373.0 681.0 371.0 680.0 C369.0 679.0 367.0 677.8 364.9 676.6 C362.9 675.3 360.8 673.7 358.9 672.3 C357.1 670.8 355.2 669.4 353.8 668.0 C352.3 666.5 351.1 665.1 350.3 663.7 C349.5 662.2 348.5 660.5 349.0 659.4Z" fill="#de2d26"/>
<path d="M580.5 718.6 C576.4 715.1 582.2 713.9 585.5 711.9 C588.9 710.0 597.8 709.1 600.6 706.9 C603.4 704.7 601.2 700.5 602.3 698.6 C603.4 696.6 603.7 698.0 607.3 695.2 C610.9 692.4 618.8 686.5 624.0 681.8 C629.3 677.2 634.7 669.8 638.9 667.2 C643.0 664.6 645.3 666.5 648.9 666.3 C652.5 666.2 656.4 666.5 660.6 666.3 C664.8 666.2 670.1 665.9 674.0 665.5 C677.9 665.1 680.7 664.4 684.0 663.8 C687.4 663.3 690.7 662.2 694.1 662.2 C697.4 662.2 700.8 663.0 704.1 663.8 C707.4 664.7 710.8 666.5 714.1 667.2 C717.5 667.9 720.8 668.3 724.2 668.0 C727.5 667.7 731.1 666.8 734.2 665.5 C737.3 664.3 739.8 662.4 742.6 660.5 C745.4 658.5 747.9 656.0 750.9 653.8 C754.0 651.6 757.6 649.3 761.0 647.1 C764.3 644.9 767.1 642.6 771.0 640.4 C774.9 638.2 779.9 635.7 784.4 633.7 C788.9 631.8 793.5 630.0 797.8 628.7 C802.1 627.5 798.8 628.0 810.0 626.2 C821.2 624.4 853.3 619.5 865.0 617.9 C876.7 616.3 875.0 616.7 880.0 616.7 C885.0 616.6 890.1 617.0 895.1 617.4 C900.1 617.8 905.1 618.2 910.1 619.2 C915.1 620.1 920.1 621.5 925.1 622.9 C930.1 624.3 935.6 626.0 940.2 627.4 C944.8 628.9 948.5 630.4 952.7 631.7 C956.9 632.9 961.0 634.3 965.2 635.0 C969.4 635.6 973.6 635.6 977.7 635.5 C981.9 635.3 985.7 634.3 990.3 634.2 C994.9 634.1 1000.7 634.3 1005.3 635.0 C1009.9 635.6 1014.8 636.6 1017.8 638.0 C1020.8 639.3 1022.9 641.1 1023.3 643.0 C1023.8 644.8 1021.7 647.1 1020.3 649.2 C1019.0 651.3 1016.4 653.4 1015.3 655.5 C1014.3 657.6 1013.4 659.7 1014.1 661.8 C1014.7 663.8 1016.4 666.1 1019.1 668.0 C1021.8 669.9 1026.0 671.6 1030.4 673.0 C1034.7 674.5 1040.0 675.3 1045.4 676.8 C1050.8 678.3 1057.5 680.1 1062.9 681.8 C1068.4 683.5 1075.5 686.2 1078.0 687.1 C1080.5 687.9 1075.0 686.0 1078.0 687.0 C1080.9 688.0 1089.2 691.2 1095.5 693.3 C1101.8 695.4 1108.0 697.4 1115.5 699.5 C1123.1 701.6 1132.2 703.7 1140.6 705.8 C1148.9 707.9 1157.3 710.2 1165.6 712.1 C1174.0 713.9 1182.3 715.4 1190.7 717.1 C1199.1 718.7 1207.4 720.4 1215.8 722.1 C1224.1 723.7 1232.5 725.4 1240.8 727.1 C1249.2 728.8 1257.5 730.2 1265.9 732.1 C1274.2 734.0 1283.8 736.1 1290.9 738.4 C1298.0 740.7 1304.1 743.2 1308.5 745.9 C1312.8 748.6 1316.2 751.9 1317.2 754.6 C1318.3 757.4 1316.6 760.1 1314.7 762.2 C1312.8 764.2 1309.9 765.6 1305.9 767.2 C1302.0 768.8 1296.8 770.4 1290.9 771.7 C1285.1 772.9 1278.4 773.9 1270.9 774.7 C1263.4 775.5 1255.0 776.2 1245.8 776.7 C1236.6 777.2 1225.8 777.3 1215.8 777.7 C1205.7 778.1 1195.7 778.8 1185.7 779.2 C1175.7 779.6 1165.6 780.1 1155.6 780.2 C1145.6 780.3 1135.6 780.2 1125.6 779.7 C1115.5 779.2 1105.5 778.2 1095.5 777.2 C1085.5 776.2 1074.6 774.5 1065.4 773.4 C1056.2 772.4 1048.7 771.6 1040.4 770.9 C1032.0 770.3 1023.7 769.7 1015.3 769.7 C1007.0 769.7 997.8 770.5 990.3 770.9 C982.8 771.3 976.9 772.2 970.2 772.2 C963.5 772.2 956.9 771.6 950.2 770.9 C943.5 770.3 936.8 769.5 930.1 768.4 C923.5 767.4 915.9 766.1 910.1 764.7 C904.3 763.2 900.1 761.7 895.1 759.7 C890.1 757.6 885.0 754.4 880.0 752.1 C875.0 749.8 865.5 746.8 865.0 745.9 C864.5 744.9 878.5 749.0 876.9 746.4 C875.3 743.7 869.3 732.7 855.6 730.1 C841.9 727.5 803.7 729.7 794.6 730.8 C785.5 732.0 798.6 735.0 800.9 737.1 C803.2 739.2 806.3 741.3 808.4 743.4 C810.5 745.5 812.1 748.4 813.4 749.6 C814.6 750.9 815.5 747.5 815.9 750.9 C816.3 754.2 816.9 764.0 815.9 769.7 C814.9 775.3 811.3 782.4 809.6 784.7 C808.0 787.0 808.6 783.7 805.9 783.5 C803.2 783.2 797.5 783.9 793.3 783.5 C789.2 783.0 785.0 781.8 780.8 781.0 C776.6 780.1 777.5 776.6 768.3 778.4 C759.1 780.3 743.2 787.4 725.7 792.2 C708.2 797.0 676.2 803.5 663.1 807.3 C649.9 811.0 650.1 814.1 646.8 814.8 C643.4 815.4 644.7 813.1 643.0 811.0 C641.4 808.9 639.1 805.4 636.8 802.2 C634.5 799.1 632.0 795.6 629.2 792.2 C626.5 788.9 623.2 785.5 620.5 782.2 C617.8 778.9 615.0 775.5 613.0 772.2 C610.9 768.8 609.2 765.5 607.9 762.2 C606.7 758.8 605.7 755.5 605.4 752.1 C605.2 748.8 605.9 745.3 606.7 742.1 C607.5 739.0 614.8 737.3 610.5 733.3 C606.1 729.4 584.7 722.2 580.5 718.6Z" fill="#de2d26"/>
<path d="M644.3 764.7 C644.1 762.0 644.9 759.4 646.8 757.2 C648.7 754.9 652.0 752.6 655.5 750.9 C659.1 749.1 663.5 747.9 668.1 746.6 C672.7 745.4 677.7 744.3 683.1 743.4 C688.5 742.4 695.2 741.4 700.6 740.9 C706.1 740.3 711.1 740.1 715.7 740.1 C720.3 740.1 724.4 740.0 728.2 740.9 C732.0 741.7 734.5 743.9 738.2 745.1 C742.0 746.4 746.6 747.1 750.8 748.4 C754.9 749.6 759.1 751.2 763.3 752.6 C767.5 754.1 771.2 756.0 775.8 757.2 C780.4 758.3 786.2 759.2 790.8 759.7 C795.4 760.2 800.0 759.9 803.4 760.2 C806.7 760.4 808.8 759.7 810.9 760.9 C813.0 762.1 815.9 764.2 815.9 767.2 C815.9 770.1 812.6 776.8 810.9 778.4 C809.2 780.1 808.4 777.8 805.9 777.2 C803.4 776.6 799.6 775.3 795.9 774.7 C792.1 774.1 787.1 773.9 783.3 773.4 C779.6 773.0 782.9 769.9 773.3 772.2 C763.7 774.5 742.0 783.5 725.7 787.2 C709.4 791.0 685.2 794.3 675.6 794.7 C666.0 795.1 671.0 791.8 668.1 789.7 C665.2 787.6 661.4 784.9 658.1 782.2 C654.7 779.5 650.3 776.4 648.0 773.4 C645.7 770.5 644.5 767.4 644.3 764.7Z" fill="#a50f15"/>
<path d="M831.2 661.9 C831.2 659.1 831.6 655.9 833.7 653.5 C835.8 651.2 839.8 649.2 843.7 647.7 C847.6 646.1 852.6 645.0 857.1 644.3 C861.6 643.6 866.3 643.5 870.5 643.5 C874.7 643.5 878.3 643.5 882.2 644.3 C886.1 645.2 889.7 647.0 893.9 648.5 C898.1 650.0 903.4 651.9 907.3 653.5 C911.2 655.2 914.5 656.7 917.3 658.6 C920.1 660.4 921.5 662.2 924.0 664.4 C926.5 666.6 929.0 669.6 932.4 671.9 C935.7 674.3 939.9 677.0 944.1 678.6 C948.3 680.3 952.7 680.6 957.5 682.0 C962.3 683.4 967.3 685.3 972.7 687.0 C978.2 688.7 984.0 690.1 990.3 692.0 C996.5 693.9 1003.6 696.2 1010.3 698.3 C1017.0 700.4 1023.7 702.9 1030.4 704.5 C1037.0 706.2 1043.7 707.7 1050.4 708.3 C1057.1 708.9 1063.8 707.9 1070.4 708.3 C1077.1 708.7 1083.8 709.3 1090.5 710.8 C1097.2 712.3 1104.3 715.0 1110.5 717.1 C1116.8 719.2 1122.6 721.7 1128.1 723.3 C1133.5 725.0 1138.1 726.4 1143.1 727.1 C1148.1 727.8 1153.5 726.8 1158.1 727.6 C1162.7 728.3 1167.7 729.8 1170.7 731.6 C1173.6 733.4 1175.5 736.0 1175.7 738.4 C1175.9 740.7 1174.0 743.7 1171.9 745.9 C1169.8 748.1 1166.7 749.8 1163.1 751.6 C1159.6 753.4 1155.2 755.2 1150.6 756.6 C1146.0 758.1 1141.4 759.2 1135.6 760.2 C1129.7 761.1 1122.2 762.0 1115.5 762.2 C1108.9 762.3 1102.2 761.7 1095.5 760.9 C1088.8 760.1 1082.1 758.5 1075.5 757.2 C1068.8 755.8 1062.1 754.1 1055.4 752.6 C1048.7 751.2 1042.0 749.5 1035.4 748.4 C1028.7 747.3 1022.0 746.3 1015.3 745.9 C1008.6 745.5 1002.0 745.5 995.3 745.9 C988.6 746.3 981.1 747.7 975.2 748.4 C969.4 749.1 966.1 749.9 960.2 750.1 C954.4 750.3 946.8 750.1 940.2 749.6 C933.5 749.1 926.4 748.6 920.1 747.1 C913.9 745.7 908.0 743.2 902.6 740.9 C897.2 738.6 892.1 736.1 887.5 733.3 C883.0 730.6 878.8 726.9 875.0 724.6 C871.3 722.3 866.3 720.8 865.0 719.6 C863.7 718.3 867.9 719.2 867.1 717.1 C866.4 715.0 862.7 710.4 860.5 707.1 C858.2 703.7 856.0 700.4 853.8 697.0 C851.5 693.7 849.3 690.1 847.1 687.0 C844.8 683.9 842.6 681.4 840.4 678.6 C838.1 675.8 835.2 673.1 833.7 670.3 C832.2 667.5 831.2 664.7 831.2 661.9Z" fill="#a50f15"/>

<g id="gridb">
<g class="grid gh">
<line x1="0" x2="1860" y1="447.3" y2="447.3"/>
<line x1="0" x2="1860" y1="669.5" y2="669.5"/>
<line x1="0" x2="1860" y1="891.7" y2="891.7"/>
</g>
<g class="grid gv">
<line y1="399" y2="950" x1="205.5" x2="205.5"/>
<line y1="399" y2="950" x1="427" x2="427"/>
<line y1="399" y2="950" x1="649.3" x2="649.3"/>
<line y1="399" y2="950" x1="871" x2="871"/>
<line y1="399" y2="950" x1="1093.3" x2="1093.3"/>
<line y1="399" y2="950" x1="1315.3" x2="1315.3"/>
<line y1="399" y2="950" x1="1537" x2="1537"/>
<line y1="399" y2="950" x1="1758.8" x2="1758.8"/>
</g>
</g>
<g opacity="0.62">
<path d="M349.0 659.4 C349.6 658.2 351.7 657.6 353.8 656.8 C355.8 656.0 358.8 655.3 361.5 654.6 C364.2 654.0 367.2 653.4 370.1 652.9 C373.0 652.4 375.8 652.0 378.7 651.6 C381.6 651.3 384.4 651.1 387.3 650.8 C390.2 650.4 393.0 650.0 395.9 649.5 C398.8 649.0 401.6 648.5 404.5 647.7 C407.4 647.0 410.3 645.9 413.1 644.7 C416.0 643.5 418.9 641.9 421.7 640.4 C424.6 639.0 427.5 637.3 430.3 636.1 C433.2 634.9 436.1 634.0 438.9 633.1 C441.8 632.3 444.7 631.5 447.5 631.0 C450.4 630.4 453.3 630.0 456.1 629.7 C459.0 629.4 461.3 629.4 464.7 629.2 C468.1 629.1 472.8 628.8 476.5 628.8 C480.3 628.7 484.0 629.3 487.3 629.0 C490.5 628.7 493.5 627.0 495.9 626.8 C498.2 626.6 498.0 626.3 501.2 627.9 C504.5 629.5 510.4 631.5 515.2 636.5 C520.1 641.5 527.9 652.7 530.3 658.0 C532.6 663.3 531.0 665.4 529.2 668.2 C527.4 671.1 522.9 672.6 519.5 675.2 C516.1 677.8 512.0 681.4 508.8 683.8 C505.5 686.3 503.0 689.2 500.0 690.0 C497.0 690.8 493.5 689.0 490.5 688.6 C487.5 688.2 484.8 688.0 481.9 687.7 C479.1 687.5 476.2 687.2 473.3 686.9 C470.5 686.5 467.6 686.1 464.7 685.6 C461.9 685.1 459.0 684.4 456.1 683.9 C453.3 683.4 450.4 682.9 447.5 682.6 C444.7 682.2 441.6 681.9 438.9 681.7 C436.2 681.5 433.6 681.4 431.2 681.3 C428.7 681.1 426.6 681.1 424.3 680.9 C422.0 680.6 419.7 679.9 417.4 679.6 C415.1 679.3 412.8 679.0 410.5 679.1 C408.2 679.3 405.9 679.9 403.7 680.4 C401.4 681.0 399.1 682.0 396.8 682.6 C394.5 683.2 392.2 683.7 389.9 683.9 C387.6 684.1 385.2 684.1 383.0 683.9 C380.9 683.7 379.0 683.2 377.0 682.6 C375.0 681.9 373.0 681.0 371.0 680.0 C369.0 679.0 367.0 677.8 364.9 676.6 C362.9 675.3 360.8 673.7 358.9 672.3 C357.1 670.8 355.2 669.4 353.8 668.0 C352.3 666.5 351.1 665.1 350.3 663.7 C349.5 662.2 348.5 660.5 349.0 659.4Z" fill="#de2d26"/>
<path d="M580.5 718.6 C576.4 715.1 582.2 713.9 585.5 711.9 C588.9 710.0 597.8 709.1 600.6 706.9 C603.4 704.7 601.2 700.5 602.3 698.6 C603.4 696.6 603.7 698.0 607.3 695.2 C610.9 692.4 618.8 686.5 624.0 681.8 C629.3 677.2 634.7 669.8 638.9 667.2 C643.0 664.6 645.3 666.5 648.9 666.3 C652.5 666.2 656.4 666.5 660.6 666.3 C664.8 666.2 670.1 665.9 674.0 665.5 C677.9 665.1 680.7 664.4 684.0 663.8 C687.4 663.3 690.7 662.2 694.1 662.2 C697.4 662.2 700.8 663.0 704.1 663.8 C707.4 664.7 710.8 666.5 714.1 667.2 C717.5 667.9 720.8 668.3 724.2 668.0 C727.5 667.7 731.1 666.8 734.2 665.5 C737.3 664.3 739.8 662.4 742.6 660.5 C745.4 658.5 747.9 656.0 750.9 653.8 C754.0 651.6 757.6 649.3 761.0 647.1 C764.3 644.9 767.1 642.6 771.0 640.4 C774.9 638.2 779.9 635.7 784.4 633.7 C788.9 631.8 793.5 630.0 797.8 628.7 C802.1 627.5 798.8 628.0 810.0 626.2 C821.2 624.4 853.3 619.5 865.0 617.9 C876.7 616.3 875.0 616.7 880.0 616.7 C885.0 616.6 890.1 617.0 895.1 617.4 C900.1 617.8 905.1 618.2 910.1 619.2 C915.1 620.1 920.1 621.5 925.1 622.9 C930.1 624.3 935.6 626.0 940.2 627.4 C944.8 628.9 948.5 630.4 952.7 631.7 C956.9 632.9 961.0 634.3 965.2 635.0 C969.4 635.6 973.6 635.6 977.7 635.5 C981.9 635.3 985.7 634.3 990.3 634.2 C994.9 634.1 1000.7 634.3 1005.3 635.0 C1009.9 635.6 1014.8 636.6 1017.8 638.0 C1020.8 639.3 1022.9 641.1 1023.3 643.0 C1023.8 644.8 1021.7 647.1 1020.3 649.2 C1019.0 651.3 1016.4 653.4 1015.3 655.5 C1014.3 657.6 1013.4 659.7 1014.1 661.8 C1014.7 663.8 1016.4 666.1 1019.1 668.0 C1021.8 669.9 1026.0 671.6 1030.4 673.0 C1034.7 674.5 1040.0 675.3 1045.4 676.8 C1050.8 678.3 1057.5 680.1 1062.9 681.8 C1068.4 683.5 1075.5 686.2 1078.0 687.1 C1080.5 687.9 1075.0 686.0 1078.0 687.0 C1080.9 688.0 1089.2 691.2 1095.5 693.3 C1101.8 695.4 1108.0 697.4 1115.5 699.5 C1123.1 701.6 1132.2 703.7 1140.6 705.8 C1148.9 707.9 1157.3 710.2 1165.6 712.1 C1174.0 713.9 1182.3 715.4 1190.7 717.1 C1199.1 718.7 1207.4 720.4 1215.8 722.1 C1224.1 723.7 1232.5 725.4 1240.8 727.1 C1249.2 728.8 1257.5 730.2 1265.9 732.1 C1274.2 734.0 1283.8 736.1 1290.9 738.4 C1298.0 740.7 1304.1 743.2 1308.5 745.9 C1312.8 748.6 1316.2 751.9 1317.2 754.6 C1318.3 757.4 1316.6 760.1 1314.7 762.2 C1312.8 764.2 1309.9 765.6 1305.9 767.2 C1302.0 768.8 1296.8 770.4 1290.9 771.7 C1285.1 772.9 1278.4 773.9 1270.9 774.7 C1263.4 775.5 1255.0 776.2 1245.8 776.7 C1236.6 777.2 1225.8 777.3 1215.8 777.7 C1205.7 778.1 1195.7 778.8 1185.7 779.2 C1175.7 779.6 1165.6 780.1 1155.6 780.2 C1145.6 780.3 1135.6 780.2 1125.6 779.7 C1115.5 779.2 1105.5 778.2 1095.5 777.2 C1085.5 776.2 1074.6 774.5 1065.4 773.4 C1056.2 772.4 1048.7 771.6 1040.4 770.9 C1032.0 770.3 1023.7 769.7 1015.3 769.7 C1007.0 769.7 997.8 770.5 990.3 770.9 C982.8 771.3 976.9 772.2 970.2 772.2 C963.5 772.2 956.9 771.6 950.2 770.9 C943.5 770.3 936.8 769.5 930.1 768.4 C923.5 767.4 915.9 766.1 910.1 764.7 C904.3 763.2 900.1 761.7 895.1 759.7 C890.1 757.6 885.0 754.4 880.0 752.1 C875.0 749.8 865.5 746.8 865.0 745.9 C864.5 744.9 878.5 749.0 876.9 746.4 C875.3 743.7 869.3 732.7 855.6 730.1 C841.9 727.5 803.7 729.7 794.6 730.8 C785.5 732.0 798.6 735.0 800.9 737.1 C803.2 739.2 806.3 741.3 808.4 743.4 C810.5 745.5 812.1 748.4 813.4 749.6 C814.6 750.9 815.5 747.5 815.9 750.9 C816.3 754.2 816.9 764.0 815.9 769.7 C814.9 775.3 811.3 782.4 809.6 784.7 C808.0 787.0 808.6 783.7 805.9 783.5 C803.2 783.2 797.5 783.9 793.3 783.5 C789.2 783.0 785.0 781.8 780.8 781.0 C776.6 780.1 777.5 776.6 768.3 778.4 C759.1 780.3 743.2 787.4 725.7 792.2 C708.2 797.0 676.2 803.5 663.1 807.3 C649.9 811.0 650.1 814.1 646.8 814.8 C643.4 815.4 644.7 813.1 643.0 811.0 C641.4 808.9 639.1 805.4 636.8 802.2 C634.5 799.1 632.0 795.6 629.2 792.2 C626.5 788.9 623.2 785.5 620.5 782.2 C617.8 778.9 615.0 775.5 613.0 772.2 C610.9 768.8 609.2 765.5 607.9 762.2 C606.7 758.8 605.7 755.5 605.4 752.1 C605.2 748.8 605.9 745.3 606.7 742.1 C607.5 739.0 614.8 737.3 610.5 733.3 C606.1 729.4 584.7 722.2 580.5 718.6Z" fill="#de2d26"/>
<path d="M644.3 764.7 C644.1 762.0 644.9 759.4 646.8 757.2 C648.7 754.9 652.0 752.6 655.5 750.9 C659.1 749.1 663.5 747.9 668.1 746.6 C672.7 745.4 677.7 744.3 683.1 743.4 C688.5 742.4 695.2 741.4 700.6 740.9 C706.1 740.3 711.1 740.1 715.7 740.1 C720.3 740.1 724.4 740.0 728.2 740.9 C732.0 741.7 734.5 743.9 738.2 745.1 C742.0 746.4 746.6 747.1 750.8 748.4 C754.9 749.6 759.1 751.2 763.3 752.6 C767.5 754.1 771.2 756.0 775.8 757.2 C780.4 758.3 786.2 759.2 790.8 759.7 C795.4 760.2 800.0 759.9 803.4 760.2 C806.7 760.4 808.8 759.7 810.9 760.9 C813.0 762.1 815.9 764.2 815.9 767.2 C815.9 770.1 812.6 776.8 810.9 778.4 C809.2 780.1 808.4 777.8 805.9 777.2 C803.4 776.6 799.6 775.3 795.9 774.7 C792.1 774.1 787.1 773.9 783.3 773.4 C779.6 773.0 782.9 769.9 773.3 772.2 C763.7 774.5 742.0 783.5 725.7 787.2 C709.4 791.0 685.2 794.3 675.6 794.7 C666.0 795.1 671.0 791.8 668.1 789.7 C665.2 787.6 661.4 784.9 658.1 782.2 C654.7 779.5 650.3 776.4 648.0 773.4 C645.7 770.5 644.5 767.4 644.3 764.7Z" fill="#a50f15"/>
<path d="M831.2 661.9 C831.2 659.1 831.6 655.9 833.7 653.5 C835.8 651.2 839.8 649.2 843.7 647.7 C847.6 646.1 852.6 645.0 857.1 644.3 C861.6 643.6 866.3 643.5 870.5 643.5 C874.7 643.5 878.3 643.5 882.2 644.3 C886.1 645.2 889.7 647.0 893.9 648.5 C898.1 650.0 903.4 651.9 907.3 653.5 C911.2 655.2 914.5 656.7 917.3 658.6 C920.1 660.4 921.5 662.2 924.0 664.4 C926.5 666.6 929.0 669.6 932.4 671.9 C935.7 674.3 939.9 677.0 944.1 678.6 C948.3 680.3 952.7 680.6 957.5 682.0 C962.3 683.4 967.3 685.3 972.7 687.0 C978.2 688.7 984.0 690.1 990.3 692.0 C996.5 693.9 1003.6 696.2 1010.3 698.3 C1017.0 700.4 1023.7 702.9 1030.4 704.5 C1037.0 706.2 1043.7 707.7 1050.4 708.3 C1057.1 708.9 1063.8 707.9 1070.4 708.3 C1077.1 708.7 1083.8 709.3 1090.5 710.8 C1097.2 712.3 1104.3 715.0 1110.5 717.1 C1116.8 719.2 1122.6 721.7 1128.1 723.3 C1133.5 725.0 1138.1 726.4 1143.1 727.1 C1148.1 727.8 1153.5 726.8 1158.1 727.6 C1162.7 728.3 1167.7 729.8 1170.7 731.6 C1173.6 733.4 1175.5 736.0 1175.7 738.4 C1175.9 740.7 1174.0 743.7 1171.9 745.9 C1169.8 748.1 1166.7 749.8 1163.1 751.6 C1159.6 753.4 1155.2 755.2 1150.6 756.6 C1146.0 758.1 1141.4 759.2 1135.6 760.2 C1129.7 761.1 1122.2 762.0 1115.5 762.2 C1108.9 762.3 1102.2 761.7 1095.5 760.9 C1088.8 760.1 1082.1 758.5 1075.5 757.2 C1068.8 755.8 1062.1 754.1 1055.4 752.6 C1048.7 751.2 1042.0 749.5 1035.4 748.4 C1028.7 747.3 1022.0 746.3 1015.3 745.9 C1008.6 745.5 1002.0 745.5 995.3 745.9 C988.6 746.3 981.1 747.7 975.2 748.4 C969.4 749.1 966.1 749.9 960.2 750.1 C954.4 750.3 946.8 750.1 940.2 749.6 C933.5 749.1 926.4 748.6 920.1 747.1 C913.9 745.7 908.0 743.2 902.6 740.9 C897.2 738.6 892.1 736.1 887.5 733.3 C883.0 730.6 878.8 726.9 875.0 724.6 C871.3 722.3 866.3 720.8 865.0 719.6 C863.7 718.3 867.9 719.2 867.1 717.1 C866.4 715.0 862.7 710.4 860.5 707.1 C858.2 703.7 856.0 700.4 853.8 697.0 C851.5 693.7 849.3 690.1 847.1 687.0 C844.8 683.9 842.6 681.4 840.4 678.6 C838.1 675.8 835.2 673.1 833.7 670.3 C832.2 667.5 831.2 664.7 831.2 661.9Z" fill="#a50f15"/>
</g>
<use href="#land"/>
<g clip-path="url(#lcb)"><use href="#gridb"/></g>
<text class="gl" x="1632" y="700" font-size="32.5" textLength="114" lengthAdjust="spacingAndGlyphs">equator</text>
<text class="gl" x="1064" y="857" font-size="32.5" textLength="63" lengthAdjust="spacingAndGlyphs">180°</text>
<text class="yr" x="1555" y="880" textLength="188" lengthAdjust="spacingAndGlyphs">1981-2018</text>
</g>
<!-- footer -->
<text x="629" y="980" font-size="32" font-weight="bold" fill="#333" textLength="634" lengthAdjust="spacingAndGlyphs">Nov-Apr sea surface temperature (°C)</text>
<rect x="557.5" y="995" width="768" height="35" fill="#fee5d9"/>
<rect x="816" y="995" width="129" height="35" fill="#fc9272"/>
<rect x="944" y="995" width="127" height="35" fill="#fb6a4a"/>
<rect x="1070" y="995" width="128" height="35" fill="#de2d26"/>
<rect x="1198" y="995" width="128" height="35" fill="#a50f15"/>
<rect x="557.5" y="994.8" width="768" height="35.5" fill="none" stroke="#333" stroke-width="2.5"/>
<g font-size="32" fill="#333" text-anchor="middle">
<text x="557" y="1063.5">27</text>
<text x="815" y="1063.5">28</text>
<text x="1071" y="1063.5">29</text>
<text x="1326" y="1063.5">30</text>
</g>
<text class="gl" x="1514" y="979.5" font-size="28" textLength="264" lengthAdjust="spacingAndGlyphs">NOAA Climate.gov</text>
<text class="gl" x="1514" y="1015.5" font-size="28" textLength="337" lengthAdjust="spacingAndGlyphs">Data: Roxy et al., 2019</text>
</svg>
</body></html>
